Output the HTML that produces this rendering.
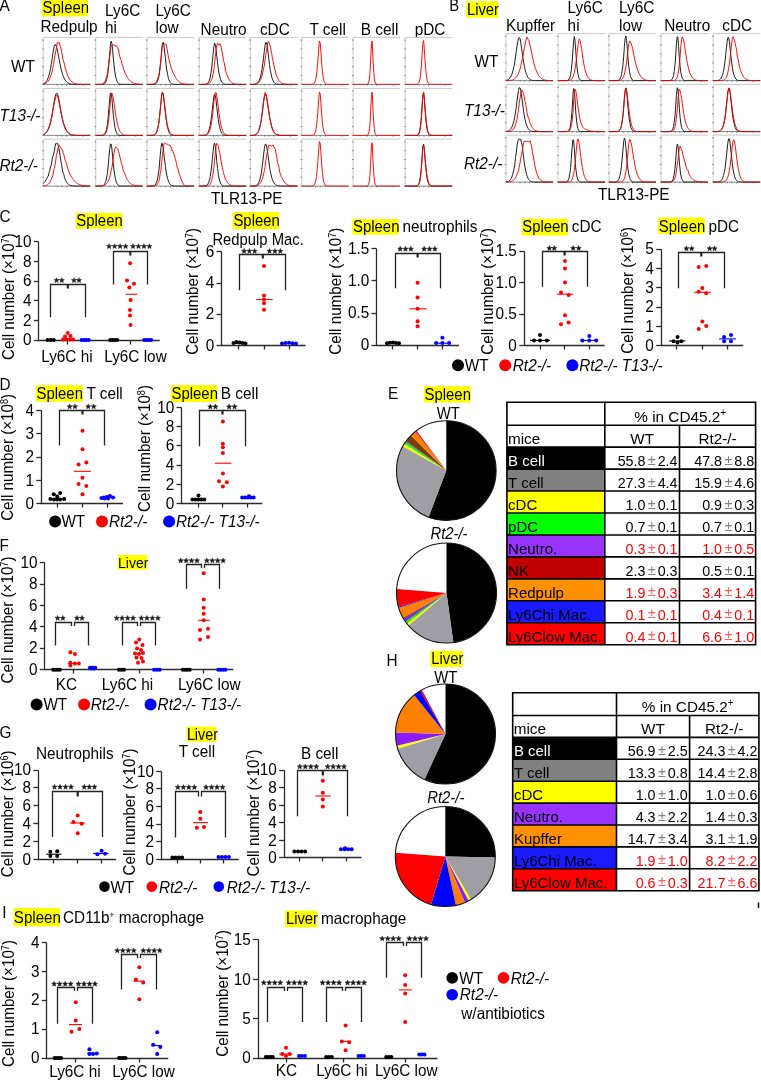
<!DOCTYPE html>
<html><head><meta charset="utf-8"><style>
html,body{margin:0;padding:0;background:#fff;width:761px;height:1080px;overflow:hidden}
svg{display:block;will-change:transform}
text{font-family:"Liberation Sans", sans-serif}
</style></head><body>
<svg width="761" height="1080" viewBox="0 0 761 1080" font-family="Liberation Sans, sans-serif">
<rect width="761" height="1080" fill="#fff"/>
<text transform="translate(-0.5,11.3) scale(0.92,1)" font-size="16.68" text-anchor="start" fill="#000">A</text>
<rect x="42.0" y="0.0" width="45.8" height="16.4" fill="#ffff00"/>
<text transform="translate(42.6,13.4) scale(0.92,1)" font-size="16.23" text-anchor="start" fill="#000">Spleen</text>
<text transform="translate(40.5,32.2) scale(0.92,1)" font-size="16.68" text-anchor="start" fill="#000">Redpulp</text>
<text transform="translate(105.0,15.6) scale(0.92,1)" font-size="16.68" text-anchor="start" fill="#000">Ly6C</text>
<text transform="translate(105.0,33.3) scale(0.92,1)" font-size="16.68" text-anchor="start" fill="#000">hi</text>
<text transform="translate(155.6,15.6) scale(0.92,1)" font-size="16.68" text-anchor="start" fill="#000">Ly6C</text>
<text transform="translate(155.6,33.3) scale(0.92,1)" font-size="16.68" text-anchor="start" fill="#000">low</text>
<text transform="translate(200.6,35.1) scale(0.92,1)" font-size="16.68" text-anchor="start" fill="#000">Neutro</text>
<text transform="translate(259.9,35.1) scale(0.92,1)" font-size="16.68" text-anchor="start" fill="#000">cDC</text>
<text transform="translate(309.5,35.1) scale(0.92,1)" font-size="16.68" text-anchor="start" fill="#000">T cell</text>
<text transform="translate(360.8,35.1) scale(0.92,1)" font-size="16.68" text-anchor="start" fill="#000">B cell</text>
<text transform="translate(414.7,35.1) scale(0.92,1)" font-size="16.68" text-anchor="start" fill="#000">pDC</text>
<text transform="translate(11.0,71.5) scale(0.92,1)" font-size="16.68" text-anchor="start" fill="#000">WT</text>
<text transform="translate(-0.5,120.8) scale(0.92,1)" font-size="16.68" text-anchor="start" fill="#000" font-style="italic">T13-/-</text>
<text transform="translate(-0.5,170.7) scale(0.92,1)" font-size="16.68" text-anchor="start" fill="#000" font-style="italic">Rt2-/-</text>
<text transform="translate(211.0,204.4) scale(0.92,1)" font-size="16.68" text-anchor="start" fill="#000">TLR13-PE</text>
<path d="M43.2,84.4V37.4H90.2" stroke="#c8c8c8" stroke-width="1" fill="none"/>
<path d="M42.0,84.4H43.7" stroke="#777" stroke-width="0.8"/>
<path d="M42.0,75.5H43.7" stroke="#777" stroke-width="0.8"/>
<path d="M42.0,66.7H43.7" stroke="#777" stroke-width="0.8"/>
<path d="M42.0,57.8H43.7" stroke="#777" stroke-width="0.8"/>
<path d="M42.0,48.9H43.7" stroke="#777" stroke-width="0.8"/>
<path d="M42.0,40.1H43.7" stroke="#777" stroke-width="0.8"/>
<path d="M43.2,84.4H90.2" stroke="#888" stroke-width="1"/>
<path d="M43.2,83.9 L43.9,83.6 L44.7,83.2 L45.4,82.6 L46.1,81.7 L46.9,80.6 L47.6,79.2 L48.3,77.3 L49.1,75.0 L49.8,72.1 L50.5,68.6 L51.3,64.3 L52.0,59.5 L52.7,54.5 L53.5,49.9 L54.2,46.3 L55.0,44.6 L55.7,44.8 L56.4,46.4 L57.2,49.1 L57.9,52.7 L58.6,56.6 L59.4,60.7 L60.1,64.4 L60.8,67.9 L61.6,70.9 L62.3,73.4 L63.0,75.6 L63.8,77.4 L64.5,78.9 L65.2,80.1 L66.0,81.1 L66.7,81.9 L67.4,82.6 L68.2,83.1 L68.9,83.4 L69.6,83.7 L70.4,83.9 L71.1,84.1 L71.8,84.2 L72.6,84.3 L73.3,84.3 L74.0,84.3 L74.8,84.4 L75.5,84.4 L76.2,84.4 L77.0,84.4 L77.7,84.4 L78.5,84.4 L79.2,84.4 L79.9,84.4 L80.7,84.4 L81.4,84.4 L82.1,84.4 L82.9,84.4 L83.6,84.4 L84.3,84.4 L85.1,84.4 L85.8,84.4 L86.5,84.4 L87.3,84.4 L88.0,84.4 L88.7,84.4 L89.5,84.4 L90.2,84.4" stroke="#111111" stroke-width="0.95" fill="none" stroke-linejoin="round"/>
<path d="M43.2,84.2 L43.9,84.0 L44.7,83.8 L45.4,83.6 L46.1,83.2 L46.9,82.6 L47.6,81.9 L48.3,81.0 L49.1,79.8 L49.8,78.3 L50.5,76.5 L51.3,74.3 L52.0,72.2 L52.7,68.2 L53.5,64.8 L54.2,59.8 L55.0,55.1 L55.7,51.8 L56.4,47.8 L57.2,42.7 L57.9,42.8 L58.6,43.0 L59.4,42.3 L60.1,45.8 L60.8,47.7 L61.6,51.9 L62.3,55.0 L63.0,59.8 L63.8,61.9 L64.5,64.5 L65.2,68.2 L66.0,70.2 L66.7,72.5 L67.4,74.9 L68.2,76.5 L68.9,77.9 L69.6,79.1 L70.4,80.1 L71.1,81.0 L71.8,81.7 L72.6,82.3 L73.3,82.8 L74.0,83.2 L74.8,83.5 L75.5,83.7 L76.2,83.9 L77.0,84.0 L77.7,84.1 L78.5,84.2 L79.2,84.3 L79.9,84.3 L80.7,84.3 L81.4,84.4 L82.1,84.4 L82.9,84.4 L83.6,84.4 L84.3,84.4 L85.1,84.4 L85.8,84.4 L86.5,84.4 L87.3,84.4 L88.0,84.4 L88.7,84.4 L89.5,84.4 L90.2,84.4" stroke="#ff0000" stroke-width="0.95" fill="none" stroke-linejoin="round"/>
<path d="M57.3,84.4V85.6" stroke="#555" stroke-width="0.8"/>
<path d="M62.0,84.4V85.6" stroke="#555" stroke-width="0.8"/>
<path d="M66.7,84.4V85.6" stroke="#555" stroke-width="0.8"/>
<path d="M83.2,84.4V85.6" stroke="#555" stroke-width="0.8"/>
<path d="M95.7,84.4V37.4H142.7" stroke="#c8c8c8" stroke-width="1" fill="none"/>
<path d="M94.5,84.4H96.2" stroke="#777" stroke-width="0.8"/>
<path d="M94.5,75.5H96.2" stroke="#777" stroke-width="0.8"/>
<path d="M94.5,66.7H96.2" stroke="#777" stroke-width="0.8"/>
<path d="M94.5,57.8H96.2" stroke="#777" stroke-width="0.8"/>
<path d="M94.5,48.9H96.2" stroke="#777" stroke-width="0.8"/>
<path d="M94.5,40.1H96.2" stroke="#777" stroke-width="0.8"/>
<path d="M95.7,84.4H142.7" stroke="#888" stroke-width="1"/>
<path d="M95.7,84.4 L96.4,84.4 L97.2,84.4 L97.9,84.4 L98.6,84.4 L99.4,84.4 L100.1,84.4 L100.8,84.4 L101.6,84.4 L102.3,84.4 L103.0,84.3 L103.8,84.1 L104.5,83.7 L105.2,82.9 L106.0,81.6 L106.7,79.3 L107.5,75.8 L108.2,70.6 L108.9,63.2 L109.7,54.0 L110.4,45.4 L111.1,41.2 L111.9,43.3 L112.6,49.8 L113.3,58.1 L114.1,65.7 L114.8,71.7 L115.5,76.1 L116.3,79.2 L117.0,81.3 L117.7,82.6 L118.5,83.5 L119.2,83.9 L119.9,84.2 L120.7,84.3 L121.4,84.4 L122.1,84.4 L122.9,84.4 L123.6,84.4 L124.3,84.4 L125.1,84.4 L125.8,84.4 L126.5,84.4 L127.3,84.4 L128.0,84.4 L128.7,84.4 L129.5,84.4 L130.2,84.4 L130.9,84.4 L131.7,84.4 L132.4,84.4 L133.2,84.4 L133.9,84.4 L134.6,84.4 L135.4,84.4 L136.1,84.4 L136.8,84.4 L137.6,84.4 L138.3,84.4 L139.0,84.4 L139.8,84.4 L140.5,84.4 L141.2,84.4 L142.0,84.4 L142.7,84.4" stroke="#111111" stroke-width="0.95" fill="none" stroke-linejoin="round"/>
<path d="M95.7,84.4 L96.4,84.4 L97.2,84.4 L97.9,84.4 L98.6,84.4 L99.4,84.4 L100.1,84.4 L100.8,84.3 L101.6,84.2 L102.3,84.0 L103.0,83.7 L103.8,83.1 L104.5,82.2 L105.2,80.9 L106.0,79.0 L106.7,76.5 L107.5,74.0 L108.2,67.8 L108.9,62.5 L109.7,56.7 L110.4,51.4 L111.1,45.7 L111.9,45.9 L112.6,45.4 L113.3,45.0 L114.1,45.4 L114.8,44.9 L115.5,46.1 L116.3,45.5 L117.0,47.3 L117.7,47.8 L118.5,50.0 L119.2,54.2 L119.9,56.8 L120.7,59.4 L121.4,60.4 L122.1,64.3 L122.9,66.3 L123.6,69.4 L124.3,70.9 L125.1,73.1 L125.8,74.8 L126.5,75.9 L127.3,77.2 L128.0,78.3 L128.7,79.2 L129.5,80.1 L130.2,80.8 L130.9,81.5 L131.7,82.0 L132.4,82.5 L133.2,82.9 L133.9,83.2 L134.6,83.4 L135.4,83.6 L136.1,83.8 L136.8,84.0 L137.6,84.1 L138.3,84.1 L139.0,84.2 L139.8,84.3 L140.5,84.3 L141.2,84.3 L142.0,84.3 L142.7,84.4" stroke="#ff0000" stroke-width="0.95" fill="none" stroke-linejoin="round"/>
<path d="M109.8,84.4V85.6" stroke="#555" stroke-width="0.8"/>
<path d="M114.5,84.4V85.6" stroke="#555" stroke-width="0.8"/>
<path d="M119.2,84.4V85.6" stroke="#555" stroke-width="0.8"/>
<path d="M135.7,84.4V85.6" stroke="#555" stroke-width="0.8"/>
<path d="M147.0,84.4V37.4H194.0" stroke="#c8c8c8" stroke-width="1" fill="none"/>
<path d="M145.8,84.4H147.5" stroke="#777" stroke-width="0.8"/>
<path d="M145.8,75.5H147.5" stroke="#777" stroke-width="0.8"/>
<path d="M145.8,66.7H147.5" stroke="#777" stroke-width="0.8"/>
<path d="M145.8,57.8H147.5" stroke="#777" stroke-width="0.8"/>
<path d="M145.8,48.9H147.5" stroke="#777" stroke-width="0.8"/>
<path d="M145.8,40.1H147.5" stroke="#777" stroke-width="0.8"/>
<path d="M147.0,84.4H194.0" stroke="#888" stroke-width="1"/>
<path d="M147.0,84.4 L147.7,84.4 L148.5,84.4 L149.2,84.4 L149.9,84.4 L150.7,84.4 L151.4,84.4 L152.1,84.4 L152.9,84.4 L153.6,84.3 L154.3,84.2 L155.1,84.0 L155.8,83.7 L156.5,82.9 L157.3,81.7 L158.0,79.7 L158.8,76.7 L159.5,72.4 L160.2,66.4 L161.0,58.6 L161.7,50.2 L162.4,43.8 L163.2,42.2 L163.9,45.2 L164.6,51.0 L165.4,58.1 L166.1,64.7 L166.8,70.2 L167.6,74.4 L168.3,77.6 L169.0,79.9 L169.8,81.6 L170.5,82.7 L171.2,83.4 L172.0,83.9 L172.7,84.1 L173.4,84.3 L174.2,84.3 L174.9,84.4 L175.6,84.4 L176.4,84.4 L177.1,84.4 L177.8,84.4 L178.6,84.4 L179.3,84.4 L180.0,84.4 L180.8,84.4 L181.5,84.4 L182.2,84.4 L183.0,84.4 L183.7,84.4 L184.5,84.4 L185.2,84.4 L185.9,84.4 L186.7,84.4 L187.4,84.4 L188.1,84.4 L188.9,84.4 L189.6,84.4 L190.3,84.4 L191.1,84.4 L191.8,84.4 L192.5,84.4 L193.3,84.4 L194.0,84.4" stroke="#111111" stroke-width="0.95" fill="none" stroke-linejoin="round"/>
<path d="M147.0,84.4 L147.7,84.4 L148.5,84.4 L149.2,84.4 L149.9,84.4 L150.7,84.3 L151.4,84.3 L152.1,84.3 L152.9,84.2 L153.6,84.0 L154.3,83.7 L155.1,83.3 L155.8,82.6 L156.5,81.6 L157.3,80.1 L158.0,78.0 L158.8,75.1 L159.5,71.3 L160.2,66.3 L161.0,59.9 L161.7,52.5 L162.4,44.9 L163.2,44.0 L163.9,44.0 L164.6,44.0 L165.4,44.0 L166.1,44.0 L166.8,47.4 L167.6,52.1 L168.3,56.3 L169.0,59.9 L169.8,62.9 L170.5,65.6 L171.2,67.9 L172.0,69.9 L172.7,71.8 L173.4,73.4 L174.2,74.9 L174.9,76.3 L175.6,77.6 L176.4,78.7 L177.1,79.7 L177.8,80.6 L178.6,81.4 L179.3,82.0 L180.0,82.6 L180.8,83.0 L181.5,83.4 L182.2,83.6 L183.0,83.9 L183.7,84.0 L184.5,84.1 L185.2,84.2 L185.9,84.3 L186.7,84.3 L187.4,84.3 L188.1,84.4 L188.9,84.4 L189.6,84.4 L190.3,84.4 L191.1,84.4 L191.8,84.4 L192.5,84.4 L193.3,84.4 L194.0,84.4" stroke="#ff0000" stroke-width="0.95" fill="none" stroke-linejoin="round"/>
<path d="M161.1,84.4V85.6" stroke="#555" stroke-width="0.8"/>
<path d="M165.8,84.4V85.6" stroke="#555" stroke-width="0.8"/>
<path d="M170.5,84.4V85.6" stroke="#555" stroke-width="0.8"/>
<path d="M186.9,84.4V85.6" stroke="#555" stroke-width="0.8"/>
<path d="M199.2,84.4V37.4H246.2" stroke="#c8c8c8" stroke-width="1" fill="none"/>
<path d="M198.0,84.4H199.7" stroke="#777" stroke-width="0.8"/>
<path d="M198.0,75.5H199.7" stroke="#777" stroke-width="0.8"/>
<path d="M198.0,66.7H199.7" stroke="#777" stroke-width="0.8"/>
<path d="M198.0,57.8H199.7" stroke="#777" stroke-width="0.8"/>
<path d="M198.0,48.9H199.7" stroke="#777" stroke-width="0.8"/>
<path d="M198.0,40.1H199.7" stroke="#777" stroke-width="0.8"/>
<path d="M199.2,84.4H246.2" stroke="#888" stroke-width="1"/>
<path d="M199.2,84.4 L199.9,84.4 L200.7,84.4 L201.4,84.4 L202.1,84.4 L202.9,84.4 L203.6,84.4 L204.3,84.4 L205.1,84.3 L205.8,84.2 L206.5,84.0 L207.3,83.7 L208.0,83.0 L208.7,81.8 L209.5,80.0 L210.2,77.3 L210.9,73.4 L211.7,68.1 L212.4,61.1 L213.2,53.2 L213.9,46.3 L214.6,43.1 L215.4,44.6 L216.1,49.5 L216.8,56.2 L217.6,62.9 L218.3,68.7 L219.0,73.3 L219.8,76.7 L220.5,79.3 L221.2,81.1 L222.0,82.4 L222.7,83.2 L223.4,83.7 L224.2,84.1 L224.9,84.2 L225.6,84.3 L226.4,84.4 L227.1,84.4 L227.8,84.4 L228.6,84.4 L229.3,84.4 L230.0,84.4 L230.8,84.4 L231.5,84.4 L232.2,84.4 L233.0,84.4 L233.7,84.4 L234.4,84.4 L235.2,84.4 L235.9,84.4 L236.7,84.4 L237.4,84.4 L238.1,84.4 L238.9,84.4 L239.6,84.4 L240.3,84.4 L241.1,84.4 L241.8,84.4 L242.5,84.4 L243.3,84.4 L244.0,84.4 L244.7,84.4 L245.5,84.4 L246.2,84.4" stroke="#111111" stroke-width="0.95" fill="none" stroke-linejoin="round"/>
<path d="M199.2,84.4 L199.9,84.4 L200.7,84.4 L201.4,84.4 L202.1,84.4 L202.9,84.4 L203.6,84.4 L204.3,84.4 L205.1,84.4 L205.8,84.4 L206.5,84.3 L207.3,84.2 L208.0,84.1 L208.7,83.8 L209.5,83.3 L210.2,82.4 L210.9,81.2 L211.7,79.5 L212.4,77.0 L213.2,73.5 L213.9,69.1 L214.6,62.7 L215.4,56.7 L216.1,49.6 L216.8,45.1 L217.6,43.3 L218.3,44.0 L219.0,45.3 L219.8,43.7 L220.5,44.7 L221.2,47.3 L222.0,51.5 L222.7,55.0 L223.4,60.2 L224.2,62.6 L224.9,66.8 L225.6,70.6 L226.4,73.8 L227.1,75.0 L227.8,76.9 L228.6,78.5 L229.3,79.8 L230.0,80.8 L230.8,81.7 L231.5,82.4 L232.2,82.9 L233.0,83.4 L233.7,83.7 L234.4,83.9 L235.2,84.1 L235.9,84.2 L236.7,84.2 L237.4,84.3 L238.1,84.3 L238.9,84.4 L239.6,84.4 L240.3,84.4 L241.1,84.4 L241.8,84.4 L242.5,84.4 L243.3,84.4 L244.0,84.4 L244.7,84.4 L245.5,84.4 L246.2,84.4" stroke="#ff0000" stroke-width="0.95" fill="none" stroke-linejoin="round"/>
<path d="M213.3,84.4V85.6" stroke="#555" stroke-width="0.8"/>
<path d="M218.0,84.4V85.6" stroke="#555" stroke-width="0.8"/>
<path d="M222.7,84.4V85.6" stroke="#555" stroke-width="0.8"/>
<path d="M239.1,84.4V85.6" stroke="#555" stroke-width="0.8"/>
<path d="M250.4,84.4V37.4H297.4" stroke="#c8c8c8" stroke-width="1" fill="none"/>
<path d="M249.2,84.4H250.9" stroke="#777" stroke-width="0.8"/>
<path d="M249.2,75.5H250.9" stroke="#777" stroke-width="0.8"/>
<path d="M249.2,66.7H250.9" stroke="#777" stroke-width="0.8"/>
<path d="M249.2,57.8H250.9" stroke="#777" stroke-width="0.8"/>
<path d="M249.2,48.9H250.9" stroke="#777" stroke-width="0.8"/>
<path d="M249.2,40.1H250.9" stroke="#777" stroke-width="0.8"/>
<path d="M250.4,84.4H297.4" stroke="#888" stroke-width="1"/>
<path d="M250.4,84.4 L251.1,84.4 L251.9,84.4 L252.6,84.4 L253.3,84.4 L254.1,84.3 L254.8,84.2 L255.5,84.1 L256.3,83.8 L257.0,83.4 L257.7,82.8 L258.5,81.8 L259.2,80.4 L259.9,78.6 L260.7,76.0 L261.4,72.7 L262.1,68.4 L262.9,63.1 L263.6,56.9 L264.4,50.5 L265.1,45.2 L265.8,42.3 L266.6,42.8 L267.3,46.3 L268.0,52.0 L268.8,58.5 L269.5,64.5 L270.2,69.6 L271.0,73.6 L271.7,76.7 L272.4,79.1 L273.2,80.8 L273.9,82.1 L274.6,83.0 L275.4,83.5 L276.1,83.9 L276.8,84.1 L277.6,84.3 L278.3,84.3 L279.0,84.4 L279.8,84.4 L280.5,84.4 L281.2,84.4 L282.0,84.4 L282.7,84.4 L283.4,84.4 L284.2,84.4 L284.9,84.4 L285.6,84.4 L286.4,84.4 L287.1,84.4 L287.9,84.4 L288.6,84.4 L289.3,84.4 L290.1,84.4 L290.8,84.4 L291.5,84.4 L292.3,84.4 L293.0,84.4 L293.7,84.4 L294.5,84.4 L295.2,84.4 L295.9,84.4 L296.7,84.4 L297.4,84.4" stroke="#111111" stroke-width="0.95" fill="none" stroke-linejoin="round"/>
<path d="M250.4,84.4 L251.1,84.4 L251.9,84.4 L252.6,84.4 L253.3,84.3 L254.1,84.3 L254.8,84.2 L255.5,84.1 L256.3,83.9 L257.0,83.7 L257.7,83.3 L258.5,82.7 L259.2,81.9 L259.9,80.8 L260.7,79.4 L261.4,77.6 L262.1,75.3 L262.9,71.8 L263.6,68.1 L264.4,65.4 L265.1,59.2 L265.8,54.6 L266.6,49.9 L267.3,45.5 L268.0,42.1 L268.8,41.6 L269.5,44.2 L270.2,45.8 L271.0,50.3 L271.7,53.3 L272.4,58.2 L273.2,61.4 L273.9,65.0 L274.6,69.1 L275.4,71.1 L276.1,74.4 L276.8,76.4 L277.6,78.1 L278.3,79.5 L279.0,80.6 L279.8,81.5 L280.5,82.3 L281.2,82.8 L282.0,83.3 L282.7,83.6 L283.4,83.9 L284.2,84.0 L284.9,84.2 L285.6,84.2 L286.4,84.3 L287.1,84.3 L287.9,84.4 L288.6,84.4 L289.3,84.4 L290.1,84.4 L290.8,84.4 L291.5,84.4 L292.3,84.4 L293.0,84.4 L293.7,84.4 L294.5,84.4 L295.2,84.4 L295.9,84.4 L296.7,84.4 L297.4,84.4" stroke="#ff0000" stroke-width="0.95" fill="none" stroke-linejoin="round"/>
<path d="M264.5,84.4V85.6" stroke="#555" stroke-width="0.8"/>
<path d="M269.2,84.4V85.6" stroke="#555" stroke-width="0.8"/>
<path d="M273.9,84.4V85.6" stroke="#555" stroke-width="0.8"/>
<path d="M290.4,84.4V85.6" stroke="#555" stroke-width="0.8"/>
<path d="M301.8,84.4V37.4H348.8" stroke="#c8c8c8" stroke-width="1" fill="none"/>
<path d="M300.6,84.4H302.3" stroke="#777" stroke-width="0.8"/>
<path d="M300.6,75.5H302.3" stroke="#777" stroke-width="0.8"/>
<path d="M300.6,66.7H302.3" stroke="#777" stroke-width="0.8"/>
<path d="M300.6,57.8H302.3" stroke="#777" stroke-width="0.8"/>
<path d="M300.6,48.9H302.3" stroke="#777" stroke-width="0.8"/>
<path d="M300.6,40.1H302.3" stroke="#777" stroke-width="0.8"/>
<path d="M301.8,84.4H348.8" stroke="#888" stroke-width="1"/>
<path d="M301.8,84.4 L302.5,84.4 L303.3,84.4 L304.0,84.4 L304.7,84.4 L305.5,84.4 L306.2,84.4 L306.9,84.4 L307.7,84.4 L308.4,84.4 L309.1,84.4 L309.9,84.4 L310.6,84.4 L311.3,84.4 L312.1,84.3 L312.8,84.2 L313.6,83.9 L314.3,83.2 L315.0,81.8 L315.8,79.2 L316.5,75.0 L317.2,68.4 L318.0,58.9 L318.7,48.2 L319.4,41.2 L320.2,42.9 L320.9,51.9 L321.6,62.7 L322.4,71.1 L323.1,76.7 L323.8,80.3 L324.6,82.4 L325.3,83.5 L326.0,84.1 L326.8,84.3 L327.5,84.4 L328.2,84.4 L329.0,84.4 L329.7,84.4 L330.4,84.4 L331.2,84.4 L331.9,84.4 L332.6,84.4 L333.4,84.4 L334.1,84.4 L334.8,84.4 L335.6,84.4 L336.3,84.4 L337.1,84.4 L337.8,84.4 L338.5,84.4 L339.3,84.4 L340.0,84.4 L340.7,84.4 L341.5,84.4 L342.2,84.4 L342.9,84.4 L343.7,84.4 L344.4,84.4 L345.1,84.4 L345.9,84.4 L346.6,84.4 L347.3,84.4 L348.1,84.4 L348.8,84.4" stroke="#ff0000" stroke-width="0.95" fill="none" stroke-linejoin="round"/>
<path d="M315.9,84.4V85.6" stroke="#555" stroke-width="0.8"/>
<path d="M320.6,84.4V85.6" stroke="#555" stroke-width="0.8"/>
<path d="M325.3,84.4V85.6" stroke="#555" stroke-width="0.8"/>
<path d="M341.8,84.4V85.6" stroke="#555" stroke-width="0.8"/>
<path d="M353.1,84.4V37.4H400.1" stroke="#c8c8c8" stroke-width="1" fill="none"/>
<path d="M351.9,84.4H353.6" stroke="#777" stroke-width="0.8"/>
<path d="M351.9,75.5H353.6" stroke="#777" stroke-width="0.8"/>
<path d="M351.9,66.7H353.6" stroke="#777" stroke-width="0.8"/>
<path d="M351.9,57.8H353.6" stroke="#777" stroke-width="0.8"/>
<path d="M351.9,48.9H353.6" stroke="#777" stroke-width="0.8"/>
<path d="M351.9,40.1H353.6" stroke="#777" stroke-width="0.8"/>
<path d="M353.1,84.4H400.1" stroke="#888" stroke-width="1"/>
<path d="M353.1,84.4 L353.8,84.4 L354.6,84.4 L355.3,84.4 L356.0,84.4 L356.8,84.4 L357.5,84.4 L358.2,84.4 L359.0,84.4 L359.7,84.4 L360.4,84.4 L361.2,84.4 L361.9,84.4 L362.6,84.4 L363.4,84.4 L364.1,84.4 L364.9,84.4 L365.6,84.4 L366.3,84.4 L367.1,84.3 L367.8,84.0 L368.5,82.9 L369.3,79.8 L370.0,72.8 L370.7,59.7 L371.5,43.3 L372.2,41.1 L372.9,56.3 L373.7,70.8 L374.4,78.7 L375.1,82.5 L375.9,83.9 L376.6,84.3 L377.3,84.4 L378.1,84.4 L378.8,84.4 L379.5,84.4 L380.3,84.4 L381.0,84.4 L381.7,84.4 L382.5,84.4 L383.2,84.4 L383.9,84.4 L384.7,84.4 L385.4,84.4 L386.1,84.4 L386.9,84.4 L387.6,84.4 L388.4,84.4 L389.1,84.4 L389.8,84.4 L390.6,84.4 L391.3,84.4 L392.0,84.4 L392.8,84.4 L393.5,84.4 L394.2,84.4 L395.0,84.4 L395.7,84.4 L396.4,84.4 L397.2,84.4 L397.9,84.4 L398.6,84.4 L399.4,84.4 L400.1,84.4" stroke="#ff0000" stroke-width="0.95" fill="none" stroke-linejoin="round"/>
<path d="M367.2,84.4V85.6" stroke="#555" stroke-width="0.8"/>
<path d="M371.9,84.4V85.6" stroke="#555" stroke-width="0.8"/>
<path d="M376.6,84.4V85.6" stroke="#555" stroke-width="0.8"/>
<path d="M393.1,84.4V85.6" stroke="#555" stroke-width="0.8"/>
<path d="M405.2,84.4V37.4H452.2" stroke="#c8c8c8" stroke-width="1" fill="none"/>
<path d="M404.0,84.4H405.7" stroke="#777" stroke-width="0.8"/>
<path d="M404.0,75.5H405.7" stroke="#777" stroke-width="0.8"/>
<path d="M404.0,66.7H405.7" stroke="#777" stroke-width="0.8"/>
<path d="M404.0,57.8H405.7" stroke="#777" stroke-width="0.8"/>
<path d="M404.0,48.9H405.7" stroke="#777" stroke-width="0.8"/>
<path d="M404.0,40.1H405.7" stroke="#777" stroke-width="0.8"/>
<path d="M405.2,84.4H452.2" stroke="#888" stroke-width="1"/>
<path d="M405.2,84.4 L405.9,84.4 L406.7,84.4 L407.4,84.4 L408.1,84.4 L408.9,84.4 L409.6,84.4 L410.3,84.4 L411.1,84.4 L411.8,84.4 L412.5,84.4 L413.3,84.4 L414.0,84.4 L414.7,84.4 L415.5,84.4 L416.2,84.4 L416.9,84.3 L417.7,84.0 L418.4,83.4 L419.2,81.9 L419.9,79.1 L420.6,74.2 L421.4,66.2 L422.1,54.7 L422.8,43.6 L423.6,40.5 L424.3,48.3 L425.0,60.4 L425.8,70.3 L426.5,76.8 L427.2,80.6 L428.0,82.7 L428.7,83.8 L429.4,84.2 L430.2,84.3 L430.9,84.4 L431.6,84.4 L432.4,84.4 L433.1,84.4 L433.8,84.4 L434.6,84.4 L435.3,84.4 L436.0,84.4 L436.8,84.4 L437.5,84.4 L438.2,84.4 L439.0,84.4 L439.7,84.4 L440.4,84.4 L441.2,84.4 L441.9,84.4 L442.7,84.4 L443.4,84.4 L444.1,84.4 L444.9,84.4 L445.6,84.4 L446.3,84.4 L447.1,84.4 L447.8,84.4 L448.5,84.4 L449.3,84.4 L450.0,84.4 L450.7,84.4 L451.5,84.4 L452.2,84.4" stroke="#ff0000" stroke-width="0.95" fill="none" stroke-linejoin="round"/>
<path d="M419.3,84.4V85.6" stroke="#555" stroke-width="0.8"/>
<path d="M424.0,84.4V85.6" stroke="#555" stroke-width="0.8"/>
<path d="M428.7,84.4V85.6" stroke="#555" stroke-width="0.8"/>
<path d="M445.1,84.4V85.6" stroke="#555" stroke-width="0.8"/>
<path d="M43.2,135.4V88.4H90.2" stroke="#c8c8c8" stroke-width="1" fill="none"/>
<path d="M42.0,135.4H43.7" stroke="#777" stroke-width="0.8"/>
<path d="M42.0,126.5H43.7" stroke="#777" stroke-width="0.8"/>
<path d="M42.0,117.7H43.7" stroke="#777" stroke-width="0.8"/>
<path d="M42.0,108.8H43.7" stroke="#777" stroke-width="0.8"/>
<path d="M42.0,99.9H43.7" stroke="#777" stroke-width="0.8"/>
<path d="M42.0,91.1H43.7" stroke="#777" stroke-width="0.8"/>
<path d="M43.2,135.4H90.2" stroke="#888" stroke-width="1"/>
<path d="M43.2,134.7 L43.9,134.4 L44.7,134.0 L45.4,133.4 L46.1,132.6 L46.9,131.6 L47.6,130.4 L48.3,128.8 L49.1,126.9 L49.8,124.6 L50.5,121.9 L51.3,118.5 L52.0,114.7 L52.7,110.3 L53.5,105.7 L54.2,101.2 L55.0,97.3 L55.7,94.4 L56.4,93.2 L57.2,93.5 L57.9,95.3 L58.6,98.3 L59.4,102.1 L60.1,106.4 L60.8,110.6 L61.6,114.6 L62.3,118.2 L63.0,121.3 L63.8,124.0 L64.5,126.2 L65.2,128.1 L66.0,129.7 L66.7,130.9 L67.4,132.0 L68.2,132.8 L68.9,133.5 L69.6,134.0 L70.4,134.4 L71.1,134.7 L71.8,134.9 L72.6,135.1 L73.3,135.2 L74.0,135.3 L74.8,135.3 L75.5,135.3 L76.2,135.4 L77.0,135.4 L77.7,135.4 L78.5,135.4 L79.2,135.4 L79.9,135.4 L80.7,135.4 L81.4,135.4 L82.1,135.4 L82.9,135.4 L83.6,135.4 L84.3,135.4 L85.1,135.4 L85.8,135.4 L86.5,135.4 L87.3,135.4 L88.0,135.4 L88.7,135.4 L89.5,135.4 L90.2,135.4" stroke="#111111" stroke-width="0.95" fill="none" stroke-linejoin="round"/>
<path d="M43.2,134.8 L43.9,134.5 L44.7,134.1 L45.4,133.5 L46.1,132.8 L46.9,131.8 L47.6,130.7 L48.3,129.2 L49.1,127.4 L49.8,125.5 L50.5,123.3 L51.3,119.3 L52.0,116.6 L52.7,112.2 L53.5,107.5 L54.2,102.9 L55.0,99.9 L55.7,97.4 L56.4,94.9 L57.2,96.2 L57.9,96.8 L58.6,99.8 L59.4,104.2 L60.1,108.0 L60.8,111.9 L61.6,115.5 L62.3,119.0 L63.0,122.0 L63.8,124.4 L64.5,126.7 L65.2,128.5 L66.0,130.0 L66.7,131.2 L67.4,132.2 L68.2,133.0 L68.9,133.6 L69.6,134.1 L70.4,134.5 L71.1,134.8 L71.8,135.0 L72.6,135.1 L73.3,135.2 L74.0,135.3 L74.8,135.3 L75.5,135.3 L76.2,135.4 L77.0,135.4 L77.7,135.4 L78.5,135.4 L79.2,135.4 L79.9,135.4 L80.7,135.4 L81.4,135.4 L82.1,135.4 L82.9,135.4 L83.6,135.4 L84.3,135.4 L85.1,135.4 L85.8,135.4 L86.5,135.4 L87.3,135.4 L88.0,135.4 L88.7,135.4 L89.5,135.4 L90.2,135.4" stroke="#ff0000" stroke-width="0.95" fill="none" stroke-linejoin="round"/>
<path d="M57.3,135.4V136.6" stroke="#555" stroke-width="0.8"/>
<path d="M62.0,135.4V136.6" stroke="#555" stroke-width="0.8"/>
<path d="M66.7,135.4V136.6" stroke="#555" stroke-width="0.8"/>
<path d="M83.2,135.4V136.6" stroke="#555" stroke-width="0.8"/>
<path d="M95.7,135.4V88.4H142.7" stroke="#c8c8c8" stroke-width="1" fill="none"/>
<path d="M94.5,135.4H96.2" stroke="#777" stroke-width="0.8"/>
<path d="M94.5,126.5H96.2" stroke="#777" stroke-width="0.8"/>
<path d="M94.5,117.7H96.2" stroke="#777" stroke-width="0.8"/>
<path d="M94.5,108.8H96.2" stroke="#777" stroke-width="0.8"/>
<path d="M94.5,99.9H96.2" stroke="#777" stroke-width="0.8"/>
<path d="M94.5,91.1H96.2" stroke="#777" stroke-width="0.8"/>
<path d="M95.7,135.4H142.7" stroke="#888" stroke-width="1"/>
<path d="M95.7,135.4 L96.4,135.4 L97.2,135.4 L97.9,135.4 L98.6,135.4 L99.4,135.4 L100.1,135.4 L100.8,135.4 L101.6,135.4 L102.3,135.3 L103.0,135.2 L103.8,134.9 L104.5,134.3 L105.2,133.1 L106.0,131.2 L106.7,128.2 L107.5,123.7 L108.2,117.1 L108.9,108.5 L109.7,99.2 L110.4,93.0 L111.1,93.0 L111.9,98.5 L112.6,106.9 L113.3,115.2 L114.1,121.8 L114.8,126.6 L115.5,129.9 L116.3,132.2 L117.0,133.6 L117.7,134.5 L118.5,135.0 L119.2,135.2 L119.9,135.3 L120.7,135.4 L121.4,135.4 L122.1,135.4 L122.9,135.4 L123.6,135.4 L124.3,135.4 L125.1,135.4 L125.8,135.4 L126.5,135.4 L127.3,135.4 L128.0,135.4 L128.7,135.4 L129.5,135.4 L130.2,135.4 L130.9,135.4 L131.7,135.4 L132.4,135.4 L133.2,135.4 L133.9,135.4 L134.6,135.4 L135.4,135.4 L136.1,135.4 L136.8,135.4 L137.6,135.4 L138.3,135.4 L139.0,135.4 L139.8,135.4 L140.5,135.4 L141.2,135.4 L142.0,135.4 L142.7,135.4" stroke="#111111" stroke-width="0.95" fill="none" stroke-linejoin="round"/>
<path d="M95.7,135.4 L96.4,135.4 L97.2,135.4 L97.9,135.4 L98.6,135.4 L99.4,135.4 L100.1,135.4 L100.8,135.4 L101.6,135.4 L102.3,135.3 L103.0,135.2 L103.8,135.0 L104.5,134.7 L105.2,133.9 L106.0,132.7 L106.7,130.7 L107.5,127.7 L108.2,123.4 L108.9,117.4 L109.7,109.6 L110.4,101.2 L111.1,94.8 L111.9,93.2 L112.6,94.9 L113.3,98.5 L114.1,103.3 L114.8,108.7 L115.5,113.8 L116.3,118.3 L117.0,122.1 L117.7,125.2 L118.5,127.7 L119.2,129.7 L119.9,131.3 L120.7,132.5 L121.4,133.4 L122.1,134.0 L122.9,134.5 L123.6,134.8 L124.3,135.1 L125.1,135.2 L125.8,135.3 L126.5,135.3 L127.3,135.4 L128.0,135.4 L128.7,135.4 L129.5,135.4 L130.2,135.4 L130.9,135.4 L131.7,135.4 L132.4,135.4 L133.2,135.4 L133.9,135.4 L134.6,135.4 L135.4,135.4 L136.1,135.4 L136.8,135.4 L137.6,135.4 L138.3,135.4 L139.0,135.4 L139.8,135.4 L140.5,135.4 L141.2,135.4 L142.0,135.4 L142.7,135.4" stroke="#ff0000" stroke-width="0.95" fill="none" stroke-linejoin="round"/>
<path d="M109.8,135.4V136.6" stroke="#555" stroke-width="0.8"/>
<path d="M114.5,135.4V136.6" stroke="#555" stroke-width="0.8"/>
<path d="M119.2,135.4V136.6" stroke="#555" stroke-width="0.8"/>
<path d="M135.7,135.4V136.6" stroke="#555" stroke-width="0.8"/>
<path d="M147.0,135.4V88.4H194.0" stroke="#c8c8c8" stroke-width="1" fill="none"/>
<path d="M145.8,135.4H147.5" stroke="#777" stroke-width="0.8"/>
<path d="M145.8,126.5H147.5" stroke="#777" stroke-width="0.8"/>
<path d="M145.8,117.7H147.5" stroke="#777" stroke-width="0.8"/>
<path d="M145.8,108.8H147.5" stroke="#777" stroke-width="0.8"/>
<path d="M145.8,99.9H147.5" stroke="#777" stroke-width="0.8"/>
<path d="M145.8,91.1H147.5" stroke="#777" stroke-width="0.8"/>
<path d="M147.0,135.4H194.0" stroke="#888" stroke-width="1"/>
<path d="M147.0,135.4 L147.7,135.4 L148.5,135.4 L149.2,135.4 L149.9,135.4 L150.7,135.4 L151.4,135.4 L152.1,135.4 L152.9,135.3 L153.6,135.2 L154.3,134.9 L155.1,134.4 L155.8,133.5 L156.5,132.2 L157.3,130.1 L158.0,127.1 L158.8,123.0 L159.5,117.3 L160.2,110.1 L161.0,102.1 L161.7,95.3 L162.4,92.2 L163.2,93.8 L163.9,98.9 L164.6,105.9 L165.4,113.0 L166.1,119.0 L166.8,123.8 L167.6,127.4 L168.3,130.0 L169.0,132.0 L169.8,133.3 L170.5,134.2 L171.2,134.7 L172.0,135.0 L172.7,135.2 L173.4,135.3 L174.2,135.4 L174.9,135.4 L175.6,135.4 L176.4,135.4 L177.1,135.4 L177.8,135.4 L178.6,135.4 L179.3,135.4 L180.0,135.4 L180.8,135.4 L181.5,135.4 L182.2,135.4 L183.0,135.4 L183.7,135.4 L184.5,135.4 L185.2,135.4 L185.9,135.4 L186.7,135.4 L187.4,135.4 L188.1,135.4 L188.9,135.4 L189.6,135.4 L190.3,135.4 L191.1,135.4 L191.8,135.4 L192.5,135.4 L193.3,135.4 L194.0,135.4" stroke="#111111" stroke-width="0.95" fill="none" stroke-linejoin="round"/>
<path d="M147.0,135.4 L147.7,135.4 L148.5,135.4 L149.2,135.4 L149.9,135.4 L150.7,135.4 L151.4,135.4 L152.1,135.4 L152.9,135.3 L153.6,135.2 L154.3,134.9 L155.1,134.4 L155.8,133.5 L156.5,132.2 L157.3,130.1 L158.0,127.1 L158.8,123.0 L159.5,117.3 L160.2,110.1 L161.0,102.1 L161.7,95.3 L162.4,92.2 L163.2,93.6 L163.9,98.2 L164.6,104.6 L165.4,111.3 L166.1,117.3 L166.8,122.2 L167.6,126.0 L168.3,128.8 L169.0,131.0 L169.8,132.5 L170.5,133.6 L171.2,134.3 L172.0,134.8 L172.7,135.1 L173.4,135.2 L174.2,135.3 L174.9,135.4 L175.6,135.4 L176.4,135.4 L177.1,135.4 L177.8,135.4 L178.6,135.4 L179.3,135.4 L180.0,135.4 L180.8,135.4 L181.5,135.4 L182.2,135.4 L183.0,135.4 L183.7,135.4 L184.5,135.4 L185.2,135.4 L185.9,135.4 L186.7,135.4 L187.4,135.4 L188.1,135.4 L188.9,135.4 L189.6,135.4 L190.3,135.4 L191.1,135.4 L191.8,135.4 L192.5,135.4 L193.3,135.4 L194.0,135.4" stroke="#ff0000" stroke-width="0.95" fill="none" stroke-linejoin="round"/>
<path d="M161.1,135.4V136.6" stroke="#555" stroke-width="0.8"/>
<path d="M165.8,135.4V136.6" stroke="#555" stroke-width="0.8"/>
<path d="M170.5,135.4V136.6" stroke="#555" stroke-width="0.8"/>
<path d="M186.9,135.4V136.6" stroke="#555" stroke-width="0.8"/>
<path d="M199.2,135.4V88.4H246.2" stroke="#c8c8c8" stroke-width="1" fill="none"/>
<path d="M198.0,135.4H199.7" stroke="#777" stroke-width="0.8"/>
<path d="M198.0,126.5H199.7" stroke="#777" stroke-width="0.8"/>
<path d="M198.0,117.7H199.7" stroke="#777" stroke-width="0.8"/>
<path d="M198.0,108.8H199.7" stroke="#777" stroke-width="0.8"/>
<path d="M198.0,99.9H199.7" stroke="#777" stroke-width="0.8"/>
<path d="M198.0,91.1H199.7" stroke="#777" stroke-width="0.8"/>
<path d="M199.2,135.4H246.2" stroke="#888" stroke-width="1"/>
<path d="M199.2,135.4 L199.9,135.4 L200.7,135.4 L201.4,135.4 L202.1,135.4 L202.9,135.4 L203.6,135.3 L204.3,135.3 L205.1,135.1 L205.8,134.8 L206.5,134.4 L207.3,133.6 L208.0,132.5 L208.7,130.8 L209.5,128.4 L210.2,125.2 L210.9,121.0 L211.7,115.4 L212.4,108.8 L213.2,102.0 L213.9,96.5 L214.6,94.1 L215.4,95.6 L216.1,100.5 L216.8,107.2 L217.6,113.9 L218.3,119.7 L219.0,124.3 L219.8,127.7 L220.5,130.3 L221.2,132.1 L222.0,133.4 L222.7,134.2 L223.4,134.7 L224.2,135.1 L224.9,135.2 L225.6,135.3 L226.4,135.4 L227.1,135.4 L227.8,135.4 L228.6,135.4 L229.3,135.4 L230.0,135.4 L230.8,135.4 L231.5,135.4 L232.2,135.4 L233.0,135.4 L233.7,135.4 L234.4,135.4 L235.2,135.4 L235.9,135.4 L236.7,135.4 L237.4,135.4 L238.1,135.4 L238.9,135.4 L239.6,135.4 L240.3,135.4 L241.1,135.4 L241.8,135.4 L242.5,135.4 L243.3,135.4 L244.0,135.4 L244.7,135.4 L245.5,135.4 L246.2,135.4" stroke="#111111" stroke-width="0.95" fill="none" stroke-linejoin="round"/>
<path d="M199.2,135.4 L199.9,135.4 L200.7,135.4 L201.4,135.4 L202.1,135.4 L202.9,135.4 L203.6,135.4 L204.3,135.3 L205.1,135.3 L205.8,135.1 L206.5,134.9 L207.3,134.5 L208.0,133.8 L208.7,132.7 L209.5,131.1 L210.2,128.9 L210.9,125.8 L211.7,121.7 L212.4,116.3 L213.2,109.6 L213.9,102.4 L214.6,96.1 L215.4,92.5 L216.1,92.7 L216.8,95.9 L217.6,101.2 L218.3,107.4 L219.0,113.4 L219.8,118.6 L220.5,122.9 L221.2,126.2 L222.0,128.8 L222.7,130.8 L223.4,132.3 L224.2,133.3 L224.9,134.1 L225.6,134.6 L226.4,134.9 L227.1,135.1 L227.8,135.3 L228.6,135.3 L229.3,135.4 L230.0,135.4 L230.8,135.4 L231.5,135.4 L232.2,135.4 L233.0,135.4 L233.7,135.4 L234.4,135.4 L235.2,135.4 L235.9,135.4 L236.7,135.4 L237.4,135.4 L238.1,135.4 L238.9,135.4 L239.6,135.4 L240.3,135.4 L241.1,135.4 L241.8,135.4 L242.5,135.4 L243.3,135.4 L244.0,135.4 L244.7,135.4 L245.5,135.4 L246.2,135.4" stroke="#ff0000" stroke-width="0.95" fill="none" stroke-linejoin="round"/>
<path d="M213.3,135.4V136.6" stroke="#555" stroke-width="0.8"/>
<path d="M218.0,135.4V136.6" stroke="#555" stroke-width="0.8"/>
<path d="M222.7,135.4V136.6" stroke="#555" stroke-width="0.8"/>
<path d="M239.1,135.4V136.6" stroke="#555" stroke-width="0.8"/>
<path d="M250.4,135.4V88.4H297.4" stroke="#c8c8c8" stroke-width="1" fill="none"/>
<path d="M249.2,135.4H250.9" stroke="#777" stroke-width="0.8"/>
<path d="M249.2,126.5H250.9" stroke="#777" stroke-width="0.8"/>
<path d="M249.2,117.7H250.9" stroke="#777" stroke-width="0.8"/>
<path d="M249.2,108.8H250.9" stroke="#777" stroke-width="0.8"/>
<path d="M249.2,99.9H250.9" stroke="#777" stroke-width="0.8"/>
<path d="M249.2,91.1H250.9" stroke="#777" stroke-width="0.8"/>
<path d="M250.4,135.4H297.4" stroke="#888" stroke-width="1"/>
<path d="M250.4,135.4 L251.1,135.4 L251.9,135.4 L252.6,135.4 L253.3,135.3 L254.1,135.2 L254.8,135.1 L255.5,134.8 L256.3,134.4 L257.0,133.7 L257.7,132.8 L258.5,131.4 L259.2,129.5 L259.9,127.0 L260.7,123.6 L261.4,119.4 L262.1,114.1 L262.9,107.9 L263.6,101.7 L264.4,96.7 L265.1,94.2 L265.8,94.6 L266.6,97.2 L267.3,101.4 L268.0,106.5 L268.8,111.7 L269.5,116.4 L270.2,120.5 L271.0,123.9 L271.7,126.7 L272.4,128.9 L273.2,130.6 L273.9,132.0 L274.6,133.0 L275.4,133.8 L276.1,134.3 L276.8,134.7 L277.6,135.0 L278.3,135.1 L279.0,135.2 L279.8,135.3 L280.5,135.3 L281.2,135.4 L282.0,135.4 L282.7,135.4 L283.4,135.4 L284.2,135.4 L284.9,135.4 L285.6,135.4 L286.4,135.4 L287.1,135.4 L287.9,135.4 L288.6,135.4 L289.3,135.4 L290.1,135.4 L290.8,135.4 L291.5,135.4 L292.3,135.4 L293.0,135.4 L293.7,135.4 L294.5,135.4 L295.2,135.4 L295.9,135.4 L296.7,135.4 L297.4,135.4" stroke="#111111" stroke-width="0.95" fill="none" stroke-linejoin="round"/>
<path d="M250.4,135.4 L251.1,135.4 L251.9,135.4 L252.6,135.4 L253.3,135.3 L254.1,135.2 L254.8,135.1 L255.5,134.8 L256.3,134.4 L257.0,133.7 L257.7,132.7 L258.5,131.3 L259.2,129.4 L259.9,126.8 L260.7,122.6 L261.4,119.0 L262.1,113.7 L262.9,106.9 L263.6,101.4 L264.4,96.2 L265.1,92.4 L265.8,93.7 L266.6,96.3 L267.3,101.5 L268.0,106.0 L268.8,111.0 L269.5,116.8 L270.2,120.0 L271.0,123.4 L271.7,126.5 L272.4,128.7 L273.2,130.5 L273.9,131.9 L274.6,132.9 L275.4,133.7 L276.1,134.3 L276.8,134.7 L277.6,135.0 L278.3,135.1 L279.0,135.2 L279.8,135.3 L280.5,135.3 L281.2,135.4 L282.0,135.4 L282.7,135.4 L283.4,135.4 L284.2,135.4 L284.9,135.4 L285.6,135.4 L286.4,135.4 L287.1,135.4 L287.9,135.4 L288.6,135.4 L289.3,135.4 L290.1,135.4 L290.8,135.4 L291.5,135.4 L292.3,135.4 L293.0,135.4 L293.7,135.4 L294.5,135.4 L295.2,135.4 L295.9,135.4 L296.7,135.4 L297.4,135.4" stroke="#ff0000" stroke-width="0.95" fill="none" stroke-linejoin="round"/>
<path d="M264.5,135.4V136.6" stroke="#555" stroke-width="0.8"/>
<path d="M269.2,135.4V136.6" stroke="#555" stroke-width="0.8"/>
<path d="M273.9,135.4V136.6" stroke="#555" stroke-width="0.8"/>
<path d="M290.4,135.4V136.6" stroke="#555" stroke-width="0.8"/>
<path d="M301.8,135.4V88.4H348.8" stroke="#c8c8c8" stroke-width="1" fill="none"/>
<path d="M300.6,135.4H302.3" stroke="#777" stroke-width="0.8"/>
<path d="M300.6,126.5H302.3" stroke="#777" stroke-width="0.8"/>
<path d="M300.6,117.7H302.3" stroke="#777" stroke-width="0.8"/>
<path d="M300.6,108.8H302.3" stroke="#777" stroke-width="0.8"/>
<path d="M300.6,99.9H302.3" stroke="#777" stroke-width="0.8"/>
<path d="M300.6,91.1H302.3" stroke="#777" stroke-width="0.8"/>
<path d="M301.8,135.4H348.8" stroke="#888" stroke-width="1"/>
<path d="M301.8,135.4 L302.5,135.4 L303.3,135.4 L304.0,135.4 L304.7,135.4 L305.5,135.4 L306.2,135.4 L306.9,135.4 L307.7,135.4 L308.4,135.4 L309.1,135.4 L309.9,135.4 L310.6,135.4 L311.3,135.4 L312.1,135.3 L312.8,135.2 L313.6,134.9 L314.3,134.2 L315.0,132.8 L315.8,130.2 L316.5,126.0 L317.2,119.4 L318.0,109.9 L318.7,99.2 L319.4,92.2 L320.2,93.9 L320.9,102.9 L321.6,113.7 L322.4,122.1 L323.1,127.7 L323.8,131.3 L324.6,133.4 L325.3,134.5 L326.0,135.1 L326.8,135.3 L327.5,135.4 L328.2,135.4 L329.0,135.4 L329.7,135.4 L330.4,135.4 L331.2,135.4 L331.9,135.4 L332.6,135.4 L333.4,135.4 L334.1,135.4 L334.8,135.4 L335.6,135.4 L336.3,135.4 L337.1,135.4 L337.8,135.4 L338.5,135.4 L339.3,135.4 L340.0,135.4 L340.7,135.4 L341.5,135.4 L342.2,135.4 L342.9,135.4 L343.7,135.4 L344.4,135.4 L345.1,135.4 L345.9,135.4 L346.6,135.4 L347.3,135.4 L348.1,135.4 L348.8,135.4" stroke="#ff0000" stroke-width="0.95" fill="none" stroke-linejoin="round"/>
<path d="M315.9,135.4V136.6" stroke="#555" stroke-width="0.8"/>
<path d="M320.6,135.4V136.6" stroke="#555" stroke-width="0.8"/>
<path d="M325.3,135.4V136.6" stroke="#555" stroke-width="0.8"/>
<path d="M341.8,135.4V136.6" stroke="#555" stroke-width="0.8"/>
<path d="M353.1,135.4V88.4H400.1" stroke="#c8c8c8" stroke-width="1" fill="none"/>
<path d="M351.9,135.4H353.6" stroke="#777" stroke-width="0.8"/>
<path d="M351.9,126.5H353.6" stroke="#777" stroke-width="0.8"/>
<path d="M351.9,117.7H353.6" stroke="#777" stroke-width="0.8"/>
<path d="M351.9,108.8H353.6" stroke="#777" stroke-width="0.8"/>
<path d="M351.9,99.9H353.6" stroke="#777" stroke-width="0.8"/>
<path d="M351.9,91.1H353.6" stroke="#777" stroke-width="0.8"/>
<path d="M353.1,135.4H400.1" stroke="#888" stroke-width="1"/>
<path d="M353.1,135.4 L353.8,135.4 L354.6,135.4 L355.3,135.4 L356.0,135.4 L356.8,135.4 L357.5,135.4 L358.2,135.4 L359.0,135.4 L359.7,135.4 L360.4,135.4 L361.2,135.4 L361.9,135.4 L362.6,135.4 L363.4,135.4 L364.1,135.4 L364.9,135.4 L365.6,135.4 L366.3,135.4 L367.1,135.3 L367.8,135.0 L368.5,133.9 L369.3,130.8 L370.0,123.8 L370.7,110.7 L371.5,94.3 L372.2,92.1 L372.9,107.3 L373.7,121.8 L374.4,129.7 L375.1,133.5 L375.9,134.9 L376.6,135.3 L377.3,135.4 L378.1,135.4 L378.8,135.4 L379.5,135.4 L380.3,135.4 L381.0,135.4 L381.7,135.4 L382.5,135.4 L383.2,135.4 L383.9,135.4 L384.7,135.4 L385.4,135.4 L386.1,135.4 L386.9,135.4 L387.6,135.4 L388.4,135.4 L389.1,135.4 L389.8,135.4 L390.6,135.4 L391.3,135.4 L392.0,135.4 L392.8,135.4 L393.5,135.4 L394.2,135.4 L395.0,135.4 L395.7,135.4 L396.4,135.4 L397.2,135.4 L397.9,135.4 L398.6,135.4 L399.4,135.4 L400.1,135.4" stroke="#ff0000" stroke-width="0.95" fill="none" stroke-linejoin="round"/>
<path d="M367.2,135.4V136.6" stroke="#555" stroke-width="0.8"/>
<path d="M371.9,135.4V136.6" stroke="#555" stroke-width="0.8"/>
<path d="M376.6,135.4V136.6" stroke="#555" stroke-width="0.8"/>
<path d="M393.1,135.4V136.6" stroke="#555" stroke-width="0.8"/>
<path d="M405.2,135.4V88.4H452.2" stroke="#c8c8c8" stroke-width="1" fill="none"/>
<path d="M404.0,135.4H405.7" stroke="#777" stroke-width="0.8"/>
<path d="M404.0,126.5H405.7" stroke="#777" stroke-width="0.8"/>
<path d="M404.0,117.7H405.7" stroke="#777" stroke-width="0.8"/>
<path d="M404.0,108.8H405.7" stroke="#777" stroke-width="0.8"/>
<path d="M404.0,99.9H405.7" stroke="#777" stroke-width="0.8"/>
<path d="M404.0,91.1H405.7" stroke="#777" stroke-width="0.8"/>
<path d="M405.2,135.4H452.2" stroke="#888" stroke-width="1"/>
<path d="M405.2,135.4 L405.9,135.4 L406.7,135.4 L407.4,135.4 L408.1,135.4 L408.9,135.4 L409.6,135.4 L410.3,135.4 L411.1,135.4 L411.8,135.4 L412.5,135.4 L413.3,135.4 L414.0,135.4 L414.7,135.4 L415.5,135.4 L416.2,135.4 L416.9,135.3 L417.7,135.0 L418.4,134.4 L419.2,133.0 L419.9,130.2 L420.6,125.4 L421.4,117.5 L422.1,106.4 L422.8,95.5 L423.6,92.4 L424.3,98.7 L425.0,109.3 L425.8,118.9 L426.5,125.6 L427.2,130.0 L428.0,132.6 L428.7,134.1 L429.4,134.9 L430.2,135.2 L430.9,135.3 L431.6,135.4 L432.4,135.4 L433.1,135.4 L433.8,135.4 L434.6,135.4 L435.3,135.4 L436.0,135.4 L436.8,135.4 L437.5,135.4 L438.2,135.4 L439.0,135.4 L439.7,135.4 L440.4,135.4 L441.2,135.4 L441.9,135.4 L442.7,135.4 L443.4,135.4 L444.1,135.4 L444.9,135.4 L445.6,135.4 L446.3,135.4 L447.1,135.4 L447.8,135.4 L448.5,135.4 L449.3,135.4 L450.0,135.4 L450.7,135.4 L451.5,135.4 L452.2,135.4" stroke="#111111" stroke-width="0.95" fill="none" stroke-linejoin="round"/>
<path d="M405.2,135.4 L405.9,135.4 L406.7,135.4 L407.4,135.4 L408.1,135.4 L408.9,135.4 L409.6,135.4 L410.3,135.4 L411.1,135.4 L411.8,135.4 L412.5,135.4 L413.3,135.4 L414.0,135.4 L414.7,135.4 L415.5,135.4 L416.2,135.4 L416.9,135.3 L417.7,135.0 L418.4,134.4 L419.2,133.0 L419.9,130.2 L420.6,125.4 L421.4,117.5 L422.1,106.4 L422.8,95.5 L423.6,92.4 L424.3,97.7 L425.0,107.1 L425.8,116.3 L426.5,123.3 L427.2,128.2 L428.0,131.3 L428.7,133.3 L429.4,134.4 L430.2,135.0 L430.9,135.2 L431.6,135.3 L432.4,135.4 L433.1,135.4 L433.8,135.4 L434.6,135.4 L435.3,135.4 L436.0,135.4 L436.8,135.4 L437.5,135.4 L438.2,135.4 L439.0,135.4 L439.7,135.4 L440.4,135.4 L441.2,135.4 L441.9,135.4 L442.7,135.4 L443.4,135.4 L444.1,135.4 L444.9,135.4 L445.6,135.4 L446.3,135.4 L447.1,135.4 L447.8,135.4 L448.5,135.4 L449.3,135.4 L450.0,135.4 L450.7,135.4 L451.5,135.4 L452.2,135.4" stroke="#ff0000" stroke-width="0.95" fill="none" stroke-linejoin="round"/>
<path d="M419.3,135.4V136.6" stroke="#555" stroke-width="0.8"/>
<path d="M424.0,135.4V136.6" stroke="#555" stroke-width="0.8"/>
<path d="M428.7,135.4V136.6" stroke="#555" stroke-width="0.8"/>
<path d="M445.1,135.4V136.6" stroke="#555" stroke-width="0.8"/>
<path d="M43.2,186.1V139.1H90.2" stroke="#c8c8c8" stroke-width="1" fill="none"/>
<path d="M42.0,186.1H43.7" stroke="#777" stroke-width="0.8"/>
<path d="M42.0,177.2H43.7" stroke="#777" stroke-width="0.8"/>
<path d="M42.0,168.4H43.7" stroke="#777" stroke-width="0.8"/>
<path d="M42.0,159.5H43.7" stroke="#777" stroke-width="0.8"/>
<path d="M42.0,150.6H43.7" stroke="#777" stroke-width="0.8"/>
<path d="M42.0,141.8H43.7" stroke="#777" stroke-width="0.8"/>
<path d="M43.2,186.1H90.2" stroke="#888" stroke-width="1"/>
<path d="M43.2,183.5 L43.9,182.8 L44.7,182.0 L45.4,181.0 L46.1,179.8 L46.9,178.4 L47.6,176.8 L48.3,176.0 L49.1,172.4 L49.8,170.3 L50.5,166.9 L51.3,164.7 L52.0,160.3 L52.7,156.6 L53.5,154.9 L54.2,151.3 L55.0,146.7 L55.7,143.6 L56.4,144.0 L57.2,143.0 L57.9,143.7 L58.6,147.1 L59.4,151.0 L60.1,155.8 L60.8,160.5 L61.6,164.5 L62.3,169.3 L63.0,172.6 L63.8,174.4 L64.5,177.5 L65.2,179.5 L66.0,181.1 L66.7,182.4 L67.4,183.4 L68.2,184.1 L68.9,184.7 L69.6,185.2 L70.4,185.5 L71.1,185.7 L71.8,185.8 L72.6,185.9 L73.3,186.0 L74.0,186.0 L74.8,186.1 L75.5,186.1 L76.2,186.1 L77.0,186.1 L77.7,186.1 L78.5,186.1 L79.2,186.1 L79.9,186.1 L80.7,186.1 L81.4,186.1 L82.1,186.1 L82.9,186.1 L83.6,186.1 L84.3,186.1 L85.1,186.1 L85.8,186.1 L86.5,186.1 L87.3,186.1 L88.0,186.1 L88.7,186.1 L89.5,186.1 L90.2,186.1" stroke="#111111" stroke-width="0.95" fill="none" stroke-linejoin="round"/>
<path d="M43.2,186.0 L43.9,185.9 L44.7,185.8 L45.4,185.7 L46.1,185.4 L46.9,185.1 L47.6,184.7 L48.3,184.1 L49.1,183.3 L49.8,182.3 L50.5,181.0 L51.3,179.4 L52.0,177.5 L52.7,175.9 L53.5,172.1 L54.2,168.4 L55.0,165.2 L55.7,160.9 L56.4,155.5 L57.2,152.2 L57.9,148.8 L58.6,146.3 L59.4,145.4 L60.1,146.8 L60.8,147.3 L61.6,148.8 L62.3,149.8 L63.0,152.6 L63.8,154.3 L64.5,157.9 L65.2,160.2 L66.0,162.2 L66.7,164.3 L67.4,167.2 L68.2,169.7 L68.9,171.8 L69.6,173.0 L70.4,175.1 L71.1,176.1 L71.8,177.3 L72.6,178.5 L73.3,179.5 L74.0,180.5 L74.8,181.3 L75.5,182.0 L76.2,182.6 L77.0,183.2 L77.7,183.7 L78.5,184.1 L79.2,184.4 L79.9,184.7 L80.7,185.0 L81.4,185.2 L82.1,185.4 L82.9,185.5 L83.6,185.7 L84.3,185.7 L85.1,185.8 L85.8,185.9 L86.5,185.9 L87.3,186.0 L88.0,186.0 L88.7,186.0 L89.5,186.0 L90.2,186.1" stroke="#ff0000" stroke-width="0.95" fill="none" stroke-linejoin="round"/>
<path d="M57.3,186.1V187.3" stroke="#555" stroke-width="0.8"/>
<path d="M62.0,186.1V187.3" stroke="#555" stroke-width="0.8"/>
<path d="M66.7,186.1V187.3" stroke="#555" stroke-width="0.8"/>
<path d="M83.2,186.1V187.3" stroke="#555" stroke-width="0.8"/>
<path d="M95.7,186.1V139.1H142.7" stroke="#c8c8c8" stroke-width="1" fill="none"/>
<path d="M94.5,186.1H96.2" stroke="#777" stroke-width="0.8"/>
<path d="M94.5,177.2H96.2" stroke="#777" stroke-width="0.8"/>
<path d="M94.5,168.4H96.2" stroke="#777" stroke-width="0.8"/>
<path d="M94.5,159.5H96.2" stroke="#777" stroke-width="0.8"/>
<path d="M94.5,150.6H96.2" stroke="#777" stroke-width="0.8"/>
<path d="M94.5,141.8H96.2" stroke="#777" stroke-width="0.8"/>
<path d="M95.7,186.1H142.7" stroke="#888" stroke-width="1"/>
<path d="M95.7,186.1 L96.4,186.1 L97.2,186.1 L97.9,186.1 L98.6,186.1 L99.4,186.1 L100.1,186.1 L100.8,186.1 L101.6,186.0 L102.3,185.9 L103.0,185.7 L103.8,185.2 L104.5,184.3 L105.2,182.8 L106.0,180.6 L106.7,177.2 L107.5,172.4 L108.2,165.8 L108.9,157.6 L109.7,149.3 L110.4,144.0 L111.1,144.0 L111.9,148.8 L112.6,156.3 L113.3,164.1 L114.1,170.7 L114.8,175.6 L115.5,179.2 L116.3,181.8 L117.0,183.5 L117.7,184.6 L118.5,185.3 L119.2,185.7 L119.9,185.9 L120.7,186.0 L121.4,186.1 L122.1,186.1 L122.9,186.1 L123.6,186.1 L124.3,186.1 L125.1,186.1 L125.8,186.1 L126.5,186.1 L127.3,186.1 L128.0,186.1 L128.7,186.1 L129.5,186.1 L130.2,186.1 L130.9,186.1 L131.7,186.1 L132.4,186.1 L133.2,186.1 L133.9,186.1 L134.6,186.1 L135.4,186.1 L136.1,186.1 L136.8,186.1 L137.6,186.1 L138.3,186.1 L139.0,186.1 L139.8,186.1 L140.5,186.1 L141.2,186.1 L142.0,186.1 L142.7,186.1" stroke="#111111" stroke-width="0.95" fill="none" stroke-linejoin="round"/>
<path d="M95.7,186.1 L96.4,186.1 L97.2,186.1 L97.9,186.1 L98.6,186.1 L99.4,186.1 L100.1,186.1 L100.8,186.0 L101.6,186.0 L102.3,185.9 L103.0,185.8 L103.8,185.6 L104.5,185.4 L105.2,185.0 L106.0,184.4 L106.7,183.6 L107.5,182.6 L108.2,181.2 L108.9,179.5 L109.7,177.3 L110.4,174.1 L111.1,170.7 L111.9,167.7 L112.6,162.9 L113.3,157.1 L114.1,152.6 L114.8,148.6 L115.5,147.2 L116.3,147.3 L117.0,147.8 L117.7,148.6 L118.5,151.6 L119.2,154.1 L119.9,157.0 L120.7,160.0 L121.4,163.1 L122.1,165.2 L122.9,169.0 L123.6,171.7 L124.3,172.4 L125.1,174.5 L125.8,176.7 L126.5,178.2 L127.3,179.5 L128.0,180.6 L128.7,181.6 L129.5,182.4 L130.2,183.1 L130.9,183.7 L131.7,184.2 L132.4,184.6 L133.2,184.9 L133.9,185.2 L134.6,185.4 L135.4,185.6 L136.1,185.7 L136.8,185.8 L137.6,185.9 L138.3,186.0 L139.0,186.0 L139.8,186.0 L140.5,186.0 L141.2,186.1 L142.0,186.1 L142.7,186.1" stroke="#ff0000" stroke-width="0.95" fill="none" stroke-linejoin="round"/>
<path d="M109.8,186.1V187.3" stroke="#555" stroke-width="0.8"/>
<path d="M114.5,186.1V187.3" stroke="#555" stroke-width="0.8"/>
<path d="M119.2,186.1V187.3" stroke="#555" stroke-width="0.8"/>
<path d="M135.7,186.1V187.3" stroke="#555" stroke-width="0.8"/>
<path d="M147.0,186.1V139.1H194.0" stroke="#c8c8c8" stroke-width="1" fill="none"/>
<path d="M145.8,186.1H147.5" stroke="#777" stroke-width="0.8"/>
<path d="M145.8,177.2H147.5" stroke="#777" stroke-width="0.8"/>
<path d="M145.8,168.4H147.5" stroke="#777" stroke-width="0.8"/>
<path d="M145.8,159.5H147.5" stroke="#777" stroke-width="0.8"/>
<path d="M145.8,150.6H147.5" stroke="#777" stroke-width="0.8"/>
<path d="M145.8,141.8H147.5" stroke="#777" stroke-width="0.8"/>
<path d="M147.0,186.1H194.0" stroke="#888" stroke-width="1"/>
<path d="M147.0,186.1 L147.7,186.1 L148.5,186.1 L149.2,186.1 L149.9,186.1 L150.7,186.1 L151.4,186.1 L152.1,186.1 L152.9,186.0 L153.6,185.9 L154.3,185.6 L155.1,185.0 L155.8,184.1 L156.5,182.4 L157.3,180.0 L158.0,176.3 L158.8,171.1 L159.5,164.1 L160.2,155.6 L161.0,147.6 L161.7,143.1 L162.4,143.7 L163.2,147.6 L163.9,153.6 L164.6,160.2 L165.4,166.3 L166.1,171.4 L166.8,175.4 L167.6,178.5 L168.3,180.8 L169.0,182.6 L169.8,183.8 L170.5,184.7 L171.2,185.3 L172.0,185.6 L172.7,185.8 L173.4,186.0 L174.2,186.0 L174.9,186.1 L175.6,186.1 L176.4,186.1 L177.1,186.1 L177.8,186.1 L178.6,186.1 L179.3,186.1 L180.0,186.1 L180.8,186.1 L181.5,186.1 L182.2,186.1 L183.0,186.1 L183.7,186.1 L184.5,186.1 L185.2,186.1 L185.9,186.1 L186.7,186.1 L187.4,186.1 L188.1,186.1 L188.9,186.1 L189.6,186.1 L190.3,186.1 L191.1,186.1 L191.8,186.1 L192.5,186.1 L193.3,186.1 L194.0,186.1" stroke="#111111" stroke-width="0.95" fill="none" stroke-linejoin="round"/>
<path d="M147.0,186.1 L147.7,186.1 L148.5,186.1 L149.2,186.1 L149.9,186.1 L150.7,186.1 L151.4,186.1 L152.1,186.1 L152.9,186.1 L153.6,186.1 L154.3,186.0 L155.1,185.9 L155.8,185.6 L156.5,185.1 L157.3,184.4 L158.0,183.1 L158.8,181.3 L159.5,178.6 L160.2,173.7 L161.0,170.2 L161.7,162.4 L162.4,155.0 L163.2,149.7 L163.9,143.9 L164.6,142.9 L165.4,143.4 L166.1,143.8 L166.8,144.3 L167.6,144.2 L168.3,144.6 L169.0,145.5 L169.8,145.0 L170.5,146.9 L171.2,147.1 L172.0,150.7 L172.7,150.5 L173.4,153.2 L174.2,154.9 L174.9,157.4 L175.6,159.9 L176.4,163.3 L177.1,167.3 L177.8,168.0 L178.6,172.0 L179.3,174.1 L180.0,175.9 L180.8,178.1 L181.5,180.1 L182.2,181.8 L183.0,183.3 L183.7,184.6 L184.5,185.4 L185.2,186.0 L185.9,186.1 L186.7,186.1 L187.4,186.1 L188.1,186.1 L188.9,186.1 L189.6,186.1 L190.3,186.1 L191.1,186.1 L191.8,186.1 L192.5,186.1 L193.3,186.1 L194.0,186.1" stroke="#ff0000" stroke-width="0.95" fill="none" stroke-linejoin="round"/>
<path d="M161.1,186.1V187.3" stroke="#555" stroke-width="0.8"/>
<path d="M165.8,186.1V187.3" stroke="#555" stroke-width="0.8"/>
<path d="M170.5,186.1V187.3" stroke="#555" stroke-width="0.8"/>
<path d="M186.9,186.1V187.3" stroke="#555" stroke-width="0.8"/>
<path d="M199.2,186.1V139.1H246.2" stroke="#c8c8c8" stroke-width="1" fill="none"/>
<path d="M198.0,186.1H199.7" stroke="#777" stroke-width="0.8"/>
<path d="M198.0,177.2H199.7" stroke="#777" stroke-width="0.8"/>
<path d="M198.0,168.4H199.7" stroke="#777" stroke-width="0.8"/>
<path d="M198.0,159.5H199.7" stroke="#777" stroke-width="0.8"/>
<path d="M198.0,150.6H199.7" stroke="#777" stroke-width="0.8"/>
<path d="M198.0,141.8H199.7" stroke="#777" stroke-width="0.8"/>
<path d="M199.2,186.1H246.2" stroke="#888" stroke-width="1"/>
<path d="M199.2,186.1 L199.9,186.1 L200.7,186.1 L201.4,186.1 L202.1,186.1 L202.9,186.1 L203.6,186.1 L204.3,186.0 L205.1,186.0 L205.8,185.8 L206.5,185.5 L207.3,184.9 L208.0,183.9 L208.7,182.3 L209.5,180.0 L210.2,176.7 L210.9,172.1 L211.7,165.9 L212.4,158.3 L213.2,150.4 L213.9,144.5 L214.6,143.0 L215.4,146.4 L216.1,153.4 L216.8,161.4 L217.6,168.6 L218.3,174.1 L219.0,178.1 L219.8,181.0 L220.5,183.0 L221.2,184.3 L222.0,185.1 L222.7,185.6 L223.4,185.9 L224.2,186.0 L224.9,186.1 L225.6,186.1 L226.4,186.1 L227.1,186.1 L227.8,186.1 L228.6,186.1 L229.3,186.1 L230.0,186.1 L230.8,186.1 L231.5,186.1 L232.2,186.1 L233.0,186.1 L233.7,186.1 L234.4,186.1 L235.2,186.1 L235.9,186.1 L236.7,186.1 L237.4,186.1 L238.1,186.1 L238.9,186.1 L239.6,186.1 L240.3,186.1 L241.1,186.1 L241.8,186.1 L242.5,186.1 L243.3,186.1 L244.0,186.1 L244.7,186.1 L245.5,186.1 L246.2,186.1" stroke="#111111" stroke-width="0.95" fill="none" stroke-linejoin="round"/>
<path d="M199.2,186.1 L199.9,186.1 L200.7,186.1 L201.4,186.1 L202.1,186.1 L202.9,186.1 L203.6,186.1 L204.3,186.1 L205.1,186.1 L205.8,186.1 L206.5,186.0 L207.3,186.0 L208.0,185.8 L208.7,185.5 L209.5,185.0 L210.2,184.1 L210.9,182.7 L211.7,180.6 L212.4,177.5 L213.2,173.2 L213.9,167.5 L214.6,160.2 L215.4,152.2 L216.1,145.8 L216.8,143.3 L217.6,144.1 L218.3,146.2 L219.0,149.5 L219.8,153.5 L220.5,157.8 L221.2,162.0 L222.0,166.0 L222.7,169.5 L223.4,172.5 L224.2,175.1 L224.9,177.3 L225.6,179.1 L226.4,180.6 L227.1,181.9 L227.8,182.9 L228.6,183.7 L229.3,184.3 L230.0,184.8 L230.8,185.2 L231.5,185.5 L232.2,185.7 L233.0,185.8 L233.7,185.9 L234.4,186.0 L235.2,186.0 L235.9,186.1 L236.7,186.1 L237.4,186.1 L238.1,186.1 L238.9,186.1 L239.6,186.1 L240.3,186.1 L241.1,186.1 L241.8,186.1 L242.5,186.1 L243.3,186.1 L244.0,186.1 L244.7,186.1 L245.5,186.1 L246.2,186.1" stroke="#ff0000" stroke-width="0.95" fill="none" stroke-linejoin="round"/>
<path d="M213.3,186.1V187.3" stroke="#555" stroke-width="0.8"/>
<path d="M218.0,186.1V187.3" stroke="#555" stroke-width="0.8"/>
<path d="M222.7,186.1V187.3" stroke="#555" stroke-width="0.8"/>
<path d="M239.1,186.1V187.3" stroke="#555" stroke-width="0.8"/>
<path d="M250.4,186.1V139.1H297.4" stroke="#c8c8c8" stroke-width="1" fill="none"/>
<path d="M249.2,186.1H250.9" stroke="#777" stroke-width="0.8"/>
<path d="M249.2,177.2H250.9" stroke="#777" stroke-width="0.8"/>
<path d="M249.2,168.4H250.9" stroke="#777" stroke-width="0.8"/>
<path d="M249.2,159.5H250.9" stroke="#777" stroke-width="0.8"/>
<path d="M249.2,150.6H250.9" stroke="#777" stroke-width="0.8"/>
<path d="M249.2,141.8H250.9" stroke="#777" stroke-width="0.8"/>
<path d="M250.4,186.1H297.4" stroke="#888" stroke-width="1"/>
<path d="M250.4,186.1 L251.1,186.1 L251.9,186.1 L252.6,186.1 L253.3,186.1 L254.1,186.0 L254.8,185.9 L255.5,185.7 L256.3,185.4 L257.0,184.9 L257.7,184.2 L258.5,183.0 L259.2,181.4 L259.9,179.2 L260.7,176.2 L261.4,172.3 L262.1,167.3 L262.9,161.2 L263.6,154.6 L264.4,148.5 L265.1,144.6 L265.8,143.9 L266.6,146.0 L267.3,150.1 L268.0,155.4 L268.8,161.0 L269.5,166.2 L270.2,170.7 L271.0,174.4 L271.7,177.3 L272.4,179.6 L273.2,181.4 L273.9,182.8 L274.6,183.9 L275.4,184.6 L276.1,185.2 L276.8,185.5 L277.6,185.7 L278.3,185.9 L279.0,186.0 L279.8,186.0 L280.5,186.1 L281.2,186.1 L282.0,186.1 L282.7,186.1 L283.4,186.1 L284.2,186.1 L284.9,186.1 L285.6,186.1 L286.4,186.1 L287.1,186.1 L287.9,186.1 L288.6,186.1 L289.3,186.1 L290.1,186.1 L290.8,186.1 L291.5,186.1 L292.3,186.1 L293.0,186.1 L293.7,186.1 L294.5,186.1 L295.2,186.1 L295.9,186.1 L296.7,186.1 L297.4,186.1" stroke="#111111" stroke-width="0.95" fill="none" stroke-linejoin="round"/>
<path d="M250.4,186.1 L251.1,186.1 L251.9,186.1 L252.6,186.1 L253.3,186.1 L254.1,186.0 L254.8,186.0 L255.5,185.9 L256.3,185.8 L257.0,185.6 L257.7,185.3 L258.5,184.9 L259.2,184.3 L259.9,183.5 L260.7,182.4 L261.4,181.0 L262.1,179.2 L262.9,176.9 L263.6,173.6 L264.4,170.5 L265.1,166.5 L265.8,160.5 L266.6,156.2 L267.3,152.1 L268.0,148.5 L268.8,145.0 L269.5,145.7 L270.2,145.0 L271.0,146.0 L271.7,146.4 L272.4,145.6 L273.2,144.9 L273.9,147.2 L274.6,147.5 L275.4,149.9 L276.1,153.5 L276.8,157.1 L277.6,162.8 L278.3,164.8 L279.0,167.5 L279.8,172.4 L280.5,174.3 L281.2,176.5 L282.0,177.8 L282.7,179.4 L283.4,180.7 L284.2,181.8 L284.9,182.7 L285.6,183.5 L286.4,184.1 L287.1,184.6 L287.9,185.0 L288.6,185.3 L289.3,185.5 L290.1,185.7 L290.8,185.8 L291.5,185.9 L292.3,186.0 L293.0,186.0 L293.7,186.0 L294.5,186.1 L295.2,186.1 L295.9,186.1 L296.7,186.1 L297.4,186.1" stroke="#ff0000" stroke-width="0.95" fill="none" stroke-linejoin="round"/>
<path d="M264.5,186.1V187.3" stroke="#555" stroke-width="0.8"/>
<path d="M269.2,186.1V187.3" stroke="#555" stroke-width="0.8"/>
<path d="M273.9,186.1V187.3" stroke="#555" stroke-width="0.8"/>
<path d="M290.4,186.1V187.3" stroke="#555" stroke-width="0.8"/>
<path d="M301.8,186.1V139.1H348.8" stroke="#c8c8c8" stroke-width="1" fill="none"/>
<path d="M300.6,186.1H302.3" stroke="#777" stroke-width="0.8"/>
<path d="M300.6,177.2H302.3" stroke="#777" stroke-width="0.8"/>
<path d="M300.6,168.4H302.3" stroke="#777" stroke-width="0.8"/>
<path d="M300.6,159.5H302.3" stroke="#777" stroke-width="0.8"/>
<path d="M300.6,150.6H302.3" stroke="#777" stroke-width="0.8"/>
<path d="M300.6,141.8H302.3" stroke="#777" stroke-width="0.8"/>
<path d="M301.8,186.1H348.8" stroke="#888" stroke-width="1"/>
<path d="M301.8,186.1 L302.5,186.1 L303.3,186.1 L304.0,186.1 L304.7,186.1 L305.5,186.1 L306.2,186.1 L306.9,186.1 L307.7,186.1 L308.4,186.1 L309.1,186.1 L309.9,186.1 L310.6,186.1 L311.3,186.1 L312.1,186.0 L312.8,185.9 L313.6,185.6 L314.3,184.9 L315.0,183.4 L315.8,180.7 L316.5,176.4 L317.2,169.6 L318.0,159.8 L318.7,148.7 L319.4,141.5 L320.2,143.2 L320.9,152.6 L321.6,163.6 L322.4,172.4 L323.1,178.2 L323.8,181.9 L324.6,184.0 L325.3,185.2 L326.0,185.8 L326.8,186.0 L327.5,186.1 L328.2,186.1 L329.0,186.1 L329.7,186.1 L330.4,186.1 L331.2,186.1 L331.9,186.1 L332.6,186.1 L333.4,186.1 L334.1,186.1 L334.8,186.1 L335.6,186.1 L336.3,186.1 L337.1,186.1 L337.8,186.1 L338.5,186.1 L339.3,186.1 L340.0,186.1 L340.7,186.1 L341.5,186.1 L342.2,186.1 L342.9,186.1 L343.7,186.1 L344.4,186.1 L345.1,186.1 L345.9,186.1 L346.6,186.1 L347.3,186.1 L348.1,186.1 L348.8,186.1" stroke="#ff0000" stroke-width="0.95" fill="none" stroke-linejoin="round"/>
<path d="M315.9,186.1V187.3" stroke="#555" stroke-width="0.8"/>
<path d="M320.6,186.1V187.3" stroke="#555" stroke-width="0.8"/>
<path d="M325.3,186.1V187.3" stroke="#555" stroke-width="0.8"/>
<path d="M341.8,186.1V187.3" stroke="#555" stroke-width="0.8"/>
<path d="M353.1,186.1V139.1H400.1" stroke="#c8c8c8" stroke-width="1" fill="none"/>
<path d="M351.9,186.1H353.6" stroke="#777" stroke-width="0.8"/>
<path d="M351.9,177.2H353.6" stroke="#777" stroke-width="0.8"/>
<path d="M351.9,168.4H353.6" stroke="#777" stroke-width="0.8"/>
<path d="M351.9,159.5H353.6" stroke="#777" stroke-width="0.8"/>
<path d="M351.9,150.6H353.6" stroke="#777" stroke-width="0.8"/>
<path d="M351.9,141.8H353.6" stroke="#777" stroke-width="0.8"/>
<path d="M353.1,186.1H400.1" stroke="#888" stroke-width="1"/>
<path d="M353.1,186.1 L353.8,186.1 L354.6,186.1 L355.3,186.1 L356.0,186.1 L356.8,186.1 L357.5,186.1 L358.2,186.1 L359.0,186.1 L359.7,186.1 L360.4,186.1 L361.2,186.1 L361.9,186.1 L362.6,186.1 L363.4,186.1 L364.1,186.1 L364.9,186.1 L365.6,186.1 L366.3,186.1 L367.1,186.0 L367.8,185.7 L368.5,184.6 L369.3,181.5 L370.0,174.5 L370.7,161.4 L371.5,145.0 L372.2,142.8 L372.9,158.0 L373.7,172.5 L374.4,180.4 L375.1,184.2 L375.9,185.6 L376.6,186.0 L377.3,186.1 L378.1,186.1 L378.8,186.1 L379.5,186.1 L380.3,186.1 L381.0,186.1 L381.7,186.1 L382.5,186.1 L383.2,186.1 L383.9,186.1 L384.7,186.1 L385.4,186.1 L386.1,186.1 L386.9,186.1 L387.6,186.1 L388.4,186.1 L389.1,186.1 L389.8,186.1 L390.6,186.1 L391.3,186.1 L392.0,186.1 L392.8,186.1 L393.5,186.1 L394.2,186.1 L395.0,186.1 L395.7,186.1 L396.4,186.1 L397.2,186.1 L397.9,186.1 L398.6,186.1 L399.4,186.1 L400.1,186.1" stroke="#ff0000" stroke-width="0.95" fill="none" stroke-linejoin="round"/>
<path d="M367.2,186.1V187.3" stroke="#555" stroke-width="0.8"/>
<path d="M371.9,186.1V187.3" stroke="#555" stroke-width="0.8"/>
<path d="M376.6,186.1V187.3" stroke="#555" stroke-width="0.8"/>
<path d="M393.1,186.1V187.3" stroke="#555" stroke-width="0.8"/>
<path d="M405.2,186.1V139.1H452.2" stroke="#c8c8c8" stroke-width="1" fill="none"/>
<path d="M404.0,186.1H405.7" stroke="#777" stroke-width="0.8"/>
<path d="M404.0,177.2H405.7" stroke="#777" stroke-width="0.8"/>
<path d="M404.0,168.4H405.7" stroke="#777" stroke-width="0.8"/>
<path d="M404.0,159.5H405.7" stroke="#777" stroke-width="0.8"/>
<path d="M404.0,150.6H405.7" stroke="#777" stroke-width="0.8"/>
<path d="M404.0,141.8H405.7" stroke="#777" stroke-width="0.8"/>
<path d="M405.2,186.1H452.2" stroke="#888" stroke-width="1"/>
<path d="M405.2,186.1 L405.9,186.1 L406.7,186.1 L407.4,186.1 L408.1,186.1 L408.9,186.1 L409.6,186.1 L410.3,186.1 L411.1,186.1 L411.8,186.1 L412.5,186.1 L413.3,186.1 L414.0,186.1 L414.7,186.1 L415.5,186.1 L416.2,186.0 L416.9,185.9 L417.7,185.6 L418.4,184.7 L419.2,183.1 L419.9,180.0 L420.6,175.0 L421.4,167.2 L422.1,156.6 L422.8,146.7 L423.6,144.0 L424.3,149.2 L425.0,158.4 L425.8,167.4 L426.5,174.3 L427.2,179.0 L428.0,182.1 L428.7,184.0 L429.4,185.1 L430.2,185.7 L430.9,185.9 L431.6,186.0 L432.4,186.1 L433.1,186.1 L433.8,186.1 L434.6,186.1 L435.3,186.1 L436.0,186.1 L436.8,186.1 L437.5,186.1 L438.2,186.1 L439.0,186.1 L439.7,186.1 L440.4,186.1 L441.2,186.1 L441.9,186.1 L442.7,186.1 L443.4,186.1 L444.1,186.1 L444.9,186.1 L445.6,186.1 L446.3,186.1 L447.1,186.1 L447.8,186.1 L448.5,186.1 L449.3,186.1 L450.0,186.1 L450.7,186.1 L451.5,186.1 L452.2,186.1" stroke="#111111" stroke-width="0.95" fill="none" stroke-linejoin="round"/>
<path d="M405.2,186.1 L405.9,186.1 L406.7,186.1 L407.4,186.1 L408.1,186.1 L408.9,186.1 L409.6,186.1 L410.3,186.1 L411.1,186.1 L411.8,186.1 L412.5,186.1 L413.3,186.1 L414.0,186.1 L414.7,186.1 L415.5,186.1 L416.2,186.1 L416.9,186.0 L417.7,185.8 L418.4,185.2 L419.2,183.8 L419.9,181.1 L420.6,176.5 L421.4,169.0 L422.1,158.3 L422.8,147.9 L423.6,144.9 L424.3,149.2 L425.0,157.2 L425.8,165.6 L426.5,172.5 L427.2,177.4 L428.0,180.8 L428.7,183.0 L429.4,184.5 L430.2,185.3 L430.9,185.7 L431.6,185.9 L432.4,186.0 L433.1,186.1 L433.8,186.1 L434.6,186.1 L435.3,186.1 L436.0,186.1 L436.8,186.1 L437.5,186.1 L438.2,186.1 L439.0,186.1 L439.7,186.1 L440.4,186.1 L441.2,186.1 L441.9,186.1 L442.7,186.1 L443.4,186.1 L444.1,186.1 L444.9,186.1 L445.6,186.1 L446.3,186.1 L447.1,186.1 L447.8,186.1 L448.5,186.1 L449.3,186.1 L450.0,186.1 L450.7,186.1 L451.5,186.1 L452.2,186.1" stroke="#ff0000" stroke-width="0.95" fill="none" stroke-linejoin="round"/>
<path d="M419.3,186.1V187.3" stroke="#555" stroke-width="0.8"/>
<path d="M424.0,186.1V187.3" stroke="#555" stroke-width="0.8"/>
<path d="M428.7,186.1V187.3" stroke="#555" stroke-width="0.8"/>
<path d="M445.1,186.1V187.3" stroke="#555" stroke-width="0.8"/>
<text transform="translate(449.3,11.0) scale(0.92,1)" font-size="16.12" text-anchor="start" fill="#000">B</text>
<rect x="466.0" y="1.2" width="32.0" height="16.5" fill="#ffff00"/>
<text transform="translate(466.9,14.6) scale(0.92,1)" font-size="16.12" text-anchor="start" fill="#000">Liver</text>
<text transform="translate(506.0,30.7) scale(0.92,1)" font-size="16.68" text-anchor="start" fill="#000">Kupffer</text>
<text transform="translate(567.6,12.8) scale(0.92,1)" font-size="16.68" text-anchor="start" fill="#000">Ly6C</text>
<text transform="translate(567.6,30.7) scale(0.92,1)" font-size="16.68" text-anchor="start" fill="#000">hi</text>
<text transform="translate(619.1,12.8) scale(0.92,1)" font-size="16.68" text-anchor="start" fill="#000">Ly6C</text>
<text transform="translate(619.1,30.7) scale(0.92,1)" font-size="16.68" text-anchor="start" fill="#000">low</text>
<text transform="translate(664.2,30.7) scale(0.92,1)" font-size="16.68" text-anchor="start" fill="#000">Neutro</text>
<text transform="translate(722.3,30.7) scale(0.92,1)" font-size="16.68" text-anchor="start" fill="#000">cDC</text>
<text transform="translate(474.6,66.5) scale(0.92,1)" font-size="16.68" text-anchor="start" fill="#000">WT</text>
<text transform="translate(464.0,115.8) scale(0.92,1)" font-size="16.68" text-anchor="start" fill="#000" font-style="italic">T13-/-</text>
<text transform="translate(464.0,168.8) scale(0.92,1)" font-size="16.68" text-anchor="start" fill="#000" font-style="italic">Rt2-/-</text>
<text transform="translate(598.0,200.1) scale(0.92,1)" font-size="16.68" text-anchor="start" fill="#000">TLR13-PE</text>
<path d="M506.0,80.6V33.6H553.0" stroke="#c8c8c8" stroke-width="1" fill="none"/>
<path d="M504.8,80.6H506.5" stroke="#777" stroke-width="0.8"/>
<path d="M504.8,71.7H506.5" stroke="#777" stroke-width="0.8"/>
<path d="M504.8,62.9H506.5" stroke="#777" stroke-width="0.8"/>
<path d="M504.8,54.0H506.5" stroke="#777" stroke-width="0.8"/>
<path d="M504.8,45.1H506.5" stroke="#777" stroke-width="0.8"/>
<path d="M504.8,36.3H506.5" stroke="#777" stroke-width="0.8"/>
<path d="M506.0,80.6H553.0" stroke="#888" stroke-width="1"/>
<path d="M506.0,80.3 L506.7,80.2 L507.5,79.9 L508.2,79.6 L508.9,79.0 L509.7,78.3 L510.4,77.3 L511.1,75.9 L511.9,74.2 L512.6,72.0 L513.3,69.3 L514.1,65.9 L514.8,61.7 L515.5,56.9 L516.3,51.5 L517.0,46.2 L517.8,41.5 L518.5,38.4 L519.2,37.4 L520.0,38.7 L520.7,42.2 L521.4,47.0 L522.2,52.4 L522.9,57.7 L523.6,62.4 L524.4,66.4 L525.1,69.7 L525.8,72.4 L526.6,74.5 L527.3,76.1 L528.0,77.4 L528.8,78.4 L529.5,79.1 L530.2,79.6 L531.0,80.0 L531.7,80.2 L532.4,80.4 L533.2,80.5 L533.9,80.5 L534.6,80.6 L535.4,80.6 L536.1,80.6 L536.8,80.6 L537.6,80.6 L538.3,80.6 L539.0,80.6 L539.8,80.6 L540.5,80.6 L541.2,80.6 L542.0,80.6 L542.7,80.6 L543.5,80.6 L544.2,80.6 L544.9,80.6 L545.7,80.6 L546.4,80.6 L547.1,80.6 L547.9,80.6 L548.6,80.6 L549.3,80.6 L550.1,80.6 L550.8,80.6 L551.5,80.6 L552.3,80.6 L553.0,80.6" stroke="#111111" stroke-width="0.95" fill="none" stroke-linejoin="round"/>
<path d="M506.0,80.6 L506.7,80.6 L507.5,80.6 L508.2,80.5 L508.9,80.5 L509.7,80.5 L510.4,80.4 L511.1,80.3 L511.9,80.1 L512.6,79.9 L513.3,79.6 L514.1,79.2 L514.8,78.7 L515.5,78.0 L516.3,77.2 L517.0,76.1 L517.8,74.8 L518.5,73.3 L519.2,71.4 L520.0,69.1 L520.7,66.6 L521.4,63.4 L522.2,59.2 L522.9,56.5 L523.6,52.2 L524.4,47.8 L525.1,43.9 L525.8,40.9 L526.6,37.5 L527.3,37.2 L528.0,39.3 L528.8,40.3 L529.5,43.1 L530.2,46.2 L531.0,49.6 L531.7,52.7 L532.4,56.4 L533.2,60.1 L533.9,63.4 L534.6,65.9 L535.4,68.6 L536.1,70.0 L536.8,71.8 L537.6,73.3 L538.3,74.7 L539.0,75.8 L539.8,76.7 L540.5,77.5 L541.2,78.2 L542.0,78.7 L542.7,79.2 L543.5,79.5 L544.2,79.8 L544.9,80.0 L545.7,80.2 L546.4,80.3 L547.1,80.4 L547.9,80.4 L548.6,80.5 L549.3,80.5 L550.1,80.6 L550.8,80.6 L551.5,80.6 L552.3,80.6 L553.0,80.6" stroke="#ff0000" stroke-width="0.95" fill="none" stroke-linejoin="round"/>
<path d="M520.1,80.6V81.8" stroke="#555" stroke-width="0.8"/>
<path d="M524.8,80.6V81.8" stroke="#555" stroke-width="0.8"/>
<path d="M529.5,80.6V81.8" stroke="#555" stroke-width="0.8"/>
<path d="M546.0,80.6V81.8" stroke="#555" stroke-width="0.8"/>
<path d="M558.1,80.6V33.6H605.1" stroke="#c8c8c8" stroke-width="1" fill="none"/>
<path d="M556.9,80.6H558.6" stroke="#777" stroke-width="0.8"/>
<path d="M556.9,71.7H558.6" stroke="#777" stroke-width="0.8"/>
<path d="M556.9,62.9H558.6" stroke="#777" stroke-width="0.8"/>
<path d="M556.9,54.0H558.6" stroke="#777" stroke-width="0.8"/>
<path d="M556.9,45.1H558.6" stroke="#777" stroke-width="0.8"/>
<path d="M556.9,36.3H558.6" stroke="#777" stroke-width="0.8"/>
<path d="M558.1,80.6H605.1" stroke="#888" stroke-width="1"/>
<path d="M558.1,80.6 L558.8,80.6 L559.6,80.6 L560.3,80.6 L561.0,80.6 L561.8,80.6 L562.5,80.6 L563.2,80.6 L564.0,80.6 L564.7,80.6 L565.4,80.6 L566.2,80.6 L566.9,80.5 L567.6,80.4 L568.4,80.0 L569.1,79.1 L569.9,77.5 L570.6,74.5 L571.3,69.7 L572.1,62.4 L572.8,52.2 L573.5,41.7 L574.3,36.5 L575.0,40.3 L575.7,50.4 L576.5,60.9 L577.2,68.8 L577.9,73.9 L578.7,77.1 L579.4,78.9 L580.1,79.9 L580.9,80.3 L581.6,80.5 L582.3,80.6 L583.1,80.6 L583.8,80.6 L584.5,80.6 L585.3,80.6 L586.0,80.6 L586.7,80.6 L587.5,80.6 L588.2,80.6 L588.9,80.6 L589.7,80.6 L590.4,80.6 L591.1,80.6 L591.9,80.6 L592.6,80.6 L593.4,80.6 L594.1,80.6 L594.8,80.6 L595.6,80.6 L596.3,80.6 L597.0,80.6 L597.8,80.6 L598.5,80.6 L599.2,80.6 L600.0,80.6 L600.7,80.6 L601.4,80.6 L602.2,80.6 L602.9,80.6 L603.6,80.6 L604.4,80.6 L605.1,80.6" stroke="#111111" stroke-width="0.95" fill="none" stroke-linejoin="round"/>
<path d="M558.1,80.6 L558.8,80.6 L559.6,80.6 L560.3,80.6 L561.0,80.6 L561.8,80.6 L562.5,80.6 L563.2,80.6 L564.0,80.6 L564.7,80.6 L565.4,80.6 L566.2,80.6 L566.9,80.6 L567.6,80.6 L568.4,80.5 L569.1,80.4 L569.9,80.2 L570.6,79.9 L571.3,79.4 L572.1,78.5 L572.8,77.2 L573.5,75.3 L574.3,72.7 L575.0,69.1 L575.7,64.2 L576.5,58.8 L577.2,52.5 L577.9,45.7 L578.7,40.7 L579.4,39.1 L580.1,40.4 L580.9,44.5 L581.6,48.6 L582.3,54.0 L583.1,59.4 L583.8,63.9 L584.5,67.5 L585.3,70.5 L586.0,73.0 L586.7,75.0 L587.5,76.5 L588.2,77.7 L588.9,78.6 L589.7,79.3 L590.4,79.7 L591.1,80.0 L591.9,80.3 L592.6,80.4 L593.4,80.5 L594.1,80.5 L594.8,80.6 L595.6,80.6 L596.3,80.6 L597.0,80.6 L597.8,80.6 L598.5,80.6 L599.2,80.6 L600.0,80.6 L600.7,80.6 L601.4,80.6 L602.2,80.6 L602.9,80.6 L603.6,80.6 L604.4,80.6 L605.1,80.6" stroke="#ff0000" stroke-width="0.95" fill="none" stroke-linejoin="round"/>
<path d="M572.2,80.6V81.8" stroke="#555" stroke-width="0.8"/>
<path d="M576.9,80.6V81.8" stroke="#555" stroke-width="0.8"/>
<path d="M581.6,80.6V81.8" stroke="#555" stroke-width="0.8"/>
<path d="M598.1,80.6V81.8" stroke="#555" stroke-width="0.8"/>
<path d="M609.0,80.6V33.6H656.0" stroke="#c8c8c8" stroke-width="1" fill="none"/>
<path d="M607.8,80.6H609.5" stroke="#777" stroke-width="0.8"/>
<path d="M607.8,71.7H609.5" stroke="#777" stroke-width="0.8"/>
<path d="M607.8,62.9H609.5" stroke="#777" stroke-width="0.8"/>
<path d="M607.8,54.0H609.5" stroke="#777" stroke-width="0.8"/>
<path d="M607.8,45.1H609.5" stroke="#777" stroke-width="0.8"/>
<path d="M607.8,36.3H609.5" stroke="#777" stroke-width="0.8"/>
<path d="M609.0,80.6H656.0" stroke="#888" stroke-width="1"/>
<path d="M609.0,80.6 L609.7,80.6 L610.5,80.6 L611.2,80.6 L611.9,80.6 L612.7,80.6 L613.4,80.6 L614.1,80.6 L614.9,80.6 L615.6,80.6 L616.3,80.6 L617.1,80.5 L617.8,80.4 L618.5,80.2 L619.3,79.7 L620.0,78.8 L620.8,77.1 L621.5,74.5 L622.2,70.4 L623.0,64.5 L623.7,56.3 L624.4,46.6 L625.2,38.5 L625.9,36.0 L626.6,40.6 L627.4,49.6 L628.1,59.0 L628.8,66.5 L629.6,71.8 L630.3,75.4 L631.0,77.7 L631.8,79.1 L632.5,79.9 L633.2,80.3 L634.0,80.5 L634.7,80.6 L635.4,80.6 L636.2,80.6 L636.9,80.6 L637.6,80.6 L638.4,80.6 L639.1,80.6 L639.8,80.6 L640.6,80.6 L641.3,80.6 L642.0,80.6 L642.8,80.6 L643.5,80.6 L644.2,80.6 L645.0,80.6 L645.7,80.6 L646.5,80.6 L647.2,80.6 L647.9,80.6 L648.7,80.6 L649.4,80.6 L650.1,80.6 L650.9,80.6 L651.6,80.6 L652.3,80.6 L653.1,80.6 L653.8,80.6 L654.5,80.6 L655.3,80.6 L656.0,80.6" stroke="#111111" stroke-width="0.95" fill="none" stroke-linejoin="round"/>
<path d="M609.0,80.6 L609.7,80.6 L610.5,80.6 L611.2,80.6 L611.9,80.6 L612.7,80.6 L613.4,80.6 L614.1,80.6 L614.9,80.6 L615.6,80.6 L616.3,80.6 L617.1,80.6 L617.8,80.6 L618.5,80.5 L619.3,80.5 L620.0,80.3 L620.8,80.1 L621.5,79.6 L622.2,78.9 L623.0,77.8 L623.7,76.3 L624.4,74.0 L625.2,71.0 L625.9,67.0 L626.6,61.8 L627.4,55.5 L628.1,49.0 L628.8,43.6 L629.6,41.2 L630.3,41.5 L631.0,43.0 L631.8,45.4 L632.5,48.6 L633.2,52.1 L634.0,55.7 L634.7,59.2 L635.4,62.4 L636.2,65.4 L636.9,67.9 L637.6,70.1 L638.4,72.0 L639.1,73.6 L639.8,75.0 L640.6,76.1 L641.3,77.1 L642.0,77.9 L642.8,78.5 L643.5,79.0 L644.2,79.4 L645.0,79.7 L645.7,80.0 L646.5,80.2 L647.2,80.3 L647.9,80.4 L648.7,80.5 L649.4,80.5 L650.1,80.5 L650.9,80.6 L651.6,80.6 L652.3,80.6 L653.1,80.6 L653.8,80.6 L654.5,80.6 L655.3,80.6 L656.0,80.6" stroke="#ff0000" stroke-width="0.95" fill="none" stroke-linejoin="round"/>
<path d="M623.1,80.6V81.8" stroke="#555" stroke-width="0.8"/>
<path d="M627.8,80.6V81.8" stroke="#555" stroke-width="0.8"/>
<path d="M632.5,80.6V81.8" stroke="#555" stroke-width="0.8"/>
<path d="M649.0,80.6V81.8" stroke="#555" stroke-width="0.8"/>
<path d="M661.0,80.6V33.6H708.0" stroke="#c8c8c8" stroke-width="1" fill="none"/>
<path d="M659.8,80.6H661.5" stroke="#777" stroke-width="0.8"/>
<path d="M659.8,71.7H661.5" stroke="#777" stroke-width="0.8"/>
<path d="M659.8,62.9H661.5" stroke="#777" stroke-width="0.8"/>
<path d="M659.8,54.0H661.5" stroke="#777" stroke-width="0.8"/>
<path d="M659.8,45.1H661.5" stroke="#777" stroke-width="0.8"/>
<path d="M659.8,36.3H661.5" stroke="#777" stroke-width="0.8"/>
<path d="M661.0,80.6H708.0" stroke="#888" stroke-width="1"/>
<path d="M661.0,80.6 L661.7,80.6 L662.5,80.6 L663.2,80.6 L663.9,80.6 L664.7,80.6 L665.4,80.6 L666.1,80.6 L666.9,80.6 L667.6,80.6 L668.3,80.6 L669.1,80.6 L669.8,80.5 L670.5,80.4 L671.3,80.1 L672.0,79.5 L672.8,78.1 L673.5,75.6 L674.2,71.4 L675.0,64.9 L675.7,55.5 L676.4,44.4 L677.2,36.7 L677.9,37.7 L678.6,46.5 L679.4,57.6 L680.1,66.4 L680.8,72.4 L681.6,76.2 L682.3,78.4 L683.0,79.6 L683.8,80.2 L684.5,80.5 L685.2,80.6 L686.0,80.6 L686.7,80.6 L687.4,80.6 L688.2,80.6 L688.9,80.6 L689.6,80.6 L690.4,80.6 L691.1,80.6 L691.8,80.6 L692.6,80.6 L693.3,80.6 L694.0,80.6 L694.8,80.6 L695.5,80.6 L696.2,80.6 L697.0,80.6 L697.7,80.6 L698.5,80.6 L699.2,80.6 L699.9,80.6 L700.7,80.6 L701.4,80.6 L702.1,80.6 L702.9,80.6 L703.6,80.6 L704.3,80.6 L705.1,80.6 L705.8,80.6 L706.5,80.6 L707.3,80.6 L708.0,80.6" stroke="#111111" stroke-width="0.95" fill="none" stroke-linejoin="round"/>
<path d="M661.0,80.6 L661.7,80.6 L662.5,80.6 L663.2,80.6 L663.9,80.6 L664.7,80.6 L665.4,80.6 L666.1,80.6 L666.9,80.6 L667.6,80.6 L668.3,80.6 L669.1,80.6 L669.8,80.6 L670.5,80.6 L671.3,80.6 L672.0,80.6 L672.8,80.6 L673.5,80.5 L674.2,80.4 L675.0,80.2 L675.7,79.7 L676.4,78.8 L677.2,77.1 L677.9,74.4 L678.6,70.4 L679.4,64.5 L680.1,56.3 L680.8,46.9 L681.6,39.2 L682.3,36.9 L683.0,38.2 L683.8,41.2 L684.5,45.4 L685.2,50.2 L686.0,55.0 L686.7,59.6 L687.4,63.6 L688.2,67.0 L688.9,69.9 L689.6,72.3 L690.4,74.2 L691.1,75.7 L691.8,77.0 L692.6,78.0 L693.3,78.7 L694.0,79.3 L694.8,79.7 L695.5,80.0 L696.2,80.2 L697.0,80.4 L697.7,80.4 L698.5,80.5 L699.2,80.5 L699.9,80.6 L700.7,80.6 L701.4,80.6 L702.1,80.6 L702.9,80.6 L703.6,80.6 L704.3,80.6 L705.1,80.6 L705.8,80.6 L706.5,80.6 L707.3,80.6 L708.0,80.6" stroke="#ff0000" stroke-width="0.95" fill="none" stroke-linejoin="round"/>
<path d="M675.1,80.6V81.8" stroke="#555" stroke-width="0.8"/>
<path d="M679.8,80.6V81.8" stroke="#555" stroke-width="0.8"/>
<path d="M684.5,80.6V81.8" stroke="#555" stroke-width="0.8"/>
<path d="M701.0,80.6V81.8" stroke="#555" stroke-width="0.8"/>
<path d="M713.2,80.6V33.6H760.2" stroke="#c8c8c8" stroke-width="1" fill="none"/>
<path d="M712.0,80.6H713.7" stroke="#777" stroke-width="0.8"/>
<path d="M712.0,71.7H713.7" stroke="#777" stroke-width="0.8"/>
<path d="M712.0,62.9H713.7" stroke="#777" stroke-width="0.8"/>
<path d="M712.0,54.0H713.7" stroke="#777" stroke-width="0.8"/>
<path d="M712.0,45.1H713.7" stroke="#777" stroke-width="0.8"/>
<path d="M712.0,36.3H713.7" stroke="#777" stroke-width="0.8"/>
<path d="M713.2,80.6H760.2" stroke="#888" stroke-width="1"/>
<path d="M713.2,80.6 L713.9,80.6 L714.7,80.6 L715.4,80.6 L716.1,80.6 L716.9,80.5 L717.6,80.5 L718.3,80.4 L719.1,80.1 L719.8,79.7 L720.5,79.0 L721.3,78.0 L722.0,76.4 L722.7,74.2 L723.5,71.2 L724.2,67.1 L725.0,61.8 L725.7,55.1 L726.4,47.8 L727.2,41.3 L727.9,37.4 L728.6,37.5 L729.4,41.5 L730.1,48.1 L730.8,55.4 L731.6,62.0 L732.3,67.3 L733.0,71.3 L733.8,74.3 L734.5,76.5 L735.2,78.0 L736.0,79.1 L736.7,79.7 L737.4,80.1 L738.2,80.4 L738.9,80.5 L739.6,80.5 L740.4,80.6 L741.1,80.6 L741.8,80.6 L742.6,80.6 L743.3,80.6 L744.0,80.6 L744.8,80.6 L745.5,80.6 L746.2,80.6 L747.0,80.6 L747.7,80.6 L748.5,80.6 L749.2,80.6 L749.9,80.6 L750.7,80.6 L751.4,80.6 L752.1,80.6 L752.9,80.6 L753.6,80.6 L754.3,80.6 L755.1,80.6 L755.8,80.6 L756.5,80.6 L757.3,80.6 L758.0,80.6 L758.7,80.6 L759.5,80.6 L760.2,80.6" stroke="#111111" stroke-width="0.95" fill="none" stroke-linejoin="round"/>
<path d="M713.2,80.6 L713.9,80.6 L714.7,80.6 L715.4,80.6 L716.1,80.6 L716.9,80.6 L717.6,80.6 L718.3,80.6 L719.1,80.6 L719.8,80.6 L720.5,80.6 L721.3,80.6 L722.0,80.5 L722.7,80.4 L723.5,80.2 L724.2,79.9 L725.0,79.3 L725.7,78.5 L726.4,77.1 L727.2,75.2 L727.9,72.5 L728.6,68.5 L729.4,64.2 L730.1,57.6 L730.8,50.8 L731.6,44.1 L732.3,38.5 L733.0,36.6 L733.8,38.6 L734.5,40.3 L735.2,43.8 L736.0,47.1 L736.7,51.4 L737.4,56.7 L738.2,59.8 L738.9,63.5 L739.6,67.5 L740.4,69.7 L741.1,71.8 L741.8,73.7 L742.6,75.2 L743.3,76.4 L744.0,77.4 L744.8,78.2 L745.5,78.9 L746.2,79.3 L747.0,79.7 L747.7,80.0 L748.5,80.2 L749.2,80.3 L749.9,80.4 L750.7,80.5 L751.4,80.5 L752.1,80.6 L752.9,80.6 L753.6,80.6 L754.3,80.6 L755.1,80.6 L755.8,80.6 L756.5,80.6 L757.3,80.6 L758.0,80.6 L758.7,80.6 L759.5,80.6 L760.2,80.6" stroke="#ff0000" stroke-width="0.95" fill="none" stroke-linejoin="round"/>
<path d="M727.3,80.6V81.8" stroke="#555" stroke-width="0.8"/>
<path d="M732.0,80.6V81.8" stroke="#555" stroke-width="0.8"/>
<path d="M736.7,80.6V81.8" stroke="#555" stroke-width="0.8"/>
<path d="M753.2,80.6V81.8" stroke="#555" stroke-width="0.8"/>
<path d="M506.0,131.6V84.6H553.0" stroke="#c8c8c8" stroke-width="1" fill="none"/>
<path d="M504.8,131.6H506.5" stroke="#777" stroke-width="0.8"/>
<path d="M504.8,122.7H506.5" stroke="#777" stroke-width="0.8"/>
<path d="M504.8,113.9H506.5" stroke="#777" stroke-width="0.8"/>
<path d="M504.8,105.0H506.5" stroke="#777" stroke-width="0.8"/>
<path d="M504.8,96.1H506.5" stroke="#777" stroke-width="0.8"/>
<path d="M504.8,87.3H506.5" stroke="#777" stroke-width="0.8"/>
<path d="M506.0,131.6H553.0" stroke="#888" stroke-width="1"/>
<path d="M506.0,131.5 L506.7,131.4 L507.5,131.3 L508.2,131.1 L508.9,130.7 L509.7,130.2 L510.4,129.5 L511.1,128.5 L511.9,127.1 L512.6,125.3 L513.3,123.0 L514.1,120.1 L514.8,116.5 L515.5,112.0 L516.3,106.7 L517.0,100.9 L517.8,95.2 L518.5,90.6 L519.2,87.8 L520.0,87.7 L520.7,90.1 L521.4,94.6 L522.2,100.2 L522.9,106.0 L523.6,111.4 L524.4,116.0 L525.1,119.7 L525.8,122.7 L526.6,125.1 L527.3,126.9 L528.0,128.3 L528.8,129.4 L529.5,130.1 L530.2,130.7 L531.0,131.0 L531.7,131.2 L532.4,131.4 L533.2,131.5 L533.9,131.5 L534.6,131.6 L535.4,131.6 L536.1,131.6 L536.8,131.6 L537.6,131.6 L538.3,131.6 L539.0,131.6 L539.8,131.6 L540.5,131.6 L541.2,131.6 L542.0,131.6 L542.7,131.6 L543.5,131.6 L544.2,131.6 L544.9,131.6 L545.7,131.6 L546.4,131.6 L547.1,131.6 L547.9,131.6 L548.6,131.6 L549.3,131.6 L550.1,131.6 L550.8,131.6 L551.5,131.6 L552.3,131.6 L553.0,131.6" stroke="#111111" stroke-width="0.95" fill="none" stroke-linejoin="round"/>
<path d="M506.0,131.6 L506.7,131.6 L507.5,131.6 L508.2,131.5 L508.9,131.5 L509.7,131.4 L510.4,131.2 L511.1,131.0 L511.9,130.6 L512.6,130.0 L513.3,129.2 L514.1,128.1 L514.8,126.6 L515.5,124.6 L516.3,122.0 L517.0,119.5 L517.8,114.3 L518.5,109.7 L519.2,103.9 L520.0,98.5 L520.7,93.9 L521.4,90.6 L522.2,90.2 L522.9,92.0 L523.6,93.6 L524.4,97.9 L525.1,101.6 L525.8,104.7 L526.6,110.0 L527.3,113.7 L528.0,116.9 L528.8,118.5 L529.5,121.5 L530.2,123.5 L531.0,125.2 L531.7,126.6 L532.4,127.8 L533.2,128.7 L533.9,129.4 L534.6,130.0 L535.4,130.5 L536.1,130.8 L536.8,131.0 L537.6,131.2 L538.3,131.3 L539.0,131.4 L539.8,131.5 L540.5,131.5 L541.2,131.6 L542.0,131.6 L542.7,131.6 L543.5,131.6 L544.2,131.6 L544.9,131.6 L545.7,131.6 L546.4,131.6 L547.1,131.6 L547.9,131.6 L548.6,131.6 L549.3,131.6 L550.1,131.6 L550.8,131.6 L551.5,131.6 L552.3,131.6 L553.0,131.6" stroke="#ff0000" stroke-width="0.95" fill="none" stroke-linejoin="round"/>
<path d="M520.1,131.6V132.8" stroke="#555" stroke-width="0.8"/>
<path d="M524.8,131.6V132.8" stroke="#555" stroke-width="0.8"/>
<path d="M529.5,131.6V132.8" stroke="#555" stroke-width="0.8"/>
<path d="M546.0,131.6V132.8" stroke="#555" stroke-width="0.8"/>
<path d="M558.1,131.6V84.6H605.1" stroke="#c8c8c8" stroke-width="1" fill="none"/>
<path d="M556.9,131.6H558.6" stroke="#777" stroke-width="0.8"/>
<path d="M556.9,122.7H558.6" stroke="#777" stroke-width="0.8"/>
<path d="M556.9,113.9H558.6" stroke="#777" stroke-width="0.8"/>
<path d="M556.9,105.0H558.6" stroke="#777" stroke-width="0.8"/>
<path d="M556.9,96.1H558.6" stroke="#777" stroke-width="0.8"/>
<path d="M556.9,87.3H558.6" stroke="#777" stroke-width="0.8"/>
<path d="M558.1,131.6H605.1" stroke="#888" stroke-width="1"/>
<path d="M558.1,131.6 L558.8,131.6 L559.6,131.6 L560.3,131.6 L561.0,131.6 L561.8,131.6 L562.5,131.6 L563.2,131.6 L564.0,131.6 L564.7,131.6 L565.4,131.6 L566.2,131.6 L566.9,131.6 L567.6,131.4 L568.4,131.1 L569.1,130.2 L569.9,128.4 L570.6,124.9 L571.3,119.1 L572.1,109.9 L572.8,97.9 L573.5,88.6 L574.3,89.3 L575.0,99.4 L575.7,111.2 L576.5,120.0 L577.2,125.5 L577.9,128.7 L578.7,130.4 L579.4,131.2 L580.1,131.5 L580.9,131.6 L581.6,131.6 L582.3,131.6 L583.1,131.6 L583.8,131.6 L584.5,131.6 L585.3,131.6 L586.0,131.6 L586.7,131.6 L587.5,131.6 L588.2,131.6 L588.9,131.6 L589.7,131.6 L590.4,131.6 L591.1,131.6 L591.9,131.6 L592.6,131.6 L593.4,131.6 L594.1,131.6 L594.8,131.6 L595.6,131.6 L596.3,131.6 L597.0,131.6 L597.8,131.6 L598.5,131.6 L599.2,131.6 L600.0,131.6 L600.7,131.6 L601.4,131.6 L602.2,131.6 L602.9,131.6 L603.6,131.6 L604.4,131.6 L605.1,131.6" stroke="#111111" stroke-width="0.95" fill="none" stroke-linejoin="round"/>
<path d="M558.1,131.6 L558.8,131.6 L559.6,131.6 L560.3,131.6 L561.0,131.6 L561.8,131.6 L562.5,131.6 L563.2,131.6 L564.0,131.6 L564.7,131.6 L565.4,131.6 L566.2,131.6 L566.9,131.6 L567.6,131.5 L568.4,131.4 L569.1,131.0 L569.9,130.2 L570.6,128.5 L571.3,125.6 L572.1,121.0 L572.8,113.8 L573.5,104.0 L574.3,94.0 L575.0,89.3 L575.7,90.6 L576.5,94.5 L577.2,100.1 L577.9,106.1 L578.7,111.6 L579.4,116.2 L580.1,119.9 L580.9,122.7 L581.6,124.8 L582.3,126.4 L583.1,127.5 L583.8,128.3 L584.5,128.9 L585.3,129.3 L586.0,129.6 L586.7,129.8 L587.5,130.0 L588.2,130.2 L588.9,130.4 L589.7,130.6 L590.4,130.8 L591.1,131.0 L591.9,131.2 L592.6,131.3 L593.4,131.4 L594.1,131.4 L594.8,131.5 L595.6,131.5 L596.3,131.6 L597.0,131.6 L597.8,131.6 L598.5,131.6 L599.2,131.6 L600.0,131.6 L600.7,131.6 L601.4,131.6 L602.2,131.6 L602.9,131.6 L603.6,131.6 L604.4,131.6 L605.1,131.6" stroke="#ff0000" stroke-width="0.95" fill="none" stroke-linejoin="round"/>
<path d="M572.2,131.6V132.8" stroke="#555" stroke-width="0.8"/>
<path d="M576.9,131.6V132.8" stroke="#555" stroke-width="0.8"/>
<path d="M581.6,131.6V132.8" stroke="#555" stroke-width="0.8"/>
<path d="M598.1,131.6V132.8" stroke="#555" stroke-width="0.8"/>
<path d="M609.0,131.6V84.6H656.0" stroke="#c8c8c8" stroke-width="1" fill="none"/>
<path d="M607.8,131.6H609.5" stroke="#777" stroke-width="0.8"/>
<path d="M607.8,122.7H609.5" stroke="#777" stroke-width="0.8"/>
<path d="M607.8,113.9H609.5" stroke="#777" stroke-width="0.8"/>
<path d="M607.8,105.0H609.5" stroke="#777" stroke-width="0.8"/>
<path d="M607.8,96.1H609.5" stroke="#777" stroke-width="0.8"/>
<path d="M607.8,87.3H609.5" stroke="#777" stroke-width="0.8"/>
<path d="M609.0,131.6H656.0" stroke="#888" stroke-width="1"/>
<path d="M609.0,131.6 L609.7,131.6 L610.5,131.6 L611.2,131.6 L611.9,131.6 L612.7,131.6 L613.4,131.6 L614.1,131.6 L614.9,131.6 L615.6,131.6 L616.3,131.6 L617.1,131.5 L617.8,131.4 L618.5,131.2 L619.3,130.7 L620.0,129.8 L620.8,128.2 L621.5,125.6 L622.2,121.6 L623.0,115.8 L623.7,107.8 L624.4,98.3 L625.2,90.4 L625.9,88.0 L626.6,91.8 L627.4,99.6 L628.1,108.3 L628.8,115.6 L629.6,121.1 L630.3,125.0 L631.0,127.6 L631.8,129.4 L632.5,130.4 L633.2,131.0 L634.0,131.3 L634.7,131.5 L635.4,131.6 L636.2,131.6 L636.9,131.6 L637.6,131.6 L638.4,131.6 L639.1,131.6 L639.8,131.6 L640.6,131.6 L641.3,131.6 L642.0,131.6 L642.8,131.6 L643.5,131.6 L644.2,131.6 L645.0,131.6 L645.7,131.6 L646.5,131.6 L647.2,131.6 L647.9,131.6 L648.7,131.6 L649.4,131.6 L650.1,131.6 L650.9,131.6 L651.6,131.6 L652.3,131.6 L653.1,131.6 L653.8,131.6 L654.5,131.6 L655.3,131.6 L656.0,131.6" stroke="#111111" stroke-width="0.95" fill="none" stroke-linejoin="round"/>
<path d="M609.0,131.6 L609.7,131.6 L610.5,131.6 L611.2,131.6 L611.9,131.6 L612.7,131.6 L613.4,131.6 L614.1,131.6 L614.9,131.6 L615.6,131.6 L616.3,131.6 L617.1,131.5 L617.8,131.4 L618.5,131.1 L619.3,130.5 L620.0,129.4 L620.8,127.6 L621.5,124.8 L622.2,120.6 L623.0,114.7 L623.7,106.7 L624.4,97.6 L625.2,90.2 L625.9,87.9 L626.6,90.3 L627.4,95.6 L628.1,102.3 L628.8,109.0 L629.6,114.8 L630.3,119.4 L631.0,123.0 L631.8,125.6 L632.5,127.6 L633.2,129.0 L634.0,130.0 L634.7,130.7 L635.4,131.1 L636.2,131.3 L636.9,131.5 L637.6,131.5 L638.4,131.6 L639.1,131.6 L639.8,131.6 L640.6,131.6 L641.3,131.6 L642.0,131.6 L642.8,131.6 L643.5,131.6 L644.2,131.6 L645.0,131.6 L645.7,131.6 L646.5,131.6 L647.2,131.6 L647.9,131.6 L648.7,131.6 L649.4,131.6 L650.1,131.6 L650.9,131.6 L651.6,131.6 L652.3,131.6 L653.1,131.6 L653.8,131.6 L654.5,131.6 L655.3,131.6 L656.0,131.6" stroke="#ff0000" stroke-width="0.95" fill="none" stroke-linejoin="round"/>
<path d="M623.1,131.6V132.8" stroke="#555" stroke-width="0.8"/>
<path d="M627.8,131.6V132.8" stroke="#555" stroke-width="0.8"/>
<path d="M632.5,131.6V132.8" stroke="#555" stroke-width="0.8"/>
<path d="M649.0,131.6V132.8" stroke="#555" stroke-width="0.8"/>
<path d="M661.0,131.6V84.6H708.0" stroke="#c8c8c8" stroke-width="1" fill="none"/>
<path d="M659.8,131.6H661.5" stroke="#777" stroke-width="0.8"/>
<path d="M659.8,122.7H661.5" stroke="#777" stroke-width="0.8"/>
<path d="M659.8,113.9H661.5" stroke="#777" stroke-width="0.8"/>
<path d="M659.8,105.0H661.5" stroke="#777" stroke-width="0.8"/>
<path d="M659.8,96.1H661.5" stroke="#777" stroke-width="0.8"/>
<path d="M659.8,87.3H661.5" stroke="#777" stroke-width="0.8"/>
<path d="M661.0,131.6H708.0" stroke="#888" stroke-width="1"/>
<path d="M661.0,131.6 L661.7,131.6 L662.5,131.6 L663.2,131.6 L663.9,131.6 L664.7,131.6 L665.4,131.6 L666.1,131.6 L666.9,131.6 L667.6,131.6 L668.3,131.6 L669.1,131.6 L669.8,131.5 L670.5,131.4 L671.3,131.1 L672.0,130.5 L672.8,129.1 L673.5,126.6 L674.2,122.4 L675.0,115.9 L675.7,106.5 L676.4,95.4 L677.2,87.7 L677.9,88.7 L678.6,97.5 L679.4,108.6 L680.1,117.4 L680.8,123.4 L681.6,127.2 L682.3,129.4 L683.0,130.6 L683.8,131.2 L684.5,131.5 L685.2,131.6 L686.0,131.6 L686.7,131.6 L687.4,131.6 L688.2,131.6 L688.9,131.6 L689.6,131.6 L690.4,131.6 L691.1,131.6 L691.8,131.6 L692.6,131.6 L693.3,131.6 L694.0,131.6 L694.8,131.6 L695.5,131.6 L696.2,131.6 L697.0,131.6 L697.7,131.6 L698.5,131.6 L699.2,131.6 L699.9,131.6 L700.7,131.6 L701.4,131.6 L702.1,131.6 L702.9,131.6 L703.6,131.6 L704.3,131.6 L705.1,131.6 L705.8,131.6 L706.5,131.6 L707.3,131.6 L708.0,131.6" stroke="#111111" stroke-width="0.95" fill="none" stroke-linejoin="round"/>
<path d="M661.0,131.6 L661.7,131.6 L662.5,131.6 L663.2,131.6 L663.9,131.6 L664.7,131.6 L665.4,131.6 L666.1,131.6 L666.9,131.6 L667.6,131.6 L668.3,131.6 L669.1,131.6 L669.8,131.6 L670.5,131.6 L671.3,131.5 L672.0,131.4 L672.8,131.1 L673.5,130.4 L674.2,129.1 L675.0,126.9 L675.7,123.4 L676.4,118.2 L677.2,110.7 L677.9,101.2 L678.6,92.7 L679.4,89.3 L680.1,90.5 L680.8,93.8 L681.6,98.5 L682.3,103.8 L683.0,109.0 L683.8,113.7 L684.5,117.6 L685.2,120.9 L686.0,123.5 L686.7,125.5 L687.4,127.2 L688.2,128.5 L688.9,129.4 L689.6,130.1 L690.4,130.6 L691.1,131.0 L691.8,131.2 L692.6,131.4 L693.3,131.5 L694.0,131.5 L694.8,131.6 L695.5,131.6 L696.2,131.6 L697.0,131.6 L697.7,131.6 L698.5,131.6 L699.2,131.6 L699.9,131.6 L700.7,131.6 L701.4,131.6 L702.1,131.6 L702.9,131.6 L703.6,131.6 L704.3,131.6 L705.1,131.6 L705.8,131.6 L706.5,131.6 L707.3,131.6 L708.0,131.6" stroke="#ff0000" stroke-width="0.95" fill="none" stroke-linejoin="round"/>
<path d="M675.1,131.6V132.8" stroke="#555" stroke-width="0.8"/>
<path d="M679.8,131.6V132.8" stroke="#555" stroke-width="0.8"/>
<path d="M684.5,131.6V132.8" stroke="#555" stroke-width="0.8"/>
<path d="M701.0,131.6V132.8" stroke="#555" stroke-width="0.8"/>
<path d="M713.2,131.6V84.6H760.2" stroke="#c8c8c8" stroke-width="1" fill="none"/>
<path d="M712.0,131.6H713.7" stroke="#777" stroke-width="0.8"/>
<path d="M712.0,122.7H713.7" stroke="#777" stroke-width="0.8"/>
<path d="M712.0,113.9H713.7" stroke="#777" stroke-width="0.8"/>
<path d="M712.0,105.0H713.7" stroke="#777" stroke-width="0.8"/>
<path d="M712.0,96.1H713.7" stroke="#777" stroke-width="0.8"/>
<path d="M712.0,87.3H713.7" stroke="#777" stroke-width="0.8"/>
<path d="M713.2,131.6H760.2" stroke="#888" stroke-width="1"/>
<path d="M713.2,131.6 L713.9,131.6 L714.7,131.6 L715.4,131.6 L716.1,131.6 L716.9,131.6 L717.6,131.5 L718.3,131.5 L719.1,131.3 L719.8,131.1 L720.5,130.7 L721.3,130.0 L722.0,128.9 L722.7,127.4 L723.5,125.1 L724.2,122.0 L725.0,117.9 L725.7,112.5 L726.4,105.8 L727.2,98.5 L727.9,92.1 L728.6,88.3 L729.4,88.6 L730.1,92.7 L730.8,99.4 L731.6,106.7 L732.3,113.2 L733.0,118.5 L733.8,122.5 L734.5,125.4 L735.2,127.6 L736.0,129.1 L736.7,130.1 L737.4,130.8 L738.2,131.1 L738.9,131.4 L739.6,131.5 L740.4,131.5 L741.1,131.6 L741.8,131.6 L742.6,131.6 L743.3,131.6 L744.0,131.6 L744.8,131.6 L745.5,131.6 L746.2,131.6 L747.0,131.6 L747.7,131.6 L748.5,131.6 L749.2,131.6 L749.9,131.6 L750.7,131.6 L751.4,131.6 L752.1,131.6 L752.9,131.6 L753.6,131.6 L754.3,131.6 L755.1,131.6 L755.8,131.6 L756.5,131.6 L757.3,131.6 L758.0,131.6 L758.7,131.6 L759.5,131.6 L760.2,131.6" stroke="#111111" stroke-width="0.95" fill="none" stroke-linejoin="round"/>
<path d="M713.2,131.6 L713.9,131.6 L714.7,131.6 L715.4,131.6 L716.1,131.6 L716.9,131.6 L717.6,131.5 L718.3,131.5 L719.1,131.3 L719.8,131.1 L720.5,130.7 L721.3,130.0 L722.0,128.9 L722.7,127.4 L723.5,125.1 L724.2,122.0 L725.0,117.9 L725.7,112.5 L726.4,105.8 L727.2,98.5 L727.9,92.1 L728.6,88.3 L729.4,88.4 L730.1,91.5 L730.8,96.8 L731.6,103.0 L732.3,109.1 L733.0,114.4 L733.8,118.8 L734.5,122.2 L735.2,124.8 L736.0,126.9 L736.7,128.4 L737.4,129.5 L738.2,130.3 L738.9,130.8 L739.6,131.1 L740.4,131.3 L741.1,131.5 L741.8,131.5 L742.6,131.6 L743.3,131.6 L744.0,131.6 L744.8,131.6 L745.5,131.6 L746.2,131.6 L747.0,131.6 L747.7,131.6 L748.5,131.6 L749.2,131.6 L749.9,131.6 L750.7,131.6 L751.4,131.6 L752.1,131.6 L752.9,131.6 L753.6,131.6 L754.3,131.6 L755.1,131.6 L755.8,131.6 L756.5,131.6 L757.3,131.6 L758.0,131.6 L758.7,131.6 L759.5,131.6 L760.2,131.6" stroke="#ff0000" stroke-width="0.95" fill="none" stroke-linejoin="round"/>
<path d="M727.3,131.6V132.8" stroke="#555" stroke-width="0.8"/>
<path d="M732.0,131.6V132.8" stroke="#555" stroke-width="0.8"/>
<path d="M736.7,131.6V132.8" stroke="#555" stroke-width="0.8"/>
<path d="M753.2,131.6V132.8" stroke="#555" stroke-width="0.8"/>
<path d="M506.0,182.1V135.1H553.0" stroke="#c8c8c8" stroke-width="1" fill="none"/>
<path d="M504.8,182.1H506.5" stroke="#777" stroke-width="0.8"/>
<path d="M504.8,173.2H506.5" stroke="#777" stroke-width="0.8"/>
<path d="M504.8,164.4H506.5" stroke="#777" stroke-width="0.8"/>
<path d="M504.8,155.5H506.5" stroke="#777" stroke-width="0.8"/>
<path d="M504.8,146.6H506.5" stroke="#777" stroke-width="0.8"/>
<path d="M504.8,137.8H506.5" stroke="#777" stroke-width="0.8"/>
<path d="M506.0,182.1H553.0" stroke="#888" stroke-width="1"/>
<path d="M506.0,182.0 L506.7,181.9 L507.5,181.8 L508.2,181.5 L508.9,181.2 L509.7,180.6 L510.4,179.7 L511.1,178.5 L511.9,176.9 L512.6,174.7 L513.3,171.9 L514.1,168.8 L514.8,164.5 L515.5,157.7 L516.3,152.9 L517.0,145.8 L517.8,141.6 L518.5,139.3 L519.2,139.0 L520.0,139.7 L520.7,139.3 L521.4,142.3 L522.2,145.3 L522.9,151.5 L523.6,157.2 L524.4,163.8 L525.1,167.4 L525.8,170.8 L526.6,174.4 L527.3,176.6 L528.0,178.3 L528.8,179.6 L529.5,180.5 L530.2,181.1 L531.0,181.5 L531.7,181.8 L532.4,181.9 L533.2,182.0 L533.9,182.0 L534.6,182.1 L535.4,182.1 L536.1,182.1 L536.8,182.1 L537.6,182.1 L538.3,182.1 L539.0,182.1 L539.8,182.1 L540.5,182.1 L541.2,182.1 L542.0,182.1 L542.7,182.1 L543.5,182.1 L544.2,182.1 L544.9,182.1 L545.7,182.1 L546.4,182.1 L547.1,182.1 L547.9,182.1 L548.6,182.1 L549.3,182.1 L550.1,182.1 L550.8,182.1 L551.5,182.1 L552.3,182.1 L553.0,182.1" stroke="#111111" stroke-width="0.95" fill="none" stroke-linejoin="round"/>
<path d="M506.0,182.1 L506.7,182.1 L507.5,182.1 L508.2,182.0 L508.9,182.0 L509.7,181.9 L510.4,181.8 L511.1,181.6 L511.9,181.3 L512.6,181.0 L513.3,180.5 L514.1,179.8 L514.8,178.9 L515.5,177.8 L516.3,176.4 L517.0,174.7 L517.8,172.6 L518.5,171.1 L519.2,167.3 L520.0,163.1 L520.7,158.2 L521.4,155.2 L522.2,150.8 L522.9,146.6 L523.6,142.6 L524.4,140.7 L525.1,141.5 L525.8,141.5 L526.6,141.5 L527.3,141.6 L528.0,141.4 L528.8,142.2 L529.5,141.2 L530.2,140.6 L531.0,144.2 L531.7,146.9 L532.4,152.6 L533.2,155.9 L533.9,160.1 L534.6,164.3 L535.4,168.1 L536.1,171.1 L536.8,173.5 L537.6,175.4 L538.3,177.0 L539.0,178.3 L539.8,179.3 L540.5,180.1 L541.2,180.7 L542.0,181.1 L542.7,181.4 L543.5,181.7 L544.2,181.8 L544.9,181.9 L545.7,182.0 L546.4,182.0 L547.1,182.1 L547.9,182.1 L548.6,182.1 L549.3,182.1 L550.1,182.1 L550.8,182.1 L551.5,182.1 L552.3,182.1 L553.0,182.1" stroke="#ff0000" stroke-width="0.95" fill="none" stroke-linejoin="round"/>
<path d="M520.1,182.1V183.3" stroke="#555" stroke-width="0.8"/>
<path d="M524.8,182.1V183.3" stroke="#555" stroke-width="0.8"/>
<path d="M529.5,182.1V183.3" stroke="#555" stroke-width="0.8"/>
<path d="M546.0,182.1V183.3" stroke="#555" stroke-width="0.8"/>
<path d="M558.1,182.1V135.1H605.1" stroke="#c8c8c8" stroke-width="1" fill="none"/>
<path d="M556.9,182.1H558.6" stroke="#777" stroke-width="0.8"/>
<path d="M556.9,173.2H558.6" stroke="#777" stroke-width="0.8"/>
<path d="M556.9,164.4H558.6" stroke="#777" stroke-width="0.8"/>
<path d="M556.9,155.5H558.6" stroke="#777" stroke-width="0.8"/>
<path d="M556.9,146.6H558.6" stroke="#777" stroke-width="0.8"/>
<path d="M556.9,137.8H558.6" stroke="#777" stroke-width="0.8"/>
<path d="M558.1,182.1H605.1" stroke="#888" stroke-width="1"/>
<path d="M558.1,182.1 L558.8,182.1 L559.6,182.1 L560.3,182.1 L561.0,182.1 L561.8,182.1 L562.5,182.1 L563.2,182.1 L564.0,182.1 L564.7,182.1 L565.4,182.1 L566.2,182.0 L566.9,181.7 L567.6,181.1 L568.4,179.8 L569.1,177.5 L569.9,173.6 L570.6,167.5 L571.3,158.6 L572.1,147.9 L572.8,139.9 L573.5,140.1 L574.3,148.3 L575.0,159.0 L575.7,167.8 L576.5,173.8 L577.2,177.6 L577.9,179.9 L578.7,181.1 L579.4,181.7 L580.1,182.0 L580.9,182.1 L581.6,182.1 L582.3,182.1 L583.1,182.1 L583.8,182.1 L584.5,182.1 L585.3,182.1 L586.0,182.1 L586.7,182.1 L587.5,182.1 L588.2,182.1 L588.9,182.1 L589.7,182.1 L590.4,182.1 L591.1,182.1 L591.9,182.1 L592.6,182.1 L593.4,182.1 L594.1,182.1 L594.8,182.1 L595.6,182.1 L596.3,182.1 L597.0,182.1 L597.8,182.1 L598.5,182.1 L599.2,182.1 L600.0,182.1 L600.7,182.1 L601.4,182.1 L602.2,182.1 L602.9,182.1 L603.6,182.1 L604.4,182.1 L605.1,182.1" stroke="#111111" stroke-width="0.95" fill="none" stroke-linejoin="round"/>
<path d="M558.1,182.1 L558.8,182.1 L559.6,182.1 L560.3,182.1 L561.0,182.1 L561.8,182.1 L562.5,182.1 L563.2,182.1 L564.0,182.1 L564.7,182.1 L565.4,182.1 L566.2,182.1 L566.9,182.1 L567.6,182.1 L568.4,182.0 L569.1,182.0 L569.9,181.8 L570.6,181.4 L571.3,180.7 L572.1,179.5 L572.8,177.5 L573.5,174.6 L574.3,170.4 L575.0,164.5 L575.7,156.7 L576.5,148.1 L577.2,141.2 L577.9,138.9 L578.7,140.8 L579.4,145.2 L580.1,151.1 L580.9,157.3 L581.6,162.9 L582.3,167.6 L583.1,171.4 L583.8,174.3 L584.5,176.6 L585.3,178.3 L586.0,179.6 L586.7,180.5 L587.5,181.1 L588.2,181.5 L588.9,181.8 L589.7,181.9 L590.4,182.0 L591.1,182.0 L591.9,182.1 L592.6,182.1 L593.4,182.1 L594.1,182.1 L594.8,182.1 L595.6,182.1 L596.3,182.1 L597.0,182.1 L597.8,182.1 L598.5,182.1 L599.2,182.1 L600.0,182.1 L600.7,182.1 L601.4,182.1 L602.2,182.1 L602.9,182.1 L603.6,182.1 L604.4,182.1 L605.1,182.1" stroke="#ff0000" stroke-width="0.95" fill="none" stroke-linejoin="round"/>
<path d="M572.2,182.1V183.3" stroke="#555" stroke-width="0.8"/>
<path d="M576.9,182.1V183.3" stroke="#555" stroke-width="0.8"/>
<path d="M581.6,182.1V183.3" stroke="#555" stroke-width="0.8"/>
<path d="M598.1,182.1V183.3" stroke="#555" stroke-width="0.8"/>
<path d="M609.0,182.1V135.1H656.0" stroke="#c8c8c8" stroke-width="1" fill="none"/>
<path d="M607.8,182.1H609.5" stroke="#777" stroke-width="0.8"/>
<path d="M607.8,173.2H609.5" stroke="#777" stroke-width="0.8"/>
<path d="M607.8,164.4H609.5" stroke="#777" stroke-width="0.8"/>
<path d="M607.8,155.5H609.5" stroke="#777" stroke-width="0.8"/>
<path d="M607.8,146.6H609.5" stroke="#777" stroke-width="0.8"/>
<path d="M607.8,137.8H609.5" stroke="#777" stroke-width="0.8"/>
<path d="M609.0,182.1H656.0" stroke="#888" stroke-width="1"/>
<path d="M609.0,182.1 L609.7,182.1 L610.5,182.1 L611.2,182.1 L611.9,182.1 L612.7,182.1 L613.4,182.1 L614.1,182.1 L614.9,182.1 L615.6,182.0 L616.3,181.8 L617.1,181.5 L617.8,180.9 L618.5,179.8 L619.3,178.0 L620.0,175.3 L620.8,171.3 L621.5,165.7 L622.2,158.2 L623.0,149.5 L623.7,141.6 L624.4,138.0 L625.2,140.3 L625.9,147.4 L626.6,156.2 L627.4,164.1 L628.1,170.2 L628.8,174.5 L629.6,177.4 L630.3,179.4 L631.0,180.7 L631.8,181.4 L632.5,181.8 L633.2,182.0 L634.0,182.0 L634.7,182.1 L635.4,182.1 L636.2,182.1 L636.9,182.1 L637.6,182.1 L638.4,182.1 L639.1,182.1 L639.8,182.1 L640.6,182.1 L641.3,182.1 L642.0,182.1 L642.8,182.1 L643.5,182.1 L644.2,182.1 L645.0,182.1 L645.7,182.1 L646.5,182.1 L647.2,182.1 L647.9,182.1 L648.7,182.1 L649.4,182.1 L650.1,182.1 L650.9,182.1 L651.6,182.1 L652.3,182.1 L653.1,182.1 L653.8,182.1 L654.5,182.1 L655.3,182.1 L656.0,182.1" stroke="#111111" stroke-width="0.95" fill="none" stroke-linejoin="round"/>
<path d="M609.0,182.1 L609.7,182.1 L610.5,182.1 L611.2,182.1 L611.9,182.1 L612.7,182.1 L613.4,182.1 L614.1,182.1 L614.9,182.1 L615.6,182.1 L616.3,182.1 L617.1,182.1 L617.8,182.1 L618.5,182.1 L619.3,182.1 L620.0,182.1 L620.8,182.0 L621.5,181.8 L622.2,181.5 L623.0,180.9 L623.7,179.9 L624.4,178.2 L625.2,175.6 L625.9,171.9 L626.6,166.5 L627.4,159.3 L628.1,150.8 L628.8,143.2 L629.6,139.4 L630.3,140.0 L631.0,142.4 L631.8,146.1 L632.5,150.6 L633.2,155.4 L634.0,160.0 L634.7,164.1 L635.4,167.7 L636.2,170.7 L636.9,173.2 L637.6,175.2 L638.4,176.8 L639.1,178.2 L639.8,179.2 L640.6,180.0 L641.3,180.6 L642.0,181.1 L642.8,181.4 L643.5,181.7 L644.2,181.8 L645.0,181.9 L645.7,182.0 L646.5,182.0 L647.2,182.1 L647.9,182.1 L648.7,182.1 L649.4,182.1 L650.1,182.1 L650.9,182.1 L651.6,182.1 L652.3,182.1 L653.1,182.1 L653.8,182.1 L654.5,182.1 L655.3,182.1 L656.0,182.1" stroke="#ff0000" stroke-width="0.95" fill="none" stroke-linejoin="round"/>
<path d="M623.1,182.1V183.3" stroke="#555" stroke-width="0.8"/>
<path d="M627.8,182.1V183.3" stroke="#555" stroke-width="0.8"/>
<path d="M632.5,182.1V183.3" stroke="#555" stroke-width="0.8"/>
<path d="M649.0,182.1V183.3" stroke="#555" stroke-width="0.8"/>
<path d="M661.0,182.1V135.1H708.0" stroke="#c8c8c8" stroke-width="1" fill="none"/>
<path d="M659.8,182.1H661.5" stroke="#777" stroke-width="0.8"/>
<path d="M659.8,173.2H661.5" stroke="#777" stroke-width="0.8"/>
<path d="M659.8,164.4H661.5" stroke="#777" stroke-width="0.8"/>
<path d="M659.8,155.5H661.5" stroke="#777" stroke-width="0.8"/>
<path d="M659.8,146.6H661.5" stroke="#777" stroke-width="0.8"/>
<path d="M659.8,137.8H661.5" stroke="#777" stroke-width="0.8"/>
<path d="M661.0,182.1H708.0" stroke="#888" stroke-width="1"/>
<path d="M661.0,182.1 L661.7,182.1 L662.5,182.1 L663.2,182.1 L663.9,182.1 L664.7,182.1 L665.4,182.1 L666.1,182.1 L666.9,182.1 L667.6,182.1 L668.3,182.1 L669.1,182.1 L669.8,182.1 L670.5,182.0 L671.3,181.7 L672.0,181.1 L672.8,179.9 L673.5,177.8 L674.2,174.2 L675.0,168.6 L675.7,160.4 L676.4,150.9 L677.2,144.2 L677.9,145.1 L678.6,152.7 L679.4,162.2 L680.1,169.9 L680.8,175.0 L681.6,178.3 L682.3,180.2 L683.0,181.3 L683.8,181.8 L684.5,182.0 L685.2,182.1 L686.0,182.1 L686.7,182.1 L687.4,182.1 L688.2,182.1 L688.9,182.1 L689.6,182.1 L690.4,182.1 L691.1,182.1 L691.8,182.1 L692.6,182.1 L693.3,182.1 L694.0,182.1 L694.8,182.1 L695.5,182.1 L696.2,182.1 L697.0,182.1 L697.7,182.1 L698.5,182.1 L699.2,182.1 L699.9,182.1 L700.7,182.1 L701.4,182.1 L702.1,182.1 L702.9,182.1 L703.6,182.1 L704.3,182.1 L705.1,182.1 L705.8,182.1 L706.5,182.1 L707.3,182.1 L708.0,182.1" stroke="#111111" stroke-width="0.95" fill="none" stroke-linejoin="round"/>
<path d="M661.0,182.1 L661.7,182.1 L662.5,182.1 L663.2,182.1 L663.9,182.1 L664.7,182.1 L665.4,182.1 L666.1,182.1 L666.9,182.1 L667.6,182.1 L668.3,182.1 L669.1,182.1 L669.8,182.1 L670.5,182.0 L671.3,182.0 L672.0,181.8 L672.8,181.4 L673.5,180.7 L674.2,179.6 L675.0,177.9 L675.7,175.3 L676.4,171.1 L677.2,165.2 L677.9,160.7 L678.6,154.1 L679.4,147.5 L680.1,146.2 L680.8,148.1 L681.6,149.8 L682.3,151.2 L683.0,155.3 L683.8,158.0 L684.5,161.1 L685.2,162.8 L686.0,166.2 L686.7,168.9 L687.4,169.7 L688.2,170.9 L688.9,173.8 L689.6,175.2 L690.4,176.4 L691.1,177.5 L691.8,178.3 L692.6,179.1 L693.3,179.7 L694.0,180.2 L694.8,180.7 L695.5,181.0 L696.2,181.3 L697.0,181.5 L697.7,181.6 L698.5,181.8 L699.2,181.9 L699.9,181.9 L700.7,182.0 L701.4,182.0 L702.1,182.0 L702.9,182.1 L703.6,182.1 L704.3,182.1 L705.1,182.1 L705.8,182.1 L706.5,182.1 L707.3,182.1 L708.0,182.1" stroke="#ff0000" stroke-width="0.95" fill="none" stroke-linejoin="round"/>
<path d="M675.1,182.1V183.3" stroke="#555" stroke-width="0.8"/>
<path d="M679.8,182.1V183.3" stroke="#555" stroke-width="0.8"/>
<path d="M684.5,182.1V183.3" stroke="#555" stroke-width="0.8"/>
<path d="M701.0,182.1V183.3" stroke="#555" stroke-width="0.8"/>
<path d="M713.2,182.1V135.1H760.2" stroke="#c8c8c8" stroke-width="1" fill="none"/>
<path d="M712.0,182.1H713.7" stroke="#777" stroke-width="0.8"/>
<path d="M712.0,173.2H713.7" stroke="#777" stroke-width="0.8"/>
<path d="M712.0,164.4H713.7" stroke="#777" stroke-width="0.8"/>
<path d="M712.0,155.5H713.7" stroke="#777" stroke-width="0.8"/>
<path d="M712.0,146.6H713.7" stroke="#777" stroke-width="0.8"/>
<path d="M712.0,137.8H713.7" stroke="#777" stroke-width="0.8"/>
<path d="M713.2,182.1H760.2" stroke="#888" stroke-width="1"/>
<path d="M713.2,182.1 L713.9,182.1 L714.7,182.1 L715.4,182.1 L716.1,182.1 L716.9,182.1 L717.6,182.0 L718.3,182.0 L719.1,181.8 L719.8,181.6 L720.5,181.2 L721.3,180.5 L722.0,179.4 L722.7,177.9 L723.5,175.6 L724.2,172.5 L725.0,168.4 L725.7,163.0 L726.4,156.3 L727.2,149.0 L727.9,142.6 L728.6,138.8 L729.4,139.1 L730.1,143.2 L730.8,149.9 L731.6,157.2 L732.3,163.7 L733.0,169.0 L733.8,173.0 L734.5,175.9 L735.2,178.1 L736.0,179.6 L736.7,180.6 L737.4,181.3 L738.2,181.6 L738.9,181.9 L739.6,182.0 L740.4,182.0 L741.1,182.1 L741.8,182.1 L742.6,182.1 L743.3,182.1 L744.0,182.1 L744.8,182.1 L745.5,182.1 L746.2,182.1 L747.0,182.1 L747.7,182.1 L748.5,182.1 L749.2,182.1 L749.9,182.1 L750.7,182.1 L751.4,182.1 L752.1,182.1 L752.9,182.1 L753.6,182.1 L754.3,182.1 L755.1,182.1 L755.8,182.1 L756.5,182.1 L757.3,182.1 L758.0,182.1 L758.7,182.1 L759.5,182.1 L760.2,182.1" stroke="#111111" stroke-width="0.95" fill="none" stroke-linejoin="round"/>
<path d="M713.2,182.1 L713.9,182.1 L714.7,182.1 L715.4,182.1 L716.1,182.1 L716.9,182.1 L717.6,182.1 L718.3,182.1 L719.1,182.1 L719.8,182.1 L720.5,182.1 L721.3,182.1 L722.0,182.1 L722.7,182.0 L723.5,181.9 L724.2,181.7 L725.0,181.4 L725.7,180.9 L726.4,180.0 L727.2,178.7 L727.9,176.8 L728.6,174.2 L729.4,170.6 L730.1,165.9 L730.8,159.9 L731.6,152.9 L732.3,146.1 L733.0,141.2 L733.8,139.8 L734.5,141.8 L735.2,146.2 L736.0,152.0 L736.7,158.0 L737.4,163.5 L738.2,168.1 L738.9,171.8 L739.6,174.6 L740.4,176.8 L741.1,178.5 L741.8,179.7 L742.6,180.5 L743.3,181.1 L744.0,181.5 L744.8,181.8 L745.5,181.9 L746.2,182.0 L747.0,182.0 L747.7,182.1 L748.5,182.1 L749.2,182.1 L749.9,182.1 L750.7,182.1 L751.4,182.1 L752.1,182.1 L752.9,182.1 L753.6,182.1 L754.3,182.1 L755.1,182.1 L755.8,182.1 L756.5,182.1 L757.3,182.1 L758.0,182.1 L758.7,182.1 L759.5,182.1 L760.2,182.1" stroke="#ff0000" stroke-width="0.95" fill="none" stroke-linejoin="round"/>
<path d="M727.3,182.1V183.3" stroke="#555" stroke-width="0.8"/>
<path d="M732.0,182.1V183.3" stroke="#555" stroke-width="0.8"/>
<path d="M736.7,182.1V183.3" stroke="#555" stroke-width="0.8"/>
<path d="M753.2,182.1V183.3" stroke="#555" stroke-width="0.8"/>
<text transform="translate(-0.5,222.1) scale(0.92,1)" font-size="16.68" text-anchor="start" fill="#000">C</text>
<rect x="75.7" y="212.9" width="46.8" height="15.7" fill="#ffff00"/>
<text transform="translate(76.3,226.3) scale(0.92,1)" font-size="16.23" text-anchor="start" fill="#000">Spleen</text>
<path d="M38.5,241.5V340.5H159.7" stroke="#2a2a2a" stroke-width="1.3" fill="none"/>
<path d="M33.9,340.5H38.5" stroke="#2a2a2a" stroke-width="1.3"/>
<text transform="translate(31.6,345.3) scale(0.92,1)" font-size="16.68" text-anchor="end" fill="#000">0</text>
<path d="M33.9,320.5H38.5" stroke="#2a2a2a" stroke-width="1.3"/>
<text transform="translate(31.6,325.7) scale(0.92,1)" font-size="16.68" text-anchor="end" fill="#000">2</text>
<path d="M33.9,300.5H38.5" stroke="#2a2a2a" stroke-width="1.3"/>
<text transform="translate(31.6,306.0) scale(0.92,1)" font-size="16.68" text-anchor="end" fill="#000">4</text>
<path d="M33.9,281.5H38.5" stroke="#2a2a2a" stroke-width="1.3"/>
<text transform="translate(31.6,286.4) scale(0.92,1)" font-size="16.68" text-anchor="end" fill="#000">6</text>
<path d="M33.9,261.5H38.5" stroke="#2a2a2a" stroke-width="1.3"/>
<text transform="translate(31.6,266.7) scale(0.92,1)" font-size="16.68" text-anchor="end" fill="#000">8</text>
<path d="M33.9,241.5H38.5" stroke="#2a2a2a" stroke-width="1.3"/>
<text transform="translate(31.6,247.1) scale(0.92,1)" font-size="16.68" text-anchor="end" fill="#000">10</text>
<path d="M67.5,340.5V344.5" stroke="#2a2a2a" stroke-width="1.3"/>
<path d="M130.5,340.5V344.5" stroke="#2a2a2a" stroke-width="1.3"/>
<text transform="translate(13.6,296.6) rotate(-90) scale(0.91,1)" x="0" y="0" font-size="16.68" text-anchor="middle">Cell number (×10<tspan font-size="10.0" dy="-5.0">7</tspan><tspan dy="5.0">)</tspan></text>
<text transform="translate(41.2,362.2) scale(0.92,1)" font-size="16.68" text-anchor="start" fill="#000">Ly6C hi</text>
<text transform="translate(104.2,362.2) scale(0.92,1)" font-size="16.68" text-anchor="start" fill="#000">Ly6C low</text>
<path d="M50.5,317.2V284.5H85.5V317.2" stroke="#222" stroke-width="1.3" fill="none"/>
<path d="M67.8,284.5V288.5" stroke="#222" stroke-width="2.2"/>
<path d="M56.53,277.70L57.20,279.47L59.09,279.57L57.62,280.76L58.11,282.58L56.53,281.55L54.94,282.58L55.43,280.76L53.96,279.57L55.85,279.47ZM61.78,277.70L62.45,279.47L64.34,279.57L62.87,280.76L63.36,282.58L61.78,281.55L60.19,282.58L60.68,280.76L59.21,279.57L61.10,279.47Z" fill="#1a1a1a" stroke="#1a1a1a" stroke-width="0.5" stroke-linejoin="round"/>
<path d="M74.00,277.70L74.68,279.47L76.57,279.57L75.09,280.76L75.59,282.58L74.00,281.55L72.41,282.58L72.91,280.76L71.43,279.57L73.32,279.47ZM79.00,277.70L79.68,279.47L81.57,279.57L80.09,280.76L80.59,282.58L79.00,281.55L77.41,282.58L77.91,280.76L76.43,279.57L78.32,279.47Z" fill="#1a1a1a" stroke="#1a1a1a" stroke-width="0.5" stroke-linejoin="round"/>
<path d="M113.5,284.4V251.5H147.5V284.4" stroke="#222" stroke-width="1.3" fill="none"/>
<path d="M130.3,251.5V255.5" stroke="#222" stroke-width="2.2"/>
<path d="M109.10,243.70L109.78,245.47L111.67,245.57L110.19,246.76L110.69,248.58L109.10,247.55L107.51,248.58L108.01,246.76L106.53,245.57L108.42,245.47ZM114.60,243.70L115.28,245.47L117.17,245.57L115.69,246.76L116.19,248.58L114.60,247.55L113.01,248.58L113.51,246.76L112.03,245.57L113.92,245.47ZM120.10,243.70L120.78,245.47L122.67,245.57L121.19,246.76L121.69,248.58L120.10,247.55L118.51,248.58L119.01,246.76L117.53,245.57L119.42,245.47ZM125.60,243.70L126.28,245.47L128.17,245.57L126.69,246.76L127.19,248.58L125.60,247.55L124.01,248.58L124.51,246.76L123.03,245.57L124.92,245.47Z" fill="#1a1a1a" stroke="#1a1a1a" stroke-width="0.5" stroke-linejoin="round"/>
<path d="M132.95,243.70L133.63,245.47L135.52,245.57L134.04,246.76L134.54,248.58L132.95,247.55L131.36,248.58L131.86,246.76L130.38,245.57L132.27,245.47ZM138.45,243.70L139.13,245.47L141.02,245.57L139.54,246.76L140.04,248.58L138.45,247.55L136.86,248.58L137.36,246.76L135.88,245.57L137.77,245.47ZM143.95,243.70L144.63,245.47L146.52,245.57L145.04,246.76L145.54,248.58L143.95,247.55L142.36,248.58L142.86,246.76L141.38,245.57L143.27,245.47ZM149.45,243.70L150.13,245.47L152.02,245.57L150.54,246.76L151.04,248.58L149.45,247.55L147.86,248.58L148.36,246.76L146.88,245.57L148.77,245.47Z" fill="#1a1a1a" stroke="#1a1a1a" stroke-width="0.5" stroke-linejoin="round"/>
<circle cx="47.6" cy="340.1" r="2.0" fill="#000000"/>
<circle cx="50.7" cy="340.1" r="2.0" fill="#000000"/>
<circle cx="53.8" cy="340.1" r="2.0" fill="#000000"/>
<circle cx="63.0" cy="339.5" r="2.0" fill="#ff0000"/>
<circle cx="66.5" cy="339.5" r="2.0" fill="#ff0000"/>
<circle cx="70.0" cy="339.5" r="2.0" fill="#ff0000"/>
<circle cx="73.0" cy="339.5" r="2.0" fill="#ff0000"/>
<circle cx="65.0" cy="336.5" r="2.0" fill="#ff0000"/>
<circle cx="70.5" cy="336.0" r="2.0" fill="#ff0000"/>
<circle cx="67.7" cy="332.9" r="2.0" fill="#ff0000"/>
<circle cx="81.7" cy="340.1" r="2.0" fill="#0000ff"/>
<circle cx="84.0" cy="340.1" r="2.0" fill="#0000ff"/>
<circle cx="86.4" cy="340.1" r="2.0" fill="#0000ff"/>
<circle cx="88.7" cy="340.1" r="2.0" fill="#0000ff"/>
<circle cx="110.2" cy="340.1" r="2.0" fill="#000000"/>
<circle cx="112.5" cy="340.1" r="2.0" fill="#000000"/>
<circle cx="114.9" cy="340.1" r="2.0" fill="#000000"/>
<circle cx="117.2" cy="340.1" r="2.0" fill="#000000"/>
<circle cx="130.1" cy="263.3" r="2.0" fill="#ff0000"/>
<circle cx="127.0" cy="280.4" r="2.0" fill="#ff0000"/>
<circle cx="134.0" cy="283.8" r="2.0" fill="#ff0000"/>
<circle cx="129.3" cy="287.5" r="2.0" fill="#ff0000"/>
<circle cx="130.6" cy="300.1" r="2.0" fill="#ff0000"/>
<circle cx="130.0" cy="310.1" r="2.0" fill="#ff0000"/>
<circle cx="130.0" cy="315.4" r="2.0" fill="#ff0000"/>
<circle cx="130.6" cy="325.1" r="2.0" fill="#ff0000"/>
<path d="M125.6,294.3H137.2" stroke="#ff0000" stroke-width="1.1"/>
<circle cx="144.2" cy="340.1" r="2.0" fill="#0000ff"/>
<circle cx="146.6" cy="340.1" r="2.0" fill="#0000ff"/>
<circle cx="148.9" cy="340.1" r="2.0" fill="#0000ff"/>
<circle cx="151.3" cy="340.1" r="2.0" fill="#0000ff"/>
<rect x="232.8" y="212.0" width="46.5" height="17.1" fill="#ffff00"/>
<text transform="translate(233.4,226.3) scale(0.92,1)" font-size="16.23" text-anchor="start" fill="#000">Spleen</text>
<text transform="translate(212.4,244.8) scale(0.92,1)" font-size="16.12" text-anchor="start" fill="#000">Redpulp Mac.</text>
<path d="M221.5,251.5V345.5H305.6" stroke="#2a2a2a" stroke-width="1.3" fill="none"/>
<path d="M216.5,345.5H221.5" stroke="#2a2a2a" stroke-width="1.3"/>
<text transform="translate(214.2,350.5) scale(0.92,1)" font-size="16.68" text-anchor="end" fill="#000">0</text>
<path d="M216.5,314.5H221.5" stroke="#2a2a2a" stroke-width="1.3"/>
<text transform="translate(214.2,319.4) scale(0.92,1)" font-size="16.68" text-anchor="end" fill="#000">2</text>
<path d="M216.5,283.5H221.5" stroke="#2a2a2a" stroke-width="1.3"/>
<text transform="translate(214.2,288.2) scale(0.92,1)" font-size="16.68" text-anchor="end" fill="#000">4</text>
<path d="M216.5,251.5H221.5" stroke="#2a2a2a" stroke-width="1.3"/>
<text transform="translate(214.2,257.1) scale(0.92,1)" font-size="16.68" text-anchor="end" fill="#000">6</text>
<path d="M238.5,345.5V349.5" stroke="#2a2a2a" stroke-width="1.3"/>
<path d="M264.5,345.5V349.5" stroke="#2a2a2a" stroke-width="1.3"/>
<path d="M289.5,345.5V349.5" stroke="#2a2a2a" stroke-width="1.3"/>
<text transform="translate(197.6,291.4) rotate(-90) scale(0.91,1)" x="0" y="0" font-size="16.68" text-anchor="middle">Cell number (×10<tspan font-size="10.0" dy="-5.0">7</tspan><tspan dy="5.0">)</tspan></text>
<path d="M239.5,290.2V254.5H285.5V290.2" stroke="#222" stroke-width="1.3" fill="none"/>
<path d="M262.8,254.5V258.5" stroke="#222" stroke-width="2.2"/>
<path d="M244.13,248.50L244.81,250.27L246.70,250.37L245.23,251.56L245.72,253.38L244.13,252.35L242.55,253.38L243.04,251.56L241.57,250.37L243.46,250.27ZM249.40,248.50L250.08,250.27L251.97,250.37L250.49,251.56L250.99,253.38L249.40,252.35L247.81,253.38L248.31,251.56L246.83,250.37L248.72,250.27ZM254.67,248.50L255.34,250.27L257.23,250.37L255.76,251.56L256.25,253.38L254.67,252.35L253.08,253.38L253.57,251.56L252.10,250.37L253.99,250.27Z" fill="#1a1a1a" stroke="#1a1a1a" stroke-width="0.5" stroke-linejoin="round"/>
<path d="M269.43,248.50L270.11,250.27L272.00,250.37L270.53,251.56L271.02,253.38L269.43,252.35L267.85,253.38L268.34,251.56L266.87,250.37L268.76,250.27ZM274.90,248.50L275.58,250.27L277.47,250.37L275.99,251.56L276.49,253.38L274.90,252.35L273.31,253.38L273.81,251.56L272.33,250.37L274.22,250.27ZM280.37,248.50L281.04,250.27L282.93,250.37L281.46,251.56L281.95,253.38L280.37,252.35L278.78,253.38L279.27,251.56L277.80,250.37L279.69,250.27Z" fill="#1a1a1a" stroke="#1a1a1a" stroke-width="0.5" stroke-linejoin="round"/>
<circle cx="264.0" cy="266.0" r="2.0" fill="#ff0000"/>
<circle cx="264.0" cy="295.4" r="2.0" fill="#ff0000"/>
<circle cx="264.0" cy="299.6" r="2.0" fill="#ff0000"/>
<circle cx="264.0" cy="303.2" r="2.0" fill="#ff0000"/>
<circle cx="264.0" cy="309.7" r="2.0" fill="#ff0000"/>
<path d="M256.2,299.6H272.6" stroke="#ff0000" stroke-width="1.1"/>
<circle cx="233.5" cy="343.0" r="2.0" fill="#000000"/>
<circle cx="236.5" cy="342.0" r="2.0" fill="#000000"/>
<circle cx="239.5" cy="342.5" r="2.0" fill="#000000"/>
<circle cx="242.5" cy="343.0" r="2.0" fill="#000000"/>
<circle cx="245.5" cy="343.5" r="2.0" fill="#000000"/>
<path d="M232.0,343.3H246.0" stroke="#000000" stroke-width="1.1"/>
<circle cx="282.0" cy="343.5" r="2.0" fill="#0000ff"/>
<circle cx="285.5" cy="343.0" r="2.0" fill="#0000ff"/>
<circle cx="289.0" cy="342.8" r="2.0" fill="#0000ff"/>
<circle cx="292.5" cy="343.2" r="2.0" fill="#0000ff"/>
<circle cx="296.0" cy="343.6" r="2.0" fill="#0000ff"/>
<path d="M281.0,343.4H297.0" stroke="#0000ff" stroke-width="1.1"/>
<rect x="352.4" y="219.0" width="46.2" height="15.6" fill="#ffff00"/>
<text transform="translate(353.0,232.1) scale(0.92,1)" font-size="16.23" text-anchor="start" fill="#000">Spleen</text>
<text transform="translate(402.4,232.1) scale(0.92,1)" font-size="16.68" text-anchor="start" fill="#000">neutrophils</text>
<path d="M376.5,248.5V345.5H459.0" stroke="#2a2a2a" stroke-width="1.3" fill="none"/>
<path d="M371.5,345.5H376.5" stroke="#2a2a2a" stroke-width="1.3"/>
<text transform="translate(369.2,350.4) scale(0.92,1)" font-size="16.68" text-anchor="end" fill="#000">0</text>
<path d="M371.5,313.5H376.5" stroke="#2a2a2a" stroke-width="1.3"/>
<text transform="translate(369.2,318.2) scale(0.92,1)" font-size="16.68" text-anchor="end" fill="#000">0.5</text>
<path d="M371.5,280.5H376.5" stroke="#2a2a2a" stroke-width="1.3"/>
<text transform="translate(369.2,286.1) scale(0.92,1)" font-size="16.68" text-anchor="end" fill="#000">1.0</text>
<path d="M371.5,248.5H376.5" stroke="#2a2a2a" stroke-width="1.3"/>
<text transform="translate(369.2,254.0) scale(0.92,1)" font-size="16.68" text-anchor="end" fill="#000">1.5</text>
<path d="M392.5,345.5V349.5" stroke="#2a2a2a" stroke-width="1.3"/>
<path d="M417.5,345.5V349.5" stroke="#2a2a2a" stroke-width="1.3"/>
<path d="M442.5,345.5V349.5" stroke="#2a2a2a" stroke-width="1.3"/>
<text transform="translate(340.6,291.2) rotate(-90) scale(0.91,1)" x="0" y="0" font-size="16.68" text-anchor="middle">Cell number (×10<tspan font-size="10.0" dy="-5.0">7</tspan><tspan dy="5.0">)</tspan></text>
<path d="M395.5,288.2V253.5H440.5V288.2" stroke="#222" stroke-width="1.3" fill="none"/>
<path d="M417.6,253.5V257.5" stroke="#222" stroke-width="2.2"/>
<path d="M400.17,246.30L400.84,248.07L402.73,248.17L401.26,249.36L401.75,251.18L400.17,250.15L398.58,251.18L399.07,249.36L397.60,248.17L399.49,248.07ZM405.50,246.30L406.18,248.07L408.07,248.17L406.59,249.36L407.09,251.18L405.50,250.15L403.91,251.18L404.41,249.36L402.93,248.17L404.82,248.07ZM410.83,246.30L411.51,248.07L413.40,248.17L411.93,249.36L412.42,251.18L410.83,250.15L409.25,251.18L409.74,249.36L408.27,248.17L410.16,248.07Z" fill="#1a1a1a" stroke="#1a1a1a" stroke-width="0.5" stroke-linejoin="round"/>
<path d="M424.17,246.30L424.84,248.07L426.73,248.17L425.26,249.36L425.75,251.18L424.17,250.15L422.58,251.18L423.07,249.36L421.60,248.17L423.49,248.07ZM429.50,246.30L430.18,248.07L432.07,248.17L430.59,249.36L431.09,251.18L429.50,250.15L427.91,251.18L428.41,249.36L426.93,248.17L428.82,248.07ZM434.83,246.30L435.51,248.07L437.40,248.17L435.93,249.36L436.42,251.18L434.83,250.15L433.25,251.18L433.74,249.36L432.27,248.17L434.16,248.07Z" fill="#1a1a1a" stroke="#1a1a1a" stroke-width="0.5" stroke-linejoin="round"/>
<circle cx="417.6" cy="282.7" r="2.0" fill="#ff0000"/>
<circle cx="417.6" cy="297.6" r="2.0" fill="#ff0000"/>
<circle cx="417.6" cy="308.8" r="2.0" fill="#ff0000"/>
<circle cx="417.6" cy="321.3" r="2.0" fill="#ff0000"/>
<circle cx="417.6" cy="326.2" r="2.0" fill="#ff0000"/>
<path d="M409.4,308.8H426.6" stroke="#ff0000" stroke-width="1.1"/>
<circle cx="387.0" cy="343.3" r="2.0" fill="#000000"/>
<circle cx="390.0" cy="342.8" r="2.0" fill="#000000"/>
<circle cx="393.0" cy="342.6" r="2.0" fill="#000000"/>
<circle cx="396.0" cy="343.0" r="2.0" fill="#000000"/>
<circle cx="399.0" cy="343.3" r="2.0" fill="#000000"/>
<path d="M385.0,343.4H401.0" stroke="#000000" stroke-width="1.1"/>
<circle cx="436.2" cy="343.0" r="2.0" fill="#0000ff"/>
<circle cx="442.4" cy="337.8" r="2.0" fill="#0000ff"/>
<circle cx="442.4" cy="343.0" r="2.0" fill="#0000ff"/>
<circle cx="449.1" cy="343.0" r="2.0" fill="#0000ff"/>
<path d="M434.0,343.2H451.0" stroke="#0000ff" stroke-width="1.1"/>
<rect x="521.6" y="218.7" width="46.6" height="16.8" fill="#ffff00"/>
<text transform="translate(522.2,232.1) scale(0.92,1)" font-size="16.23" text-anchor="start" fill="#000">Spleen</text>
<text transform="translate(571.8,232.1) scale(0.92,1)" font-size="16.68" text-anchor="start" fill="#000">cDC</text>
<path d="M524.5,251.5V345.5H604.6" stroke="#2a2a2a" stroke-width="1.3" fill="none"/>
<path d="M519.2,345.5H524.5" stroke="#2a2a2a" stroke-width="1.3"/>
<text transform="translate(516.9,350.7) scale(0.92,1)" font-size="16.68" text-anchor="end" fill="#000">0</text>
<path d="M519.2,314.5H524.5" stroke="#2a2a2a" stroke-width="1.3"/>
<text transform="translate(516.9,319.2) scale(0.92,1)" font-size="16.68" text-anchor="end" fill="#000">0.5</text>
<path d="M519.2,282.5H524.5" stroke="#2a2a2a" stroke-width="1.3"/>
<text transform="translate(516.9,287.7) scale(0.92,1)" font-size="16.68" text-anchor="end" fill="#000">1.0</text>
<path d="M519.2,251.5H524.5" stroke="#2a2a2a" stroke-width="1.3"/>
<text transform="translate(516.9,256.2) scale(0.92,1)" font-size="16.68" text-anchor="end" fill="#000">1.5</text>
<path d="M540.5,345.5V349.5" stroke="#2a2a2a" stroke-width="1.3"/>
<path d="M564.5,345.5V349.5" stroke="#2a2a2a" stroke-width="1.3"/>
<path d="M589.5,345.5V349.5" stroke="#2a2a2a" stroke-width="1.3"/>
<text transform="translate(492.7,291.3) rotate(-90) scale(0.91,1)" x="0" y="0" font-size="16.68" text-anchor="middle">Cell number (×10<tspan font-size="10.0" dy="-5.0">7</tspan><tspan dy="5.0">)</tspan></text>
<path d="M542.5,286.7V251.5H587.5V286.7" stroke="#222" stroke-width="1.3" fill="none"/>
<path d="M564.6,251.5V255.5" stroke="#222" stroke-width="2.2"/>
<path d="M549.35,245.60L550.03,247.37L551.92,247.47L550.44,248.66L550.94,250.48L549.35,249.45L547.76,250.48L548.26,248.66L546.78,247.47L548.67,247.37ZM554.25,245.60L554.93,247.37L556.82,247.47L555.34,248.66L555.84,250.48L554.25,249.45L552.66,250.48L553.16,248.66L551.68,247.47L553.57,247.37Z" fill="#1a1a1a" stroke="#1a1a1a" stroke-width="0.5" stroke-linejoin="round"/>
<path d="M573.23,245.60L573.90,247.37L575.79,247.47L574.32,248.66L574.81,250.48L573.23,249.45L571.64,250.48L572.13,248.66L570.66,247.47L572.55,247.37ZM578.68,245.60L579.35,247.37L581.24,247.47L579.77,248.66L580.26,250.48L578.68,249.45L577.09,250.48L577.58,248.66L576.11,247.47L578.00,247.37Z" fill="#1a1a1a" stroke="#1a1a1a" stroke-width="0.5" stroke-linejoin="round"/>
<circle cx="565.0" cy="261.1" r="2.0" fill="#ff0000"/>
<circle cx="565.0" cy="268.6" r="2.0" fill="#ff0000"/>
<circle cx="565.0" cy="282.4" r="2.0" fill="#ff0000"/>
<circle cx="561.0" cy="292.6" r="2.0" fill="#ff0000"/>
<circle cx="568.6" cy="295.0" r="2.0" fill="#ff0000"/>
<circle cx="565.0" cy="315.3" r="2.0" fill="#ff0000"/>
<circle cx="561.0" cy="324.2" r="2.0" fill="#ff0000"/>
<circle cx="568.6" cy="322.6" r="2.0" fill="#ff0000"/>
<path d="M557.1,294.2H572.9" stroke="#ff0000" stroke-width="1.1"/>
<circle cx="540.0" cy="335.0" r="2.0" fill="#000000"/>
<circle cx="534.0" cy="340.4" r="2.0" fill="#000000"/>
<circle cx="540.0" cy="340.4" r="2.0" fill="#000000"/>
<circle cx="546.9" cy="340.4" r="2.0" fill="#000000"/>
<path d="M530.0,340.4H550.0" stroke="#000000" stroke-width="1.1"/>
<circle cx="589.3" cy="336.0" r="2.0" fill="#0000ff"/>
<circle cx="582.4" cy="340.4" r="2.0" fill="#0000ff"/>
<circle cx="589.3" cy="340.4" r="2.0" fill="#0000ff"/>
<circle cx="596.2" cy="340.4" r="2.0" fill="#0000ff"/>
<path d="M580.0,340.4H598.0" stroke="#0000ff" stroke-width="1.1"/>
<rect x="658.2" y="217.5" width="46.6" height="16.6" fill="#ffff00"/>
<text transform="translate(658.8,231.8) scale(0.92,1)" font-size="16.23" text-anchor="start" fill="#000">Spleen</text>
<text transform="translate(708.5,231.8) scale(0.92,1)" font-size="16.68" text-anchor="start" fill="#000">pDC</text>
<path d="M661.5,249.5V345.5H743.3" stroke="#2a2a2a" stroke-width="1.3" fill="none"/>
<path d="M656.2,345.5H661.5" stroke="#2a2a2a" stroke-width="1.3"/>
<text transform="translate(653.9,351.0) scale(0.92,1)" font-size="16.68" text-anchor="end" fill="#000">0</text>
<path d="M656.2,326.5H661.5" stroke="#2a2a2a" stroke-width="1.3"/>
<text transform="translate(653.9,331.6) scale(0.92,1)" font-size="16.68" text-anchor="end" fill="#000">1</text>
<path d="M656.2,307.5H661.5" stroke="#2a2a2a" stroke-width="1.3"/>
<text transform="translate(653.9,312.3) scale(0.92,1)" font-size="16.68" text-anchor="end" fill="#000">2</text>
<path d="M656.2,287.5H661.5" stroke="#2a2a2a" stroke-width="1.3"/>
<text transform="translate(653.9,292.9) scale(0.92,1)" font-size="16.68" text-anchor="end" fill="#000">3</text>
<path d="M656.2,268.5H661.5" stroke="#2a2a2a" stroke-width="1.3"/>
<text transform="translate(653.9,273.6) scale(0.92,1)" font-size="16.68" text-anchor="end" fill="#000">4</text>
<path d="M656.2,249.5H661.5" stroke="#2a2a2a" stroke-width="1.3"/>
<text transform="translate(653.9,254.3) scale(0.92,1)" font-size="16.68" text-anchor="end" fill="#000">5</text>
<path d="M676.5,345.5V349.5" stroke="#2a2a2a" stroke-width="1.3"/>
<path d="M702.5,345.5V349.5" stroke="#2a2a2a" stroke-width="1.3"/>
<path d="M727.5,345.5V349.5" stroke="#2a2a2a" stroke-width="1.3"/>
<text transform="translate(632.6,290.3) rotate(-90) scale(0.91,1)" x="0" y="0" font-size="16.68" text-anchor="middle">Cell number (×10<tspan font-size="10.0" dy="-5.0">6</tspan><tspan dy="5.0">)</tspan></text>
<path d="M678.5,288.3V252.5H724.5V288.3" stroke="#222" stroke-width="1.3" fill="none"/>
<path d="M701.3,252.5V256.5" stroke="#222" stroke-width="2.2"/>
<path d="M686.42,245.90L687.10,247.67L688.99,247.77L687.52,248.96L688.01,250.78L686.42,249.75L684.84,250.78L685.33,248.96L683.86,247.77L685.75,247.67ZM691.67,245.90L692.35,247.67L694.24,247.77L692.77,248.96L693.26,250.78L691.67,249.75L690.09,250.78L690.58,248.96L689.11,247.77L691.00,247.67Z" fill="#1a1a1a" stroke="#1a1a1a" stroke-width="0.5" stroke-linejoin="round"/>
<path d="M709.68,245.90L710.35,247.67L712.24,247.77L710.77,248.96L711.26,250.78L709.68,249.75L708.09,250.78L708.58,248.96L707.11,247.77L709.00,247.67ZM714.63,245.90L715.30,247.67L717.19,247.77L715.72,248.96L716.21,250.78L714.63,249.75L713.04,250.78L713.53,248.96L712.06,247.77L713.95,247.67Z" fill="#1a1a1a" stroke="#1a1a1a" stroke-width="0.5" stroke-linejoin="round"/>
<circle cx="698.7" cy="266.9" r="2.0" fill="#ff0000"/>
<circle cx="706.2" cy="265.9" r="2.0" fill="#ff0000"/>
<circle cx="702.3" cy="287.9" r="2.0" fill="#ff0000"/>
<circle cx="698.7" cy="291.7" r="2.0" fill="#ff0000"/>
<circle cx="706.2" cy="293.3" r="2.0" fill="#ff0000"/>
<circle cx="702.3" cy="321.4" r="2.0" fill="#ff0000"/>
<circle cx="698.7" cy="329.0" r="2.0" fill="#ff0000"/>
<circle cx="706.2" cy="326.0" r="2.0" fill="#ff0000"/>
<path d="M694.3,292.3H710.8" stroke="#ff0000" stroke-width="1.1"/>
<circle cx="677.5" cy="336.9" r="2.0" fill="#000000"/>
<circle cx="673.5" cy="341.3" r="2.0" fill="#000000"/>
<circle cx="677.5" cy="342.5" r="2.0" fill="#000000"/>
<circle cx="681.4" cy="341.3" r="2.0" fill="#000000"/>
<path d="M669.1,340.9H685.4" stroke="#000000" stroke-width="1.1"/>
<circle cx="731.0" cy="334.9" r="2.0" fill="#0000ff"/>
<circle cx="724.1" cy="336.9" r="2.0" fill="#0000ff"/>
<circle cx="724.1" cy="341.3" r="2.0" fill="#0000ff"/>
<circle cx="731.0" cy="341.3" r="2.0" fill="#0000ff"/>
<path d="M719.1,338.9H736.0" stroke="#0000ff" stroke-width="1.1"/>
<circle cx="458.0" cy="365.3" r="6.0" fill="#000000"/>
<text transform="translate(464.7,371.2) scale(0.92,1)" font-size="16.68" text-anchor="start" fill="#000">WT</text>
<circle cx="505.2" cy="365.3" r="6.0" fill="#ff0000"/>
<text transform="translate(512.8,371.2) scale(0.92,1)" font-size="16.68" text-anchor="start" fill="#000" font-style="italic">Rt2-/-</text>
<circle cx="572.4" cy="365.3" r="6.0" fill="#0000ff"/>
<text transform="translate(579.2,371.2) scale(0.92,1)" font-size="16.68" text-anchor="start" fill="#000" font-style="italic">Rt2-/- T13-/-</text>
<text transform="translate(-0.5,390.3) scale(0.92,1)" font-size="16.68" text-anchor="start" fill="#000">D</text>
<rect x="35.9" y="385.2" width="46.9" height="16.5" fill="#ffff00"/>
<text transform="translate(36.5,398.8) scale(0.92,1)" font-size="16.23" text-anchor="start" fill="#000">Spleen</text>
<text transform="translate(86.4,398.8) scale(0.92,1)" font-size="16.68" text-anchor="start" fill="#000">T cell</text>
<path d="M41.5,410.5V503.5H123.0" stroke="#2a2a2a" stroke-width="1.3" fill="none"/>
<path d="M36.3,503.5H41.5" stroke="#2a2a2a" stroke-width="1.3"/>
<text transform="translate(34.0,508.9) scale(0.92,1)" font-size="16.68" text-anchor="end" fill="#000">0</text>
<path d="M36.3,480.5H41.5" stroke="#2a2a2a" stroke-width="1.3"/>
<text transform="translate(34.0,485.5) scale(0.92,1)" font-size="16.68" text-anchor="end" fill="#000">1</text>
<path d="M36.3,457.5H41.5" stroke="#2a2a2a" stroke-width="1.3"/>
<text transform="translate(34.0,462.2) scale(0.92,1)" font-size="16.68" text-anchor="end" fill="#000">2</text>
<path d="M36.3,433.5H41.5" stroke="#2a2a2a" stroke-width="1.3"/>
<text transform="translate(34.0,438.8) scale(0.92,1)" font-size="16.68" text-anchor="end" fill="#000">3</text>
<path d="M36.3,410.5H41.5" stroke="#2a2a2a" stroke-width="1.3"/>
<text transform="translate(34.0,415.5) scale(0.92,1)" font-size="16.68" text-anchor="end" fill="#000">4</text>
<path d="M57.5,503.5V507.5" stroke="#2a2a2a" stroke-width="1.3"/>
<path d="M82.5,503.5V507.5" stroke="#2a2a2a" stroke-width="1.3"/>
<path d="M107.5,503.5V507.5" stroke="#2a2a2a" stroke-width="1.3"/>
<text transform="translate(12.6,457.4) rotate(-90) scale(0.91,1)" x="0" y="0" font-size="16.68" text-anchor="middle">Cell number (×10<tspan font-size="10.0" dy="-5.0">8</tspan><tspan dy="5.0">)</tspan></text>
<path d="M59.5,445.6V410.5H104.5V445.6" stroke="#222" stroke-width="1.3" fill="none"/>
<path d="M82.5,410.5V414.5" stroke="#222" stroke-width="2.2"/>
<path d="M69.67,403.90L70.35,405.67L72.24,405.77L70.77,406.96L71.26,408.78L69.67,407.75L68.09,408.78L68.58,406.96L67.11,405.77L69.00,405.67ZM75.02,403.90L75.70,405.67L77.59,405.77L76.12,406.96L76.61,408.78L75.02,407.75L73.44,408.78L73.93,406.96L72.46,405.77L74.35,405.67Z" fill="#1a1a1a" stroke="#1a1a1a" stroke-width="0.5" stroke-linejoin="round"/>
<path d="M88.20,403.90L88.88,405.67L90.77,405.77L89.29,406.96L89.79,408.78L88.20,407.75L86.61,408.78L87.11,406.96L85.63,405.77L87.52,405.67ZM93.70,403.90L94.38,405.67L96.27,405.77L94.79,406.96L95.29,408.78L93.70,407.75L92.11,408.78L92.61,406.96L91.13,405.77L93.02,405.67Z" fill="#1a1a1a" stroke="#1a1a1a" stroke-width="0.5" stroke-linejoin="round"/>
<circle cx="82.5" cy="430.8" r="2.0" fill="#ff0000"/>
<circle cx="82.5" cy="449.2" r="2.0" fill="#ff0000"/>
<circle cx="78.6" cy="464.4" r="2.0" fill="#ff0000"/>
<circle cx="86.3" cy="462.4" r="2.0" fill="#ff0000"/>
<circle cx="82.5" cy="477.7" r="2.0" fill="#ff0000"/>
<circle cx="78.6" cy="484.1" r="2.0" fill="#ff0000"/>
<circle cx="86.3" cy="485.9" r="2.0" fill="#ff0000"/>
<circle cx="82.5" cy="494.3" r="2.0" fill="#ff0000"/>
<path d="M73.8,471.3H90.9" stroke="#ff0000" stroke-width="1.1"/>
<circle cx="53.8" cy="494.3" r="2.0" fill="#000000"/>
<circle cx="60.1" cy="493.1" r="2.0" fill="#000000"/>
<circle cx="50.4" cy="499.1" r="2.0" fill="#000000"/>
<circle cx="57.2" cy="496.5" r="2.0" fill="#000000"/>
<circle cx="64.1" cy="499.1" r="2.0" fill="#000000"/>
<circle cx="54.0" cy="499.5" r="2.0" fill="#000000"/>
<circle cx="60.0" cy="499.5" r="2.0" fill="#000000"/>
<circle cx="57.0" cy="499.5" r="2.0" fill="#000000"/>
<path d="M49.5,499.1H65.8" stroke="#000000" stroke-width="1.1"/>
<circle cx="101.5" cy="498.0" r="2.0" fill="#0000ff"/>
<circle cx="104.0" cy="497.5" r="2.0" fill="#0000ff"/>
<circle cx="107.0" cy="497.0" r="2.0" fill="#0000ff"/>
<circle cx="110.0" cy="496.0" r="2.0" fill="#0000ff"/>
<circle cx="113.0" cy="497.5" r="2.0" fill="#0000ff"/>
<circle cx="108.0" cy="498.5" r="2.0" fill="#0000ff"/>
<circle cx="104.5" cy="498.5" r="2.0" fill="#0000ff"/>
<path d="M99.9,497.6H115.3" stroke="#0000ff" stroke-width="1.1"/>
<rect x="170.9" y="385.1" width="46.3" height="16.9" fill="#ffff00"/>
<text transform="translate(171.5,398.8) scale(0.92,1)" font-size="16.23" text-anchor="start" fill="#000">Spleen</text>
<text transform="translate(220.8,398.8) scale(0.92,1)" font-size="16.68" text-anchor="start" fill="#000">B cell</text>
<path d="M181.5,407.5V503.5H262.3" stroke="#2a2a2a" stroke-width="1.3" fill="none"/>
<path d="M176.5,503.5H181.5" stroke="#2a2a2a" stroke-width="1.3"/>
<text transform="translate(174.2,508.7) scale(0.92,1)" font-size="16.68" text-anchor="end" fill="#000">0</text>
<path d="M176.5,484.5H181.5" stroke="#2a2a2a" stroke-width="1.3"/>
<text transform="translate(174.2,489.5) scale(0.92,1)" font-size="16.68" text-anchor="end" fill="#000">2</text>
<path d="M176.5,465.5H181.5" stroke="#2a2a2a" stroke-width="1.3"/>
<text transform="translate(174.2,470.3) scale(0.92,1)" font-size="16.68" text-anchor="end" fill="#000">4</text>
<path d="M176.5,445.5H181.5" stroke="#2a2a2a" stroke-width="1.3"/>
<text transform="translate(174.2,451.1) scale(0.92,1)" font-size="16.68" text-anchor="end" fill="#000">6</text>
<path d="M176.5,426.5H181.5" stroke="#2a2a2a" stroke-width="1.3"/>
<text transform="translate(174.2,431.9) scale(0.92,1)" font-size="16.68" text-anchor="end" fill="#000">8</text>
<path d="M176.5,407.5H181.5" stroke="#2a2a2a" stroke-width="1.3"/>
<text transform="translate(174.2,412.7) scale(0.92,1)" font-size="16.68" text-anchor="end" fill="#000">10</text>
<path d="M198.5,503.5V507.5" stroke="#2a2a2a" stroke-width="1.3"/>
<path d="M222.5,503.5V507.5" stroke="#2a2a2a" stroke-width="1.3"/>
<path d="M247.5,503.5V507.5" stroke="#2a2a2a" stroke-width="1.3"/>
<text transform="translate(149.6,448.5) rotate(-90) scale(0.91,1)" x="0" y="0" font-size="16.68" text-anchor="middle">Cell number (×10<tspan font-size="10.0" dy="-5.0">8</tspan><tspan dy="5.0">)</tspan></text>
<path d="M199.5,446.2V410.5H245.5V446.2" stroke="#222" stroke-width="1.3" fill="none"/>
<path d="M222.5,410.5V414.5" stroke="#222" stroke-width="2.2"/>
<path d="M210.27,404.10L210.95,405.87L212.84,405.97L211.37,407.16L211.86,408.98L210.27,407.95L208.69,408.98L209.18,407.16L207.71,405.97L209.60,405.87ZM215.43,404.10L216.10,405.87L217.99,405.97L216.52,407.16L217.01,408.98L215.43,407.95L213.84,408.98L214.33,407.16L212.86,405.97L214.75,405.87Z" fill="#1a1a1a" stroke="#1a1a1a" stroke-width="0.5" stroke-linejoin="round"/>
<path d="M229.13,404.10L229.80,405.87L231.69,405.97L230.22,407.16L230.71,408.98L229.13,407.95L227.54,408.98L228.03,407.16L226.56,405.97L228.45,405.87ZM234.58,404.10L235.25,405.87L237.14,405.97L235.67,407.16L236.16,408.98L234.58,407.95L232.99,408.98L233.48,407.16L232.01,405.97L233.90,405.87Z" fill="#1a1a1a" stroke="#1a1a1a" stroke-width="0.5" stroke-linejoin="round"/>
<circle cx="222.9" cy="421.6" r="2.0" fill="#ff0000"/>
<circle cx="222.9" cy="443.8" r="2.0" fill="#ff0000"/>
<circle cx="222.9" cy="447.2" r="2.0" fill="#ff0000"/>
<circle cx="222.9" cy="453.1" r="2.0" fill="#ff0000"/>
<circle cx="222.9" cy="473.4" r="2.0" fill="#ff0000"/>
<circle cx="219.0" cy="481.3" r="2.0" fill="#ff0000"/>
<circle cx="226.8" cy="482.3" r="2.0" fill="#ff0000"/>
<circle cx="222.9" cy="486.6" r="2.0" fill="#ff0000"/>
<path d="M215.0,463.2H231.4" stroke="#ff0000" stroke-width="1.1"/>
<circle cx="198.5" cy="495.5" r="2.0" fill="#000000"/>
<circle cx="192.4" cy="499.6" r="2.0" fill="#000000"/>
<circle cx="195.4" cy="499.6" r="2.0" fill="#000000"/>
<circle cx="198.4" cy="499.6" r="2.0" fill="#000000"/>
<circle cx="201.3" cy="499.6" r="2.0" fill="#000000"/>
<circle cx="204.3" cy="499.6" r="2.0" fill="#000000"/>
<circle cx="242.2" cy="497.5" r="2.0" fill="#0000ff"/>
<circle cx="245.0" cy="497.5" r="2.0" fill="#0000ff"/>
<circle cx="247.9" cy="497.5" r="2.0" fill="#0000ff"/>
<circle cx="250.8" cy="497.5" r="2.0" fill="#0000ff"/>
<circle cx="253.6" cy="497.5" r="2.0" fill="#0000ff"/>
<circle cx="249.0" cy="496.3" r="2.0" fill="#0000ff"/>
<circle cx="55.1" cy="521.4" r="6.0" fill="#000000"/>
<text transform="translate(61.4,527.3) scale(0.92,1)" font-size="16.68" text-anchor="start" fill="#000">WT</text>
<circle cx="102.0" cy="521.4" r="6.0" fill="#ff0000"/>
<text transform="translate(109.0,527.3) scale(0.92,1)" font-size="16.68" text-anchor="start" fill="#000" font-style="italic">Rt2-/-</text>
<circle cx="169.1" cy="521.4" r="6.0" fill="#0000ff"/>
<text transform="translate(176.0,527.3) scale(0.92,1)" font-size="16.68" text-anchor="start" fill="#000" font-style="italic">Rt2-/- T13-/-</text>
<text transform="translate(-0.5,550.5) scale(0.92,1)" font-size="16.68" text-anchor="start" fill="#000">F</text>
<rect x="117.8" y="554.9" width="29.3" height="14.8" fill="#ffff00"/>
<text transform="translate(118.0,567.9) scale(0.92,1)" font-size="15.34" text-anchor="start" fill="#000">Liver</text>
<path d="M44.5,562.5V669.5H233.3" stroke="#2a2a2a" stroke-width="1.3" fill="none"/>
<path d="M39.8,669.5H44.5" stroke="#2a2a2a" stroke-width="1.3"/>
<text transform="translate(37.5,674.8) scale(0.92,1)" font-size="16.68" text-anchor="end" fill="#000">0</text>
<path d="M39.8,648.5H44.5" stroke="#2a2a2a" stroke-width="1.3"/>
<text transform="translate(37.5,653.4) scale(0.92,1)" font-size="16.68" text-anchor="end" fill="#000">2</text>
<path d="M39.8,626.5H44.5" stroke="#2a2a2a" stroke-width="1.3"/>
<text transform="translate(37.5,632.0) scale(0.92,1)" font-size="16.68" text-anchor="end" fill="#000">4</text>
<path d="M39.8,605.5H44.5" stroke="#2a2a2a" stroke-width="1.3"/>
<text transform="translate(37.5,610.7) scale(0.92,1)" font-size="16.68" text-anchor="end" fill="#000">6</text>
<path d="M39.8,584.5H44.5" stroke="#2a2a2a" stroke-width="1.3"/>
<text transform="translate(37.5,589.3) scale(0.92,1)" font-size="16.68" text-anchor="end" fill="#000">8</text>
<path d="M39.8,562.5H44.5" stroke="#2a2a2a" stroke-width="1.3"/>
<text transform="translate(37.5,567.9) scale(0.92,1)" font-size="16.68" text-anchor="end" fill="#000">10</text>
<path d="M73.5,669.5V673.5" stroke="#2a2a2a" stroke-width="1.3"/>
<path d="M139.5,669.5V673.5" stroke="#2a2a2a" stroke-width="1.3"/>
<path d="M203.5,669.5V673.5" stroke="#2a2a2a" stroke-width="1.3"/>
<text transform="translate(13.0,620.0) rotate(-90) scale(0.91,1)" x="0" y="0" font-size="16.68" text-anchor="middle">Cell number (×10<tspan font-size="10.0" dy="-5.0">7</tspan><tspan dy="5.0">)</tspan></text>
<text transform="translate(55.8,689.8) scale(0.92,1)" font-size="16.68" text-anchor="start" fill="#000">KC</text>
<text transform="translate(101.8,689.8) scale(0.92,1)" font-size="16.68" text-anchor="start" fill="#000">Ly6C hi</text>
<text transform="translate(178.0,690.0) scale(0.92,1)" font-size="16.68" text-anchor="start" fill="#000">Ly6C low</text>
<path d="M55.5,645.6V622.5H71.5V626.0M74.5,626.0V622.5H88.5V645.6" stroke="#222" stroke-width="1.3" fill="none"/>
<path d="M57.62,615.50L58.30,617.27L60.19,617.37L58.72,618.56L59.21,620.38L57.62,619.35L56.04,620.38L56.53,618.56L55.06,617.37L56.95,617.27ZM62.88,615.50L63.55,617.27L65.44,617.37L63.97,618.56L64.46,620.38L62.88,619.35L61.29,620.38L61.78,618.56L60.31,617.37L62.20,617.27Z" fill="#1a1a1a" stroke="#1a1a1a" stroke-width="0.5" stroke-linejoin="round"/>
<path d="M77.00,615.50L77.68,617.27L79.57,617.37L78.09,618.56L78.59,620.38L77.00,619.35L75.41,620.38L75.91,618.56L74.43,617.37L76.32,617.27ZM82.00,615.50L82.68,617.27L84.57,617.37L83.09,618.56L83.59,620.38L82.00,619.35L80.41,620.38L80.91,618.56L79.43,617.37L81.32,617.27Z" fill="#1a1a1a" stroke="#1a1a1a" stroke-width="0.5" stroke-linejoin="round"/>
<path d="M122.5,645.6V622.5H137.5V626.0M140.5,626.0V622.5H155.5V645.6" stroke="#222" stroke-width="1.3" fill="none"/>
<path d="M116.60,615.50L117.28,617.27L119.17,617.37L117.69,618.56L118.19,620.38L116.60,619.35L115.01,620.38L115.51,618.56L114.03,617.37L115.92,617.27ZM122.10,615.50L122.78,617.27L124.67,617.37L123.19,618.56L123.69,620.38L122.10,619.35L120.51,620.38L121.01,618.56L119.53,617.37L121.42,617.27ZM127.60,615.50L128.28,617.27L130.17,617.37L128.69,618.56L129.19,620.38L127.60,619.35L126.01,620.38L126.51,618.56L125.03,617.37L126.92,617.27ZM133.10,615.50L133.78,617.27L135.67,617.37L134.19,618.56L134.69,620.38L133.10,619.35L131.51,620.38L132.01,618.56L130.53,617.37L132.42,617.27Z" fill="#1a1a1a" stroke="#1a1a1a" stroke-width="0.5" stroke-linejoin="round"/>
<path d="M141.40,615.50L142.08,617.27L143.97,617.37L142.49,618.56L142.99,620.38L141.40,619.35L139.81,620.38L140.31,618.56L138.83,617.37L140.72,617.27ZM146.90,615.50L147.58,617.27L149.47,617.37L147.99,618.56L148.49,620.38L146.90,619.35L145.31,620.38L145.81,618.56L144.33,617.37L146.22,617.27ZM152.40,615.50L153.08,617.27L154.97,617.37L153.49,618.56L153.99,620.38L152.40,619.35L150.81,620.38L151.31,618.56L149.83,617.37L151.72,617.27ZM157.90,615.50L158.58,617.27L160.47,617.37L158.99,618.56L159.49,620.38L157.90,619.35L156.31,620.38L156.81,618.56L155.33,617.37L157.22,617.27Z" fill="#1a1a1a" stroke="#1a1a1a" stroke-width="0.5" stroke-linejoin="round"/>
<path d="M186.5,588.8V564.5H201.5V568.0M204.5,568.0V564.5H219.5V588.8" stroke="#222" stroke-width="1.3" fill="none"/>
<path d="M180.71,558.00L181.39,559.77L183.28,559.87L181.81,561.06L182.30,562.88L180.71,561.85L179.13,562.88L179.62,561.06L178.14,559.87L180.04,559.77ZM186.14,558.00L186.81,559.77L188.71,559.87L187.23,561.06L187.72,562.88L186.14,561.85L184.55,562.88L185.04,561.06L183.57,559.87L185.46,559.77ZM191.56,558.00L192.24,559.77L194.13,559.87L192.66,561.06L193.15,562.88L191.56,561.85L189.98,562.88L190.47,561.06L188.99,559.87L190.89,559.77ZM196.99,558.00L197.66,559.77L199.56,559.87L198.08,561.06L198.57,562.88L196.99,561.85L195.40,562.88L195.89,561.06L194.42,559.87L196.31,559.77Z" fill="#1a1a1a" stroke="#1a1a1a" stroke-width="0.5" stroke-linejoin="round"/>
<path d="M206.90,558.00L207.58,559.77L209.47,559.87L207.99,561.06L208.49,562.88L206.90,561.85L205.31,562.88L205.81,561.06L204.33,559.87L206.22,559.77ZM212.30,558.00L212.98,559.77L214.87,559.87L213.39,561.06L213.89,562.88L212.30,561.85L210.71,562.88L211.21,561.06L209.73,559.87L211.62,559.77ZM217.70,558.00L218.38,559.77L220.27,559.87L218.79,561.06L219.29,562.88L217.70,561.85L216.11,562.88L216.61,561.06L215.13,559.87L217.02,559.77ZM223.10,558.00L223.78,559.77L225.67,559.87L224.19,561.06L224.69,562.88L223.10,561.85L221.51,562.88L222.01,561.06L220.53,559.87L222.42,559.77Z" fill="#1a1a1a" stroke="#1a1a1a" stroke-width="0.5" stroke-linejoin="round"/>
<circle cx="53.2" cy="669.8" r="2.0" fill="#000000"/>
<circle cx="55.4" cy="669.8" r="2.0" fill="#000000"/>
<circle cx="57.6" cy="669.8" r="2.0" fill="#000000"/>
<circle cx="59.8" cy="669.8" r="2.0" fill="#000000"/>
<circle cx="70.4" cy="652.2" r="2.0" fill="#ff0000"/>
<circle cx="74.9" cy="654.0" r="2.0" fill="#ff0000"/>
<circle cx="70.4" cy="662.7" r="2.0" fill="#ff0000"/>
<circle cx="74.9" cy="663.5" r="2.0" fill="#ff0000"/>
<circle cx="78.8" cy="663.5" r="2.0" fill="#ff0000"/>
<circle cx="70.4" cy="665.4" r="2.0" fill="#ff0000"/>
<path d="M67.8,663.5H78.8" stroke="#ff0000" stroke-width="1.1"/>
<circle cx="90.0" cy="667.8" r="2.0" fill="#0000ff"/>
<circle cx="92.6" cy="667.8" r="2.0" fill="#0000ff"/>
<circle cx="95.2" cy="667.8" r="2.0" fill="#0000ff"/>
<circle cx="91.0" cy="668.5" r="2.0" fill="#0000ff"/>
<circle cx="94.0" cy="668.5" r="2.0" fill="#0000ff"/>
<circle cx="119.0" cy="669.8" r="2.0" fill="#000000"/>
<circle cx="121.5" cy="669.8" r="2.0" fill="#000000"/>
<circle cx="124.0" cy="669.8" r="2.0" fill="#000000"/>
<circle cx="139.3" cy="639.5" r="2.0" fill="#ff0000"/>
<circle cx="136.0" cy="642.5" r="2.0" fill="#ff0000"/>
<circle cx="142.5" cy="645.0" r="2.0" fill="#ff0000"/>
<circle cx="137.0" cy="648.5" r="2.0" fill="#ff0000"/>
<circle cx="141.0" cy="650.0" r="2.0" fill="#ff0000"/>
<circle cx="135.0" cy="653.5" r="2.0" fill="#ff0000"/>
<circle cx="139.0" cy="654.0" r="2.0" fill="#ff0000"/>
<circle cx="143.0" cy="653.0" r="2.0" fill="#ff0000"/>
<circle cx="136.5" cy="657.5" r="2.0" fill="#ff0000"/>
<circle cx="141.5" cy="658.0" r="2.0" fill="#ff0000"/>
<circle cx="138.0" cy="662.7" r="2.0" fill="#ff0000"/>
<circle cx="143.0" cy="661.5" r="2.0" fill="#ff0000"/>
<path d="M134.0,653.5H144.5" stroke="#ff0000" stroke-width="1.1"/>
<circle cx="154.0" cy="669.8" r="2.0" fill="#0000ff"/>
<circle cx="156.8" cy="669.8" r="2.0" fill="#0000ff"/>
<circle cx="159.6" cy="669.8" r="2.0" fill="#0000ff"/>
<circle cx="182.8" cy="669.8" r="2.0" fill="#000000"/>
<circle cx="185.1" cy="669.8" r="2.0" fill="#000000"/>
<circle cx="187.4" cy="669.8" r="2.0" fill="#000000"/>
<circle cx="189.7" cy="669.8" r="2.0" fill="#000000"/>
<circle cx="203.7" cy="573.3" r="2.0" fill="#ff0000"/>
<circle cx="203.7" cy="599.5" r="2.0" fill="#ff0000"/>
<circle cx="203.7" cy="607.8" r="2.0" fill="#ff0000"/>
<circle cx="203.7" cy="613.7" r="2.0" fill="#ff0000"/>
<circle cx="203.7" cy="620.3" r="2.0" fill="#ff0000"/>
<circle cx="200.0" cy="630.0" r="2.0" fill="#ff0000"/>
<circle cx="208.0" cy="628.7" r="2.0" fill="#ff0000"/>
<circle cx="200.0" cy="639.5" r="2.0" fill="#ff0000"/>
<circle cx="208.0" cy="637.0" r="2.0" fill="#ff0000"/>
<path d="M198.3,620.3H209.7" stroke="#ff0000" stroke-width="1.1"/>
<circle cx="218.3" cy="669.8" r="2.0" fill="#0000ff"/>
<circle cx="220.7" cy="669.8" r="2.0" fill="#0000ff"/>
<circle cx="223.1" cy="669.8" r="2.0" fill="#0000ff"/>
<circle cx="225.5" cy="669.8" r="2.0" fill="#0000ff"/>
<circle cx="36.6" cy="704.5" r="6.0" fill="#000000"/>
<text transform="translate(43.4,710.4) scale(0.92,1)" font-size="16.68" text-anchor="start" fill="#000">WT</text>
<circle cx="84.1" cy="704.5" r="6.0" fill="#ff0000"/>
<text transform="translate(90.8,710.4) scale(0.92,1)" font-size="16.68" text-anchor="start" fill="#000" font-style="italic">Rt2-/-</text>
<circle cx="150.6" cy="704.5" r="6.0" fill="#0000ff"/>
<text transform="translate(157.6,710.4) scale(0.92,1)" font-size="16.68" text-anchor="start" fill="#000" font-style="italic">Rt2-/- T13-/-</text>
<text transform="translate(-0.5,738.0) scale(0.92,1)" font-size="16.68" text-anchor="start" fill="#000">G</text>
<text transform="translate(36.0,759.4) scale(0.92,1)" font-size="16.68" text-anchor="start" fill="#000">Neutrophils</text>
<path d="M38.5,770.5V859.5H116.2" stroke="#2a2a2a" stroke-width="1.3" fill="none"/>
<path d="M33.4,859.5H38.5" stroke="#2a2a2a" stroke-width="1.3"/>
<text transform="translate(31.1,864.5) scale(0.92,1)" font-size="16.68" text-anchor="end" fill="#000">0</text>
<path d="M33.4,841.5H38.5" stroke="#2a2a2a" stroke-width="1.3"/>
<text transform="translate(31.1,846.6) scale(0.92,1)" font-size="16.68" text-anchor="end" fill="#000">2</text>
<path d="M33.4,823.5H38.5" stroke="#2a2a2a" stroke-width="1.3"/>
<text transform="translate(31.1,828.8) scale(0.92,1)" font-size="16.68" text-anchor="end" fill="#000">4</text>
<path d="M33.4,805.5H38.5" stroke="#2a2a2a" stroke-width="1.3"/>
<text transform="translate(31.1,810.9) scale(0.92,1)" font-size="16.68" text-anchor="end" fill="#000">6</text>
<path d="M33.4,787.5H38.5" stroke="#2a2a2a" stroke-width="1.3"/>
<text transform="translate(31.1,793.1) scale(0.92,1)" font-size="16.68" text-anchor="end" fill="#000">8</text>
<path d="M33.4,770.5H38.5" stroke="#2a2a2a" stroke-width="1.3"/>
<text transform="translate(31.1,775.2) scale(0.92,1)" font-size="16.68" text-anchor="end" fill="#000">10</text>
<path d="M53.5,859.5V863.5" stroke="#2a2a2a" stroke-width="1.3"/>
<path d="M77.5,859.5V863.5" stroke="#2a2a2a" stroke-width="1.3"/>
<path d="M101.5,859.5V863.5" stroke="#2a2a2a" stroke-width="1.3"/>
<text transform="translate(13.2,813.8) rotate(-90) scale(0.91,1)" x="0" y="0" font-size="16.68" text-anchor="middle">Cell number (×10<tspan font-size="10.0" dy="-5.0">6</tspan><tspan dy="5.0">)</tspan></text>
<path d="M52.5,837.1V791.5H102.5V837.1" stroke="#222" stroke-width="1.3" fill="none"/>
<path d="M77.7,791.5V796.5" stroke="#222" stroke-width="2.2"/>
<path d="M54.55,784.30L55.23,786.07L57.12,786.17L55.64,787.36L56.14,789.18L54.55,788.15L52.96,789.18L53.46,787.36L51.98,786.17L53.87,786.07ZM60.05,784.30L60.73,786.07L62.62,786.17L61.14,787.36L61.64,789.18L60.05,788.15L58.46,789.18L58.96,787.36L57.48,786.17L59.37,786.07ZM65.55,784.30L66.23,786.07L68.12,786.17L66.64,787.36L67.14,789.18L65.55,788.15L63.96,789.18L64.46,787.36L62.98,786.17L64.87,786.07ZM71.05,784.30L71.73,786.07L73.62,786.17L72.14,787.36L72.64,789.18L71.05,788.15L69.46,789.18L69.96,787.36L68.48,786.17L70.37,786.07Z" fill="#1a1a1a" stroke="#1a1a1a" stroke-width="0.5" stroke-linejoin="round"/>
<path d="M84.25,784.30L84.93,786.07L86.82,786.17L85.34,787.36L85.84,789.18L84.25,788.15L82.66,789.18L83.16,787.36L81.68,786.17L83.57,786.07ZM89.35,784.30L90.03,786.07L91.92,786.17L90.44,787.36L90.94,789.18L89.35,788.15L87.76,789.18L88.26,787.36L86.78,786.17L88.67,786.07ZM94.45,784.30L95.13,786.07L97.02,786.17L95.54,787.36L96.04,789.18L94.45,788.15L92.86,789.18L93.36,787.36L91.88,786.17L93.77,786.07Z" fill="#1a1a1a" stroke="#1a1a1a" stroke-width="0.5" stroke-linejoin="round"/>
<circle cx="77.7" cy="815.4" r="2.0" fill="#ff0000"/>
<circle cx="73.5" cy="822.1" r="2.0" fill="#ff0000"/>
<circle cx="81.7" cy="823.8" r="2.0" fill="#ff0000"/>
<circle cx="77.7" cy="833.2" r="2.0" fill="#ff0000"/>
<path d="M70.0,823.0H84.6" stroke="#ff0000" stroke-width="1.1"/>
<circle cx="50.4" cy="851.7" r="2.0" fill="#000000"/>
<circle cx="57.2" cy="851.3" r="2.0" fill="#000000"/>
<circle cx="50.4" cy="856.0" r="2.0" fill="#000000"/>
<circle cx="57.2" cy="856.0" r="2.0" fill="#000000"/>
<path d="M46.1,854.2H61.5" stroke="#000000" stroke-width="1.1"/>
<circle cx="101.6" cy="850.8" r="2.0" fill="#0000ff"/>
<circle cx="97.4" cy="854.2" r="2.0" fill="#0000ff"/>
<circle cx="105.1" cy="853.7" r="2.0" fill="#0000ff"/>
<path d="M93.1,853.4H108.5" stroke="#0000ff" stroke-width="1.1"/>
<rect x="186.6" y="726.6" width="29.9" height="15.2" fill="#ffff00"/>
<text transform="translate(186.9,739.6) scale(0.92,1)" font-size="15.57" text-anchor="start" fill="#000">Liver</text>
<text transform="translate(178.7,757.1) scale(0.92,1)" font-size="16.68" text-anchor="start" fill="#000">T cell</text>
<path d="M161.5,771.5V859.5H238.7" stroke="#2a2a2a" stroke-width="1.3" fill="none"/>
<path d="M156.3,859.5H161.5" stroke="#2a2a2a" stroke-width="1.3"/>
<text transform="translate(154.0,864.5) scale(0.92,1)" font-size="16.68" text-anchor="end" fill="#000">0</text>
<path d="M156.3,841.5H161.5" stroke="#2a2a2a" stroke-width="1.3"/>
<text transform="translate(154.0,846.9) scale(0.92,1)" font-size="16.68" text-anchor="end" fill="#000">2</text>
<path d="M156.3,824.5H161.5" stroke="#2a2a2a" stroke-width="1.3"/>
<text transform="translate(154.0,829.3) scale(0.92,1)" font-size="16.68" text-anchor="end" fill="#000">4</text>
<path d="M156.3,806.5H161.5" stroke="#2a2a2a" stroke-width="1.3"/>
<text transform="translate(154.0,811.7) scale(0.92,1)" font-size="16.68" text-anchor="end" fill="#000">6</text>
<path d="M156.3,788.5H161.5" stroke="#2a2a2a" stroke-width="1.3"/>
<text transform="translate(154.0,794.1) scale(0.92,1)" font-size="16.68" text-anchor="end" fill="#000">8</text>
<path d="M156.3,771.5H161.5" stroke="#2a2a2a" stroke-width="1.3"/>
<text transform="translate(154.0,776.5) scale(0.92,1)" font-size="16.68" text-anchor="end" fill="#000">10</text>
<path d="M177.5,859.5V863.5" stroke="#2a2a2a" stroke-width="1.3"/>
<path d="M200.5,859.5V863.5" stroke="#2a2a2a" stroke-width="1.3"/>
<path d="M223.5,859.5V863.5" stroke="#2a2a2a" stroke-width="1.3"/>
<text transform="translate(135.0,812.0) rotate(-90) scale(0.91,1)" x="0" y="0" font-size="16.68" text-anchor="middle">Cell number (×10<tspan font-size="10.0" dy="-5.0">7</tspan><tspan dy="5.0">)</tspan></text>
<path d="M175.5,837.5V791.5H198.5V796.5M201.5,796.5V791.5H225.5V837.5" stroke="#222" stroke-width="1.3" fill="none"/>
<path d="M177.85,784.60L178.53,786.37L180.42,786.47L178.94,787.66L179.44,789.48L177.85,788.45L176.26,789.48L176.76,787.66L175.28,786.47L177.17,786.37ZM183.35,784.60L184.03,786.37L185.92,786.47L184.44,787.66L184.94,789.48L183.35,788.45L181.76,789.48L182.26,787.66L180.78,786.47L182.67,786.37ZM188.85,784.60L189.53,786.37L191.42,786.47L189.94,787.66L190.44,789.48L188.85,788.45L187.26,789.48L187.76,787.66L186.28,786.47L188.17,786.37ZM194.35,784.60L195.03,786.37L196.92,786.47L195.44,787.66L195.94,789.48L194.35,788.45L192.76,789.48L193.26,787.66L191.78,786.47L193.67,786.37Z" fill="#1a1a1a" stroke="#1a1a1a" stroke-width="0.5" stroke-linejoin="round"/>
<path d="M206.05,784.60L206.73,786.37L208.62,786.47L207.14,787.66L207.64,789.48L206.05,788.45L204.46,789.48L204.96,787.66L203.48,786.47L205.37,786.37ZM211.55,784.60L212.23,786.37L214.12,786.47L212.64,787.66L213.14,789.48L211.55,788.45L209.96,789.48L210.46,787.66L208.98,786.47L210.87,786.37ZM217.05,784.60L217.73,786.37L219.62,786.47L218.14,787.66L218.64,789.48L217.05,788.45L215.46,789.48L215.96,787.66L214.48,786.47L216.37,786.37ZM222.55,784.60L223.23,786.37L225.12,786.47L223.64,787.66L224.14,789.48L222.55,788.45L220.96,789.48L221.46,787.66L219.98,786.47L221.87,786.37Z" fill="#1a1a1a" stroke="#1a1a1a" stroke-width="0.5" stroke-linejoin="round"/>
<circle cx="200.3" cy="812.0" r="2.0" fill="#ff0000"/>
<circle cx="200.3" cy="818.7" r="2.0" fill="#ff0000"/>
<circle cx="196.9" cy="827.7" r="2.0" fill="#ff0000"/>
<circle cx="204.0" cy="826.9" r="2.0" fill="#ff0000"/>
<path d="M193.1,822.6H208.0" stroke="#ff0000" stroke-width="1.1"/>
<circle cx="172.4" cy="857.6" r="2.0" fill="#000000"/>
<circle cx="175.6" cy="857.6" r="2.0" fill="#000000"/>
<circle cx="178.9" cy="857.6" r="2.0" fill="#000000"/>
<circle cx="182.1" cy="857.6" r="2.0" fill="#000000"/>
<circle cx="218.5" cy="857.1" r="2.0" fill="#0000ff"/>
<circle cx="222.0" cy="857.1" r="2.0" fill="#0000ff"/>
<circle cx="225.5" cy="857.1" r="2.0" fill="#0000ff"/>
<circle cx="229.0" cy="857.1" r="2.0" fill="#0000ff"/>
<text transform="translate(300.9,758.5) scale(0.92,1)" font-size="16.68" text-anchor="start" fill="#000">B cell</text>
<path d="M284.5,770.5V857.5H361.4" stroke="#2a2a2a" stroke-width="1.3" fill="none"/>
<path d="M279.1,857.5H284.5" stroke="#2a2a2a" stroke-width="1.3"/>
<text transform="translate(276.8,863.1) scale(0.92,1)" font-size="16.68" text-anchor="end" fill="#000">0</text>
<path d="M279.1,840.5H284.5" stroke="#2a2a2a" stroke-width="1.3"/>
<text transform="translate(276.8,845.6) scale(0.92,1)" font-size="16.68" text-anchor="end" fill="#000">2</text>
<path d="M279.1,822.5H284.5" stroke="#2a2a2a" stroke-width="1.3"/>
<text transform="translate(276.8,828.0) scale(0.92,1)" font-size="16.68" text-anchor="end" fill="#000">4</text>
<path d="M279.1,805.5H284.5" stroke="#2a2a2a" stroke-width="1.3"/>
<text transform="translate(276.8,810.5) scale(0.92,1)" font-size="16.68" text-anchor="end" fill="#000">6</text>
<path d="M279.1,787.5H284.5" stroke="#2a2a2a" stroke-width="1.3"/>
<text transform="translate(276.8,792.9) scale(0.92,1)" font-size="16.68" text-anchor="end" fill="#000">8</text>
<path d="M279.1,770.5H284.5" stroke="#2a2a2a" stroke-width="1.3"/>
<text transform="translate(276.8,775.4) scale(0.92,1)" font-size="16.68" text-anchor="end" fill="#000">10</text>
<path d="M299.5,857.5V861.5" stroke="#2a2a2a" stroke-width="1.3"/>
<path d="M322.5,857.5V861.5" stroke="#2a2a2a" stroke-width="1.3"/>
<path d="M346.5,857.5V861.5" stroke="#2a2a2a" stroke-width="1.3"/>
<text transform="translate(259.1,813.0) rotate(-90) scale(0.91,1)" x="0" y="0" font-size="16.68" text-anchor="middle">Cell number (×10<tspan font-size="10.0" dy="-5.0">7</tspan><tspan dy="5.0">)</tspan></text>
<path d="M297.5,816.2V770.5H347.5V816.2" stroke="#222" stroke-width="1.3" fill="none"/>
<path d="M322.8,770.5V775.5" stroke="#222" stroke-width="2.2"/>
<path d="M299.80,764.00L300.48,765.77L302.37,765.87L300.89,767.06L301.39,768.88L299.80,767.85L298.21,768.88L298.71,767.06L297.23,765.87L299.12,765.77ZM305.30,764.00L305.98,765.77L307.87,765.87L306.39,767.06L306.89,768.88L305.30,767.85L303.71,768.88L304.21,767.06L302.73,765.87L304.62,765.77ZM310.80,764.00L311.48,765.77L313.37,765.87L311.89,767.06L312.39,768.88L310.80,767.85L309.21,768.88L309.71,767.06L308.23,765.87L310.12,765.77ZM316.30,764.00L316.98,765.77L318.87,765.87L317.39,767.06L317.89,768.88L316.30,767.85L314.71,768.88L315.21,767.06L313.73,765.87L315.62,765.77Z" fill="#1a1a1a" stroke="#1a1a1a" stroke-width="0.5" stroke-linejoin="round"/>
<path d="M327.71,764.00L328.39,765.77L330.28,765.87L328.81,767.06L329.30,768.88L327.71,767.85L326.13,768.88L326.62,767.06L325.14,765.87L327.04,765.77ZM333.14,764.00L333.81,765.77L335.71,765.87L334.23,767.06L334.72,768.88L333.14,767.85L331.55,768.88L332.04,767.06L330.57,765.87L332.46,765.77ZM338.56,764.00L339.24,765.77L341.13,765.87L339.66,767.06L340.15,768.88L338.56,767.85L336.98,768.88L337.47,767.06L335.99,765.87L337.89,765.77ZM343.99,764.00L344.66,765.77L346.56,765.87L345.08,767.06L345.57,768.88L343.99,767.85L342.40,768.88L342.89,767.06L341.42,765.87L343.31,765.77Z" fill="#1a1a1a" stroke="#1a1a1a" stroke-width="0.5" stroke-linejoin="round"/>
<circle cx="322.8" cy="780.7" r="2.0" fill="#ff0000"/>
<circle cx="322.8" cy="792.8" r="2.0" fill="#ff0000"/>
<circle cx="322.8" cy="799.6" r="2.0" fill="#ff0000"/>
<circle cx="322.8" cy="806.4" r="2.0" fill="#ff0000"/>
<path d="M315.4,796.0H330.7" stroke="#ff0000" stroke-width="1.1"/>
<circle cx="294.4" cy="851.5" r="2.0" fill="#000000"/>
<circle cx="298.0" cy="851.5" r="2.0" fill="#000000"/>
<circle cx="301.5" cy="851.5" r="2.0" fill="#000000"/>
<circle cx="305.1" cy="851.5" r="2.0" fill="#000000"/>
<circle cx="341.0" cy="849.3" r="2.0" fill="#0000ff"/>
<circle cx="344.6" cy="849.3" r="2.0" fill="#0000ff"/>
<circle cx="348.1" cy="849.3" r="2.0" fill="#0000ff"/>
<circle cx="351.7" cy="849.3" r="2.0" fill="#0000ff"/>
<circle cx="345.0" cy="848.3" r="2.0" fill="#0000ff"/>
<circle cx="104.5" cy="886.6" r="5.3" fill="#000000"/>
<text transform="translate(110.4,892.5) scale(0.92,1)" font-size="16.68" text-anchor="start" fill="#000">WT</text>
<circle cx="151.8" cy="886.6" r="5.3" fill="#ff0000"/>
<text transform="translate(158.9,892.5) scale(0.92,1)" font-size="16.68" text-anchor="start" fill="#000" font-style="italic">Rt2-/-</text>
<circle cx="218.8" cy="886.6" r="5.3" fill="#0000ff"/>
<text transform="translate(226.7,892.5) scale(0.92,1)" font-size="16.68" text-anchor="start" fill="#000" font-style="italic">Rt2-/- T13-/-</text>
<text transform="translate(2.3,918.4) scale(0.92,1)" font-size="16.68" text-anchor="start" fill="#000">I</text>
<rect x="13.7" y="907.9" width="46.2" height="18.5" fill="#ffff00"/>
<text transform="translate(13.8,922.6) scale(0.92,1)" font-size="16.45" text-anchor="start" fill="#000">Spleen</text>
<text transform="translate(63.0,922.6) scale(0.92,1)" font-size="16.68" text-anchor="start" fill="#000">CD11b<tspan font-size="9" dy="-5">+</tspan><tspan dy="5"> macrophage</tspan></text>
<path d="M46.5,942.5V1058.5H168.2" stroke="#2a2a2a" stroke-width="1.3" fill="none"/>
<path d="M41.8,1058.5H46.5" stroke="#2a2a2a" stroke-width="1.3"/>
<text transform="translate(39.5,1063.2) scale(0.92,1)" font-size="16.68" text-anchor="end" fill="#000">0</text>
<path d="M41.8,1029.5H46.5" stroke="#2a2a2a" stroke-width="1.3"/>
<text transform="translate(39.5,1034.3) scale(0.92,1)" font-size="16.68" text-anchor="end" fill="#000">1</text>
<path d="M41.8,1000.5H46.5" stroke="#2a2a2a" stroke-width="1.3"/>
<text transform="translate(39.5,1005.4) scale(0.92,1)" font-size="16.68" text-anchor="end" fill="#000">2</text>
<path d="M41.8,971.5H46.5" stroke="#2a2a2a" stroke-width="1.3"/>
<text transform="translate(39.5,976.5) scale(0.92,1)" font-size="16.68" text-anchor="end" fill="#000">3</text>
<path d="M41.8,942.5H46.5" stroke="#2a2a2a" stroke-width="1.3"/>
<text transform="translate(39.5,947.6) scale(0.92,1)" font-size="16.68" text-anchor="end" fill="#000">4</text>
<path d="M75.5,1058.5V1062.5" stroke="#2a2a2a" stroke-width="1.3"/>
<path d="M139.5,1058.5V1062.5" stroke="#2a2a2a" stroke-width="1.3"/>
<text transform="translate(14.1,1003.5) rotate(-90) scale(0.91,1)" x="0" y="0" font-size="16.68" text-anchor="middle">Cell number (×10<tspan font-size="10.0" dy="-5.0">7</tspan><tspan dy="5.0">)</tspan></text>
<text transform="translate(49.2,1077.1) scale(0.92,1)" font-size="16.68" text-anchor="start" fill="#000">Ly6C hi</text>
<text transform="translate(112.3,1077.1) scale(0.92,1)" font-size="16.68" text-anchor="start" fill="#000">Ly6C low</text>
<path d="M57.5,1023.8V987.5H74.5V991.0M77.5,991.0V987.5H92.5V1023.8" stroke="#222" stroke-width="1.3" fill="none"/>
<path d="M54.15,981.30L54.83,983.07L56.72,983.17L55.24,984.36L55.74,986.18L54.15,985.15L52.56,986.18L53.06,984.36L51.58,983.17L53.47,983.07ZM59.65,981.30L60.33,983.07L62.22,983.17L60.74,984.36L61.24,986.18L59.65,985.15L58.06,986.18L58.56,984.36L57.08,983.17L58.97,983.07ZM65.15,981.30L65.83,983.07L67.72,983.17L66.24,984.36L66.74,986.18L65.15,985.15L63.56,986.18L64.06,984.36L62.58,983.17L64.47,983.07ZM70.65,981.30L71.33,983.07L73.22,983.17L71.74,984.36L72.24,986.18L70.65,985.15L69.06,986.18L69.56,984.36L68.08,983.17L69.97,983.07Z" fill="#1a1a1a" stroke="#1a1a1a" stroke-width="0.5" stroke-linejoin="round"/>
<path d="M78.50,981.30L79.18,983.07L81.07,983.17L79.59,984.36L80.09,986.18L78.50,985.15L76.91,986.18L77.41,984.36L75.93,983.17L77.82,983.07ZM84.00,981.30L84.68,983.07L86.57,983.17L85.09,984.36L85.59,986.18L84.00,985.15L82.41,986.18L82.91,984.36L81.43,983.17L83.32,983.07ZM89.50,981.30L90.18,983.07L92.07,983.17L90.59,984.36L91.09,986.18L89.50,985.15L87.91,986.18L88.41,984.36L86.93,983.17L88.82,983.07ZM95.00,981.30L95.68,983.07L97.57,983.17L96.09,984.36L96.59,986.18L95.00,985.15L93.41,986.18L93.91,984.36L92.43,983.17L94.32,983.07Z" fill="#1a1a1a" stroke="#1a1a1a" stroke-width="0.5" stroke-linejoin="round"/>
<path d="M121.5,989.6V954.5H137.5V958.0M140.5,958.0V954.5H156.5V989.6" stroke="#222" stroke-width="1.3" fill="none"/>
<path d="M117.25,947.90L117.93,949.67L119.82,949.77L118.34,950.96L118.84,952.78L117.25,951.75L115.66,952.78L116.16,950.96L114.68,949.77L116.57,949.67ZM122.75,947.90L123.43,949.67L125.32,949.77L123.84,950.96L124.34,952.78L122.75,951.75L121.16,952.78L121.66,950.96L120.18,949.77L122.07,949.67ZM128.25,947.90L128.93,949.67L130.82,949.77L129.34,950.96L129.84,952.78L128.25,951.75L126.66,952.78L127.16,950.96L125.68,949.77L127.57,949.67ZM133.75,947.90L134.43,949.67L136.32,949.77L134.84,950.96L135.34,952.78L133.75,951.75L132.16,952.78L132.66,950.96L131.18,949.77L133.07,949.67Z" fill="#1a1a1a" stroke="#1a1a1a" stroke-width="0.5" stroke-linejoin="round"/>
<path d="M143.32,947.90L144.00,949.67L145.89,949.77L144.42,950.96L144.91,952.78L143.32,951.75L141.74,952.78L142.23,950.96L140.76,949.77L142.65,949.67ZM148.78,947.90L149.45,949.67L151.34,949.77L149.87,950.96L150.36,952.78L148.78,951.75L147.19,952.78L147.68,950.96L146.21,949.77L148.10,949.67ZM154.22,947.90L154.90,949.67L156.79,949.77L155.32,950.96L155.81,952.78L154.22,951.75L152.64,952.78L153.13,950.96L151.66,949.77L153.55,949.67ZM159.68,947.90L160.35,949.67L162.24,949.77L160.77,950.96L161.26,952.78L159.68,951.75L158.09,952.78L158.58,950.96L157.11,949.77L159.00,949.67Z" fill="#1a1a1a" stroke="#1a1a1a" stroke-width="0.5" stroke-linejoin="round"/>
<circle cx="75.7" cy="1002.2" r="2.0" fill="#ff0000"/>
<circle cx="75.7" cy="1020.6" r="2.0" fill="#ff0000"/>
<circle cx="71.5" cy="1031.7" r="2.0" fill="#ff0000"/>
<circle cx="79.4" cy="1029.0" r="2.0" fill="#ff0000"/>
<path d="M68.9,1024.6H82.0" stroke="#ff0000" stroke-width="1.1"/>
<circle cx="139.3" cy="967.3" r="2.0" fill="#ff0000"/>
<circle cx="135.9" cy="979.6" r="2.0" fill="#ff0000"/>
<circle cx="143.2" cy="982.5" r="2.0" fill="#ff0000"/>
<circle cx="139.3" cy="999.3" r="2.0" fill="#ff0000"/>
<path d="M133.5,981.2H144.5" stroke="#ff0000" stroke-width="1.1"/>
<circle cx="89.4" cy="1049.3" r="2.0" fill="#0000ff"/>
<circle cx="89.4" cy="1054.0" r="2.0" fill="#0000ff"/>
<circle cx="96.7" cy="1053.5" r="2.0" fill="#0000ff"/>
<circle cx="93.0" cy="1054.0" r="2.0" fill="#0000ff"/>
<path d="M87.3,1053.2H98.6" stroke="#0000ff" stroke-width="1.1"/>
<circle cx="157.2" cy="1032.2" r="2.0" fill="#0000ff"/>
<circle cx="153.2" cy="1044.8" r="2.0" fill="#0000ff"/>
<circle cx="160.3" cy="1046.9" r="2.0" fill="#0000ff"/>
<circle cx="157.2" cy="1054.0" r="2.0" fill="#0000ff"/>
<path d="M151.1,1045.6H161.6" stroke="#0000ff" stroke-width="1.1"/>
<circle cx="54.6" cy="1058.0" r="2.0" fill="#000000"/>
<circle cx="56.8" cy="1058.0" r="2.0" fill="#000000"/>
<circle cx="58.9" cy="1058.0" r="2.0" fill="#000000"/>
<circle cx="61.1" cy="1058.0" r="2.0" fill="#000000"/>
<circle cx="119.0" cy="1058.0" r="2.0" fill="#000000"/>
<circle cx="121.2" cy="1058.0" r="2.0" fill="#000000"/>
<circle cx="123.3" cy="1058.0" r="2.0" fill="#000000"/>
<circle cx="125.5" cy="1058.0" r="2.0" fill="#000000"/>
<rect x="284.9" y="910.5" width="32.0" height="16.9" fill="#ffff00"/>
<text transform="translate(285.9,924.1) scale(0.92,1)" font-size="16.12" text-anchor="start" fill="#000">Liver</text>
<text transform="translate(321.0,924.1) scale(0.92,1)" font-size="16.68" text-anchor="start" fill="#000">macrophage</text>
<path d="M258.5,939.5V1058.5H437.5" stroke="#2a2a2a" stroke-width="1.3" fill="none"/>
<path d="M253.0,1058.5H258.5" stroke="#2a2a2a" stroke-width="1.3"/>
<text transform="translate(250.7,1063.2) scale(0.92,1)" font-size="16.68" text-anchor="end" fill="#000">0</text>
<path d="M253.0,1018.5H258.5" stroke="#2a2a2a" stroke-width="1.3"/>
<text transform="translate(250.7,1023.8) scale(0.92,1)" font-size="16.68" text-anchor="end" fill="#000">5</text>
<path d="M253.0,979.5H258.5" stroke="#2a2a2a" stroke-width="1.3"/>
<text transform="translate(250.7,984.5) scale(0.92,1)" font-size="16.68" text-anchor="end" fill="#000">10</text>
<path d="M253.0,939.5H258.5" stroke="#2a2a2a" stroke-width="1.3"/>
<text transform="translate(250.7,945.1) scale(0.92,1)" font-size="16.68" text-anchor="end" fill="#000">15</text>
<path d="M286.5,1058.5V1062.5" stroke="#2a2a2a" stroke-width="1.3"/>
<path d="M343.5,1058.5V1062.5" stroke="#2a2a2a" stroke-width="1.3"/>
<path d="M405.5,1058.5V1062.5" stroke="#2a2a2a" stroke-width="1.3"/>
<text transform="translate(228.4,993.3) rotate(-90) scale(0.91,1)" x="0" y="0" font-size="16.68" text-anchor="middle">Cell number (×10<tspan font-size="10.0" dy="-5.0">7</tspan><tspan dy="5.0">)</tspan></text>
<text transform="translate(275.7,1076.1) scale(0.92,1)" font-size="16.68" text-anchor="start" fill="#000">KC</text>
<text transform="translate(316.2,1076.1) scale(0.92,1)" font-size="16.68" text-anchor="start" fill="#000">Ly6C hi</text>
<text transform="translate(375.0,1076.1) scale(0.92,1)" font-size="16.68" text-anchor="start" fill="#000">Ly6C low</text>
<path d="M267.5,1021.9V987.5H284.5V991.0M287.5,991.0V987.5H302.5V1021.9" stroke="#222" stroke-width="1.3" fill="none"/>
<path d="M263.75,980.10L264.43,981.87L266.32,981.97L264.84,983.16L265.34,984.98L263.75,983.95L262.16,984.98L262.66,983.16L261.18,981.97L263.07,981.87ZM269.25,980.10L269.93,981.87L271.82,981.97L270.34,983.16L270.84,984.98L269.25,983.95L267.66,984.98L268.16,983.16L266.68,981.97L268.57,981.87ZM274.75,980.10L275.43,981.87L277.32,981.97L275.84,983.16L276.34,984.98L274.75,983.95L273.16,984.98L273.66,983.16L272.18,981.97L274.07,981.87ZM280.25,980.10L280.93,981.87L282.82,981.97L281.34,983.16L281.84,984.98L280.25,983.95L278.66,984.98L279.16,983.16L277.68,981.97L279.57,981.87Z" fill="#1a1a1a" stroke="#1a1a1a" stroke-width="0.5" stroke-linejoin="round"/>
<path d="M288.75,980.10L289.43,981.87L291.32,981.97L289.84,983.16L290.34,984.98L288.75,983.95L287.16,984.98L287.66,983.16L286.18,981.97L288.07,981.87ZM294.25,980.10L294.93,981.87L296.82,981.97L295.34,983.16L295.84,984.98L294.25,983.95L292.66,984.98L293.16,983.16L291.68,981.97L293.57,981.87ZM299.75,980.10L300.43,981.87L302.32,981.97L300.84,983.16L301.34,984.98L299.75,983.95L298.16,984.98L298.66,983.16L297.18,981.97L299.07,981.87ZM305.25,980.10L305.93,981.87L307.82,981.97L306.34,983.16L306.84,984.98L305.25,983.95L303.66,984.98L304.16,983.16L302.68,981.97L304.57,981.87Z" fill="#1a1a1a" stroke="#1a1a1a" stroke-width="0.5" stroke-linejoin="round"/>
<path d="M326.5,1021.9V987.5H342.5V991.0M345.5,991.0V987.5H361.5V1021.9" stroke="#222" stroke-width="1.3" fill="none"/>
<path d="M322.60,980.10L323.28,981.87L325.17,981.97L323.69,983.16L324.19,984.98L322.60,983.95L321.01,984.98L321.51,983.16L320.03,981.97L321.92,981.87ZM328.10,980.10L328.78,981.87L330.67,981.97L329.19,983.16L329.69,984.98L328.10,983.95L326.51,984.98L327.01,983.16L325.53,981.97L327.42,981.87ZM333.60,980.10L334.28,981.87L336.17,981.97L334.69,983.16L335.19,984.98L333.60,983.95L332.01,984.98L332.51,983.16L331.03,981.97L332.92,981.87ZM339.10,980.10L339.78,981.87L341.67,981.97L340.19,983.16L340.69,984.98L339.10,983.95L337.51,984.98L338.01,983.16L336.53,981.97L338.42,981.87Z" fill="#1a1a1a" stroke="#1a1a1a" stroke-width="0.5" stroke-linejoin="round"/>
<path d="M347.60,980.10L348.28,981.87L350.17,981.97L348.69,983.16L349.19,984.98L347.60,983.95L346.01,984.98L346.51,983.16L345.03,981.97L346.92,981.87ZM353.10,980.10L353.78,981.87L355.67,981.97L354.19,983.16L354.69,984.98L353.10,983.95L351.51,984.98L352.01,983.16L350.53,981.97L352.42,981.87ZM358.60,980.10L359.28,981.87L361.17,981.97L359.69,983.16L360.19,984.98L358.60,983.95L357.01,984.98L357.51,983.16L356.03,981.97L357.92,981.87ZM364.10,980.10L364.78,981.87L366.67,981.97L365.19,983.16L365.69,984.98L364.10,983.95L362.51,984.98L363.01,983.16L361.53,981.97L363.42,981.87Z" fill="#1a1a1a" stroke="#1a1a1a" stroke-width="0.5" stroke-linejoin="round"/>
<path d="M386.5,977.8V942.5H403.5V946.0M406.5,946.0V942.5H421.5V977.8" stroke="#222" stroke-width="1.3" fill="none"/>
<path d="M382.20,935.90L382.88,937.67L384.77,937.77L383.29,938.96L383.79,940.78L382.20,939.75L380.61,940.78L381.11,938.96L379.63,937.77L381.52,937.67ZM387.70,935.90L388.38,937.67L390.27,937.77L388.79,938.96L389.29,940.78L387.70,939.75L386.11,940.78L386.61,938.96L385.13,937.77L387.02,937.67ZM393.20,935.90L393.88,937.67L395.77,937.77L394.29,938.96L394.79,940.78L393.20,939.75L391.61,940.78L392.11,938.96L390.63,937.77L392.52,937.67ZM398.70,935.90L399.38,937.67L401.27,937.77L399.79,938.96L400.29,940.78L398.70,939.75L397.11,940.78L397.61,938.96L396.13,937.77L398.02,937.67Z" fill="#1a1a1a" stroke="#1a1a1a" stroke-width="0.5" stroke-linejoin="round"/>
<path d="M409.45,935.90L410.13,937.67L412.02,937.77L410.54,938.96L411.04,940.78L409.45,939.75L407.86,940.78L408.36,938.96L406.88,937.77L408.77,937.67ZM414.95,935.90L415.63,937.67L417.52,937.77L416.04,938.96L416.54,940.78L414.95,939.75L413.36,940.78L413.86,938.96L412.38,937.77L414.27,937.67ZM420.45,935.90L421.13,937.67L423.02,937.77L421.54,938.96L422.04,940.78L420.45,939.75L418.86,940.78L419.36,938.96L417.88,937.77L419.77,937.67ZM425.95,935.90L426.63,937.67L428.52,937.77L427.04,938.96L427.54,940.78L425.95,939.75L424.36,940.78L424.86,938.96L423.38,937.77L425.27,937.67Z" fill="#1a1a1a" stroke="#1a1a1a" stroke-width="0.5" stroke-linejoin="round"/>
<circle cx="286.0" cy="1047.7" r="2.0" fill="#ff0000"/>
<circle cx="282.3" cy="1054.0" r="2.0" fill="#ff0000"/>
<circle cx="289.6" cy="1054.0" r="2.0" fill="#ff0000"/>
<circle cx="286.0" cy="1056.0" r="2.0" fill="#ff0000"/>
<path d="M279.3,1054.0H292.2" stroke="#ff0000" stroke-width="1.1"/>
<circle cx="345.6" cy="1025.6" r="2.0" fill="#ff0000"/>
<circle cx="341.9" cy="1041.4" r="2.0" fill="#ff0000"/>
<circle cx="349.2" cy="1042.2" r="2.0" fill="#ff0000"/>
<circle cx="345.6" cy="1050.3" r="2.0" fill="#ff0000"/>
<path d="M340.0,1041.4H351.1" stroke="#ff0000" stroke-width="1.1"/>
<circle cx="405.2" cy="975.2" r="2.0" fill="#ff0000"/>
<circle cx="405.2" cy="985.1" r="2.0" fill="#ff0000"/>
<circle cx="405.2" cy="993.6" r="2.0" fill="#ff0000"/>
<circle cx="405.2" cy="1021.9" r="2.0" fill="#ff0000"/>
<path d="M398.9,989.9H411.8" stroke="#ff0000" stroke-width="1.1"/>
<circle cx="265.9" cy="1057.0" r="2.0" fill="#000000"/>
<circle cx="268.2" cy="1057.0" r="2.0" fill="#000000"/>
<circle cx="270.6" cy="1057.0" r="2.0" fill="#000000"/>
<circle cx="272.9" cy="1057.0" r="2.0" fill="#000000"/>
<circle cx="326.2" cy="1057.0" r="2.0" fill="#000000"/>
<circle cx="329.0" cy="1057.0" r="2.0" fill="#000000"/>
<circle cx="331.8" cy="1057.0" r="2.0" fill="#000000"/>
<circle cx="386.2" cy="1057.0" r="2.0" fill="#000000"/>
<circle cx="388.8" cy="1057.0" r="2.0" fill="#000000"/>
<circle cx="391.4" cy="1057.0" r="2.0" fill="#000000"/>
<circle cx="299.0" cy="1056.0" r="2.0" fill="#0000ff"/>
<circle cx="301.9" cy="1056.0" r="2.0" fill="#0000ff"/>
<circle cx="304.9" cy="1056.0" r="2.0" fill="#0000ff"/>
<circle cx="358.6" cy="1056.0" r="2.0" fill="#0000ff"/>
<circle cx="361.2" cy="1056.0" r="2.0" fill="#0000ff"/>
<circle cx="363.8" cy="1056.0" r="2.0" fill="#0000ff"/>
<circle cx="419.3" cy="1054.5" r="2.0" fill="#0000ff"/>
<circle cx="421.9" cy="1054.5" r="2.0" fill="#0000ff"/>
<circle cx="424.5" cy="1054.5" r="2.0" fill="#0000ff"/>
<circle cx="452.2" cy="977.9" r="5.8" fill="#000"/>
<text transform="translate(459.2,983.5) scale(0.92,1)" font-size="16.68" text-anchor="start" fill="#000">WT</text>
<circle cx="503.5" cy="977.9" r="5.8" fill="#ff0000"/>
<text transform="translate(510.7,983.5) scale(0.92,1)" font-size="16.68" text-anchor="start" fill="#000" font-style="italic">Rt2-/-</text>
<circle cx="452.2" cy="994.7" r="5.8" fill="#0000ff"/>
<text transform="translate(459.8,1000.3) scale(0.92,1)" font-size="16.68" text-anchor="start" fill="#000" font-style="italic">Rt2-/-</text>
<text transform="translate(461.3,1019.3) scale(0.92,1)" font-size="16.68" text-anchor="start" fill="#000">w/antibiotics</text>
<text transform="translate(388.0,398.8) scale(0.92,1)" font-size="16.68" text-anchor="start" fill="#000">E</text>
<rect x="423.9" y="386.1" width="46.7" height="16.3" fill="#ffff00"/>
<text transform="translate(424.5,399.6) scale(0.92,1)" font-size="16.23" text-anchor="start" fill="#000">Spleen</text>
<text transform="translate(448.2,418.8) scale(0.92,1)" font-size="16.12" text-anchor="middle" fill="#000">WT</text>
<circle cx="446.3" cy="470.6" r="49.8" fill="#fff"/>
<path d="M446.3,470.6L446.30,420.80A49.8,49.8 0 1 1 428.55,517.13Z" fill="#000"/>
<path d="M446.3,470.6L428.55,517.13A49.8,49.8 0 0 1 402.81,446.33Z" fill="#9e9ea4"/>
<path d="M446.3,470.6L402.81,446.33A49.8,49.8 0 0 1 404.42,443.65Z" fill="#ffff00"/>
<path d="M446.3,470.6L404.42,443.65A49.8,49.8 0 0 1 405.65,441.84Z" fill="#00ff00"/>
<path d="M446.3,470.6L405.65,441.84A49.8,49.8 0 0 1 406.20,441.08Z" fill="#8a1aff"/>
<path d="M446.3,470.6L406.20,441.08A49.8,49.8 0 0 1 410.87,435.61Z" fill="#7a3c00"/>
<path d="M446.3,470.6L410.87,435.61A49.8,49.8 0 0 1 415.29,431.64Z" fill="#ff8000"/>
<path d="M446.3,470.6L415.29,431.64A49.8,49.8 0 0 1 415.53,431.44Z" fill="#0000ff"/>
<path d="M446.3,470.6L415.53,431.44A49.8,49.8 0 0 1 416.52,430.68Z" fill="#ff0000"/>
<circle cx="446.3" cy="470.6" r="49.8" fill="none" stroke="#111" stroke-width="1.1"/>
<text transform="translate(449.0,539.4) scale(0.92,1)" font-size="16.12" text-anchor="middle" fill="#000" font-style="italic">Rt2-/-</text>
<circle cx="446.5" cy="593.0" r="50.0" fill="#fff"/>
<path d="M446.5,593.0L446.50,543.00A50.0,50.0 0 0 1 453.39,642.52Z" fill="#000"/>
<path d="M446.5,593.0L453.39,642.52A50.0,50.0 0 0 1 408.58,625.59Z" fill="#9e9ea4"/>
<path d="M446.5,593.0L408.58,625.59A50.0,50.0 0 0 1 406.80,623.40Z" fill="#ffff00"/>
<path d="M446.5,593.0L406.80,623.40A50.0,50.0 0 0 1 405.50,621.62Z" fill="#00ff00"/>
<path d="M446.5,593.0L405.50,621.62A50.0,50.0 0 0 1 403.79,618.99Z" fill="#8a1aff"/>
<path d="M446.5,593.0L403.79,618.99A50.0,50.0 0 0 1 402.99,617.64Z" fill="#7a3c00"/>
<path d="M446.5,593.0L402.99,617.64A50.0,50.0 0 0 1 398.76,607.85Z" fill="#ff8000"/>
<path d="M446.5,593.0L398.76,607.85A50.0,50.0 0 0 1 398.40,606.65Z" fill="#0000ff"/>
<path d="M446.5,593.0L398.40,606.65A50.0,50.0 0 0 1 396.67,588.92Z" fill="#ff0000"/>
<circle cx="446.5" cy="593.0" r="50.0" fill="none" stroke="#111" stroke-width="1.1"/>
<rect x="506.9" y="447.1" width="97.9" height="21.9" fill="#000000"/>
<text x="508.1" y="465.9" font-size="14.99" text-anchor="start" fill="#fff">B cell</text>
<text x="677.5" y="466.1" font-size="14.3" text-anchor="end" fill="#000">55.8<tspan fill="#808080" dx="2.4" font-size="14.5" dy="-1.4">±</tspan><tspan dx="1.8" dy="1.4">2.4</tspan></text>
<text x="754.1" y="466.1" font-size="14.3" text-anchor="end" fill="#000">47.8<tspan fill="#808080" dx="2.4" font-size="14.5" dy="-1.4">±</tspan><tspan dx="1.8" dy="1.4">8.8</tspan></text>
<rect x="506.9" y="469.1" width="97.9" height="21.9" fill="#808080"/>
<text x="508.1" y="487.8" font-size="14.99" text-anchor="start" fill="#000">T cell</text>
<text x="677.5" y="488.0" font-size="14.3" text-anchor="end" fill="#000">27.3<tspan fill="#808080" dx="2.4" font-size="14.5" dy="-1.4">±</tspan><tspan dx="1.8" dy="1.4">4.4</tspan></text>
<text x="754.1" y="488.0" font-size="14.3" text-anchor="end" fill="#000">15.9<tspan fill="#808080" dx="2.4" font-size="14.5" dy="-1.4">±</tspan><tspan dx="1.8" dy="1.4">4.6</tspan></text>
<rect x="506.9" y="491.0" width="97.9" height="21.9" fill="#ffff00"/>
<text x="508.1" y="509.8" font-size="14.99" text-anchor="start" fill="#000">cDC</text>
<text x="677.5" y="510.0" font-size="14.3" text-anchor="end" fill="#000">1.0<tspan fill="#808080" dx="2.4" font-size="14.5" dy="-1.4">±</tspan><tspan dx="1.8" dy="1.4">0.1</tspan></text>
<text x="754.1" y="510.0" font-size="14.3" text-anchor="end" fill="#000">0.9<tspan fill="#808080" dx="2.4" font-size="14.5" dy="-1.4">±</tspan><tspan dx="1.8" dy="1.4">0.3</tspan></text>
<rect x="506.9" y="513.0" width="97.9" height="21.9" fill="#00ff00"/>
<text x="508.1" y="531.8" font-size="14.99" text-anchor="start" fill="#000">pDC</text>
<text x="677.5" y="532.0" font-size="14.3" text-anchor="end" fill="#000">0.7<tspan fill="#808080" dx="2.4" font-size="14.5" dy="-1.4">±</tspan><tspan dx="1.8" dy="1.4">0.1</tspan></text>
<text x="754.1" y="532.0" font-size="14.3" text-anchor="end" fill="#000">0.7<tspan fill="#808080" dx="2.4" font-size="14.5" dy="-1.4">±</tspan><tspan dx="1.8" dy="1.4">0.1</tspan></text>
<rect x="506.9" y="535.0" width="97.9" height="21.9" fill="#9933ff"/>
<text x="508.1" y="553.7" font-size="14.99" text-anchor="start" fill="#000">Neutro.</text>
<text x="677.5" y="553.9" font-size="14.3" text-anchor="end" fill="#ff0000">0.3<tspan fill="#ff6060" dx="2.4" font-size="14.5" dy="-1.4">±</tspan><tspan dx="1.8" dy="1.4">0.1</tspan></text>
<text x="754.1" y="553.9" font-size="14.3" text-anchor="end" fill="#ff0000">1.0<tspan fill="#ff6060" dx="2.4" font-size="14.5" dy="-1.4">±</tspan><tspan dx="1.8" dy="1.4">0.5</tspan></text>
<rect x="506.9" y="556.9" width="97.9" height="21.9" fill="#c00000"/>
<text x="508.1" y="575.6" font-size="14.99" text-anchor="start" fill="#000">NK</text>
<text x="677.5" y="575.9" font-size="14.3" text-anchor="end" fill="#000">2.3<tspan fill="#808080" dx="2.4" font-size="14.5" dy="-1.4">±</tspan><tspan dx="1.8" dy="1.4">0.3</tspan></text>
<text x="754.1" y="575.9" font-size="14.3" text-anchor="end" fill="#000">0.5<tspan fill="#808080" dx="2.4" font-size="14.5" dy="-1.4">±</tspan><tspan dx="1.8" dy="1.4">0.1</tspan></text>
<rect x="506.9" y="578.9" width="97.9" height="21.9" fill="#ff9000"/>
<text x="508.1" y="597.6" font-size="14.99" text-anchor="start" fill="#000">Redpulp</text>
<text x="677.5" y="597.8" font-size="14.3" text-anchor="end" fill="#ff0000">1.9<tspan fill="#ff6060" dx="2.4" font-size="14.5" dy="-1.4">±</tspan><tspan dx="1.8" dy="1.4">0.3</tspan></text>
<text x="754.1" y="597.8" font-size="14.3" text-anchor="end" fill="#ff0000">3.4<tspan fill="#ff6060" dx="2.4" font-size="14.5" dy="-1.4">±</tspan><tspan dx="1.8" dy="1.4">1.4</tspan></text>
<rect x="506.9" y="600.8" width="97.9" height="21.9" fill="#1a1aff"/>
<text x="508.1" y="619.5" font-size="14.99" text-anchor="start" fill="#000">Ly6Chi Mac.</text>
<text x="677.5" y="619.8" font-size="14.3" text-anchor="end" fill="#ff0000">0.1<tspan fill="#ff6060" dx="2.4" font-size="14.5" dy="-1.4">±</tspan><tspan dx="1.8" dy="1.4">0.1</tspan></text>
<text x="754.1" y="619.8" font-size="14.3" text-anchor="end" fill="#ff0000">0.4<tspan fill="#ff6060" dx="2.4" font-size="14.5" dy="-1.4">±</tspan><tspan dx="1.8" dy="1.4">0.1</tspan></text>
<rect x="506.9" y="622.8" width="97.9" height="21.9" fill="#ff0000"/>
<text x="508.1" y="641.5" font-size="14.99" text-anchor="start" fill="#000">Ly6Clow Mac.</text>
<text x="677.5" y="641.7" font-size="14.3" text-anchor="end" fill="#ff0000">0.4<tspan fill="#ff6060" dx="2.4" font-size="14.5" dy="-1.4">±</tspan><tspan dx="1.8" dy="1.4">0.1</tspan></text>
<text x="754.1" y="641.7" font-size="14.3" text-anchor="end" fill="#ff0000">6.6<tspan fill="#ff6060" dx="2.4" font-size="14.5" dy="-1.4">±</tspan><tspan dx="1.8" dy="1.4">1.0</tspan></text>
<text x="680.2" y="421.8" font-size="15.3" text-anchor="middle" fill="#000">% in CD45.2<tspan font-size="10" dy="-6">+</tspan></text>
<text x="507.9" y="443.9" font-size="15.3" text-anchor="start" fill="#000">mice</text>
<text x="642.1" y="443.9" font-size="15.3" text-anchor="middle" fill="#000">WT</text>
<text x="717.5" y="443.9" font-size="15.3" text-anchor="middle" fill="#000">Rt2-/-</text>
<path d="M506.9,402.3H755.6V644.7H506.9ZM506.9,425.2H755.6M506.9,447.1H755.6M506.9,469.1H755.6M506.9,491.0H755.6M506.9,513.0H755.6M506.9,535.0H755.6M506.9,556.9H755.6M506.9,578.9H755.6M506.9,600.8H755.6M506.9,622.8H755.6M604.8,402.3V644.7M679.5,425.2V644.7" stroke="#000" stroke-width="1.6" fill="none"/>
<text transform="translate(386.6,666.1) scale(0.92,1)" font-size="16.68" text-anchor="start" fill="#000">H</text>
<rect x="430.2" y="650.8" width="32.5" height="16.2" fill="#ffff00"/>
<text transform="translate(431.3,663.8) scale(0.92,1)" font-size="16.12" text-anchor="start" fill="#000">Liver</text>
<text transform="translate(445.8,682.9) scale(0.92,1)" font-size="16.12" text-anchor="middle" fill="#000">WT</text>
<circle cx="445.5" cy="734.0" r="50.0" fill="#fff"/>
<path d="M445.5,734.0L445.50,684.00A50.0,50.0 0 1 1 424.50,779.37Z" fill="#000"/>
<path d="M445.5,734.0L424.50,779.37A50.0,50.0 0 0 1 397.76,748.85Z" fill="#9e9ea4"/>
<path d="M445.5,734.0L397.76,748.85A50.0,50.0 0 0 1 396.92,745.82Z" fill="#ffff00"/>
<path d="M445.5,734.0L396.92,745.82A50.0,50.0 0 0 1 395.52,732.43Z" fill="#8a1aff"/>
<path d="M445.5,734.0L395.52,732.43A50.0,50.0 0 0 1 414.12,695.08Z" fill="#ff8000"/>
<path d="M445.5,734.0L414.12,695.08A50.0,50.0 0 0 1 420.32,690.80Z" fill="#0000ff"/>
<path d="M445.5,734.0L420.32,690.80A50.0,50.0 0 0 1 421.96,689.89Z" fill="#ff0000"/>
<circle cx="445.5" cy="734.0" r="50.0" fill="none" stroke="#111" stroke-width="1.1"/>
<text transform="translate(445.8,803.0) scale(0.92,1)" font-size="16.12" text-anchor="middle" fill="#000" font-style="italic">Rt2-/-</text>
<circle cx="445.3" cy="856.5" r="50.0" fill="#fff"/>
<path d="M445.3,856.5L445.30,806.50A50.0,50.0 0 0 1 495.29,857.44Z" fill="#000"/>
<path d="M445.3,856.5L495.29,857.44A50.0,50.0 0 0 1 471.02,899.38Z" fill="#9e9ea4"/>
<path d="M445.3,856.5L471.02,899.38A50.0,50.0 0 0 1 468.56,900.76Z" fill="#ffff00"/>
<path d="M445.3,856.5L468.56,900.76A50.0,50.0 0 0 1 464.87,902.51Z" fill="#8a1aff"/>
<path d="M445.3,856.5L464.87,902.51A50.0,50.0 0 0 1 455.90,905.36Z" fill="#ff8000"/>
<path d="M445.3,856.5L455.90,905.36A50.0,50.0 0 0 1 431.05,904.43Z" fill="#0000ff"/>
<path d="M445.3,856.5L431.05,904.43A50.0,50.0 0 0 1 395.44,852.73Z" fill="#ff0000"/>
<circle cx="445.3" cy="856.5" r="50.0" fill="none" stroke="#111" stroke-width="1.1"/>
<rect x="512.7" y="737.4" width="103.8" height="21.9" fill="#000000"/>
<text x="513.9" y="756.1" font-size="14.99" text-anchor="start" fill="#fff">B cell</text>
<text x="687.6" y="756.3" font-size="14.3" text-anchor="end" fill="#000">56.9<tspan fill="#808080" dx="2.4" font-size="14.5" dy="-1.4">±</tspan><tspan dx="1.8" dy="1.4">2.5</tspan></text>
<text x="757.4" y="756.3" font-size="14.3" text-anchor="end" fill="#000">24.3<tspan fill="#808080" dx="2.4" font-size="14.5" dy="-1.4">±</tspan><tspan dx="1.8" dy="1.4">4.2</tspan></text>
<rect x="512.7" y="759.3" width="103.8" height="21.9" fill="#808080"/>
<text x="513.9" y="778.0" font-size="14.99" text-anchor="start" fill="#000">T cell</text>
<text x="687.6" y="778.2" font-size="14.3" text-anchor="end" fill="#000">13.3<tspan fill="#808080" dx="2.4" font-size="14.5" dy="-1.4">±</tspan><tspan dx="1.8" dy="1.4">0.8</tspan></text>
<text x="757.4" y="778.2" font-size="14.3" text-anchor="end" fill="#000">14.4<tspan fill="#808080" dx="2.4" font-size="14.5" dy="-1.4">±</tspan><tspan dx="1.8" dy="1.4">2.8</tspan></text>
<rect x="512.7" y="781.2" width="103.8" height="21.9" fill="#ffff00"/>
<text x="513.9" y="799.9" font-size="14.99" text-anchor="start" fill="#000">cDC</text>
<text x="687.6" y="800.1" font-size="14.3" text-anchor="end" fill="#000">1.0<tspan fill="#808080" dx="2.4" font-size="14.5" dy="-1.4">±</tspan><tspan dx="1.8" dy="1.4">1.0</tspan></text>
<text x="757.4" y="800.1" font-size="14.3" text-anchor="end" fill="#000">1.0<tspan fill="#808080" dx="2.4" font-size="14.5" dy="-1.4">±</tspan><tspan dx="1.8" dy="1.4">0.6</tspan></text>
<rect x="512.7" y="803.1" width="103.8" height="21.9" fill="#9933ff"/>
<text x="513.9" y="821.8" font-size="14.99" text-anchor="start" fill="#000">Neutro.</text>
<text x="687.6" y="822.0" font-size="14.3" text-anchor="end" fill="#000">4.3<tspan fill="#808080" dx="2.4" font-size="14.5" dy="-1.4">±</tspan><tspan dx="1.8" dy="1.4">2.2</tspan></text>
<text x="757.4" y="822.0" font-size="14.3" text-anchor="end" fill="#000">1.4<tspan fill="#808080" dx="2.4" font-size="14.5" dy="-1.4">±</tspan><tspan dx="1.8" dy="1.4">0.3</tspan></text>
<rect x="512.7" y="825.0" width="103.8" height="21.9" fill="#ff9000"/>
<text x="513.9" y="843.7" font-size="14.99" text-anchor="start" fill="#000">Kupffer</text>
<text x="687.6" y="843.9" font-size="14.3" text-anchor="end" fill="#000">14.7<tspan fill="#808080" dx="2.4" font-size="14.5" dy="-1.4">±</tspan><tspan dx="1.8" dy="1.4">3.4</tspan></text>
<text x="757.4" y="843.9" font-size="14.3" text-anchor="end" fill="#000">3.1<tspan fill="#808080" dx="2.4" font-size="14.5" dy="-1.4">±</tspan><tspan dx="1.8" dy="1.4">1.9</tspan></text>
<rect x="512.7" y="846.9" width="103.8" height="21.9" fill="#1a1aff"/>
<text x="513.9" y="865.6" font-size="14.99" text-anchor="start" fill="#000">Ly6Chi Mac.</text>
<text x="687.6" y="865.8" font-size="14.3" text-anchor="end" fill="#ff0000">1.9<tspan fill="#ff6060" dx="2.4" font-size="14.5" dy="-1.4">±</tspan><tspan dx="1.8" dy="1.4">1.0</tspan></text>
<text x="757.4" y="865.8" font-size="14.3" text-anchor="end" fill="#ff0000">8.2<tspan fill="#ff6060" dx="2.4" font-size="14.5" dy="-1.4">±</tspan><tspan dx="1.8" dy="1.4">2.2</tspan></text>
<rect x="512.7" y="868.8" width="103.8" height="21.9" fill="#ff0000"/>
<text x="513.9" y="887.5" font-size="14.99" text-anchor="start" fill="#000">Ly6Clow Mac.</text>
<text x="687.6" y="887.7" font-size="14.3" text-anchor="end" fill="#ff0000">0.6<tspan fill="#ff6060" dx="2.4" font-size="14.5" dy="-1.4">±</tspan><tspan dx="1.8" dy="1.4">0.3</tspan></text>
<text x="757.4" y="887.7" font-size="14.3" text-anchor="end" fill="#ff0000">21.7<tspan fill="#ff6060" dx="2.4" font-size="14.5" dy="-1.4">±</tspan><tspan dx="1.8" dy="1.4">6.6</tspan></text>
<text x="687.7" y="712.1" font-size="15.3" text-anchor="middle" fill="#000">% in CD45.2<tspan font-size="10" dy="-6">+</tspan></text>
<text x="513.7" y="734.2" font-size="15.3" text-anchor="start" fill="#000">mice</text>
<text x="653.0" y="734.2" font-size="15.3" text-anchor="middle" fill="#000">WT</text>
<text x="724.2" y="734.2" font-size="15.3" text-anchor="middle" fill="#000">Rt2-/-</text>
<path d="M512.7,692.8H758.9V890.7H512.7ZM512.7,715.5H758.9M512.7,737.4H758.9M512.7,759.3H758.9M512.7,781.2H758.9M512.7,803.1H758.9M512.7,825.0H758.9M512.7,846.9H758.9M512.7,868.8H758.9M616.5,692.8V890.7M689.6,715.5V890.7" stroke="#000" stroke-width="1.6" fill="none"/>
<path d="M758.5,902.5V908" stroke="#000" stroke-width="1.5"/>
</svg>
</body></html>
